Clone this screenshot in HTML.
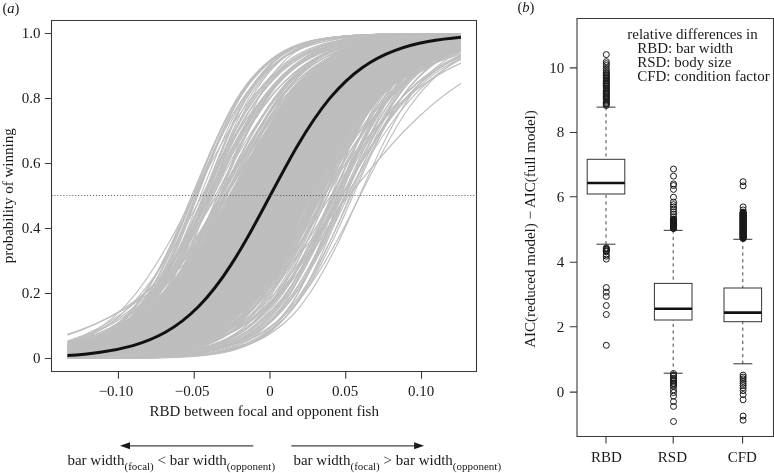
<!DOCTYPE html>
<html><head><meta charset="utf-8"><title>Figure</title>
<style>html,body{margin:0;padding:0;background:#fff;}svg{display:block;}</style>
</head><body>
<svg width="774" height="473" viewBox="0 0 774 473">
<rect width="774" height="473" fill="#fff"/>
<g fill="none" stroke="#bebebe" stroke-width="1.15"><path d="M67.4 356.4c18.7-1.1 37.5-2.6 56.2-6.8c18.7-4.2 37.5-10.9 56.2-25.9c18.8-14.9 37.5-39.8 56.2-74.8c18.8-35.1 37.5-78.8 56.3-112.7c18.7-33.9 37.4-57 56.2-70.9c18.7-13.8 37.5-19.9 56.2-23.7c18.7-3.8 37.5-5.2 56.2-6.2"/><path d="M67.4 357.9c18.7-.3 37.5-.7 56.2-2c18.7-1.2 37.5-3.1 56.2-8.2c18.8-5 37.5-13.2 56.2-30.9c18.8-17.7 37.5-46.7 56.3-84.2c18.7-37.4 37.4-80.6 56.2-111.6c18.7-31.1 37.5-50.3 56.2-61.8c18.7-11.5 37.5-16.3 56.2-19.3"/><path d="M67.4 352c18.7-2.3 37.5-5.7 56.2-12c18.7-6.4 37.5-15.7 56.2-30.9c18.8-15.2 37.5-36.8 56.2-63.5c18.8-26.7 37.5-58.2 56.3-86.1c18.7-28 37.4-51.8 56.2-68.9c18.7-17 37.5-27.9 56.2-35.3c18.7-7.4 37.5-11.4 56.2-14.1"/><path d="M67.4 357.1c18.7-.6 37.5-1.5 56.2-3.6c18.7-2 37.5-5.1 56.2-11.8c18.8-6.6 37.5-17 56.2-35.3c18.8-18.3 37.5-45.6 56.3-78.3c18.7-32.7 37.4-69.2 56.2-97.7c18.7-28.5 37.5-48.7 56.2-61.8c18.7-13.1 37.5-19.9 56.2-24.3"/><path d="M67.4 353.6c18.7-2 37.5-5.2 56.2-12.1c18.7-7 37.5-18 56.2-37.5c18.8-19.6 37.5-48.9 56.2-83.1c18.8-34.2 37.5-71.2 56.3-99c18.7-27.7 37.4-46.3 56.2-58.1c18.7-11.9 37.5-17.7 56.2-21.4c18.7-3.7 37.5-5.3 56.2-6.4"/><path d="M67.4 358.4c18.7  37.5 0 56.2-.2c18.7-.2 37.5-.5 56.2-1.5c18.8-1 37.5-2.6 56.2-7.9c18.8-5.4 37.5-14.5 56.3-37.3c18.7-22.9 37.4-63.6 56.2-109.7c18.7-46.1 37.5-89.9 56.2-115.2c18.7-25.2 37.5-35.8 56.2-41.9"/><path d="M67.4 358.3c18.7-.1 37.5-.3 56.2-.7c18.7-.4 37.5-1.1 56.2-2.8c18.8-1.7 37.5-4.3 56.2-10.6c18.8-6.4 37.5-16.7 56.3-36.8c18.7-20 37.4-51.5 56.2-88.6c18.7-37 37.5-76.8 56.2-105c18.7-28.1 37.5-45.4 56.2-55.9"/><path d="M67.4 352c18.7-2.9 37.5-7.6 56.2-18.4c18.7-10.7 37.5-28.4 56.2-57c18.8-28.7 37.5-69 56.2-106.1c18.8-37.1 37.5-68.1 56.3-87.7c18.7-19.5 37.4-29.5 56.2-35.6c18.7-6.1 37.5-8.6 56.2-10.2c18.7-1.6 37.5-2.2 56.2-2.6"/><path d="M67.4 357.7c18.7-.3 37.5-.8 56.2-1.8c18.7-1.1 37.5-2.7 56.2-6.3c18.8-3.5 37.5-9 56.2-19.7c18.8-10.8 37.5-27.4 56.3-52.4c18.7-25.1 37.4-59 56.2-92.4c18.7-33.3 37.5-64.1 56.2-85.7c18.7-21.7 37.5-35 56.2-43.5"/><path d="M67.4 354.5c18.7-1.8 37.5-4.7 56.2-12.1c18.7-7.3 37.5-19.4 56.2-42.4c18.8-23.1 37.5-58.9 56.2-97.9c18.8-38.9 37.5-77.2 56.3-102.5c18.7-25.3 37.4-39.2 56.2-47.6c18.7-8.3 37.5-11.7 56.2-13.9c18.7-2.2 37.5-3 56.2-3.5"/><path d="M67.4 358.1c18.7-.2 37.5-.6 56.2-1.6c18.7-1 37.5-2.5 56.2-7c18.8-4.5 37.5-11.9 56.2-29.3c18.8-17.4 37.5-47.3 56.3-87c18.7-39.7 37.4-85.6 56.2-117.3c18.7-31.7 37.5-49.9 56.2-60.5c18.7-10.5 37.5-14.5 56.2-17"/><path d="M67.4 355.1c18.7-1.6 37.5-4 56.2-10.3c18.7-6.3 37.5-16.7 56.2-37.2c18.8-20.6 37.5-53.4 56.2-91.8c18.8-38.3 37.5-78.8 56.3-106.6c18.7-27.8 37.4-44.1 56.2-53.9c18.7-9.7 37.5-13.8 56.2-16.3c18.7-2.6 37.5-3.6 56.2-4.2"/><path d="M67.4 352.5c18.7-2.3 37.5-5.7 56.2-12.5c18.7-6.8 37.5-17 56.2-34.2c18.8-17.2 37.5-42 56.2-71.9c18.8-29.9 37.5-63.9 56.3-92c18.7-28.1 37.4-49.8 56.2-64.6c18.7-14.7 37.5-23.2 56.2-28.8c18.7-5.5 37.5-8.3 56.2-10.2"/><path d="M67.4 346.8c18.7-4 37.5-9.8 56.2-20c18.7-10.1 37.5-24.8 56.2-45.7c18.8-20.9 37.5-48.2 56.2-77c18.8-28.7 37.5-57.8 56.3-80.8c18.7-23 37.4-40.1 56.2-51.9c18.7-11.9 37.5-18.9 56.2-23.7c18.7-4.8 37.5-7.4 56.2-9.2"/><path d="M67.4 354.3c18.7-1.7 37.5-4.4 56.2-10.4c18.7-5.9 37.5-15.3 56.2-32.6c18.8-17.2 37.5-43.6 56.2-76.4c18.8-32.8 37.5-70.6 56.3-100.4c18.7-29.9 37.4-51.3 56.2-65c18.7-13.7 37.5-20.7 56.2-25.2c18.7-4.5 37.5-6.4 56.2-7.7"/><path d="M67.4 351.4c18.7-2.5 37.5-6.1 56.2-12.6c18.7-6.5 37.5-16.1 56.2-31.2c18.8-15.1 37.5-36.2 56.2-62.2c18.8-25.9 37.5-56.3 56.3-83.6c18.7-27.4 37.4-51 56.2-68.2c18.7-17.2 37.5-28.6 56.2-36.3c18.7-7.8 37.5-12.1 56.2-15.1"/><path d="M67.4 353c18.7-3.2 37.5-8.4 56.2-24.7c18.7-16.2 37.5-47.2 56.2-92.5c18.8-45.3 37.5-98.7 56.2-131.6c18.8-32.8 37.5-47.9 56.3-56.1c18.7-8.3 37.4-10.5 56.2-12c18.7-1.5 37.5-1.9 56.2-2.2c18.7-.2 37.5-.3 56.2-.3"/><path d="M67.4 352.6c18.7-2.1 37.5-5.2 56.2-11.1c18.7-5.9 37.5-14.7 56.2-29.3c18.8-14.5 37.5-35.4 56.2-61.9c18.8-26.5 37.5-58.2 56.3-86.9c18.7-28.6 37.4-53.3 56.2-71c18.7-17.7 37.5-29 56.2-36.6c18.7-7.6 37.5-11.7 56.2-14.5"/><path d="M67.4 354.4c18.7-1.9 37.5-5 56.2-12.7c18.7-7.7 37.5-20.5 56.2-44.7c18.8-24.2 37.5-61.6 56.2-101c18.8-39.4 37.5-76.8 56.3-101c18.7-24.2 37.4-37 56.2-44.7c18.7-7.7 37.5-10.8 56.2-12.7c18.7-2 37.5-2.7 56.2-3.1"/><path d="M67.4 356c18.7-.9 37.5-2.3 56.2-5.1c18.7-2.8 37.5-6.9 56.2-14.7c18.8-7.8 37.5-19.5 56.2-38c18.8-18.4 37.5-44.2 56.3-73.7c18.7-29.6 37.4-61.9 56.2-88.3c18.7-26.4 37.5-46.5 56.2-60.4c18.7-13.8 37.5-21.8 56.2-27.2"/><path d="M67.4 349.4c18.7-2.9 37.5-6.9 56.2-13.5c18.7-6.7 37.5-16.1 56.2-30c18.8-13.9 37.5-32.7 56.2-55.5c18.8-22.9 37.5-49.6 56.3-74.8c18.7-25.3 37.4-48.7 56.2-67c18.7-18.2 37.5-31.6 56.2-41.2c18.7-9.6 37.5-15.6 56.2-19.9"/><path d="M67.4 352.3c18.7-2.6 37.5-6.5 56.2-14.7c18.7-8.2 37.5-21 56.2-42.3c18.8-21.4 37.5-52.4 56.2-86.2c18.8-33.9 37.5-68.7 56.3-94.3c18.7-25.6 37.4-42.4 56.2-53.2c18.7-10.8 37.5-16.1 56.2-19.6c18.7-3.5 37.5-5 56.2-6"/><path d="M67.4 357.3c18.7-.6 37.5-1.5 56.2-4c18.7-2.5 37.5-6.4 56.2-16.2c18.8-9.8 37.5-26.2 56.2-54.8c18.8-28.5 37.5-70.3 56.3-109.3c18.7-39 37.4-71.6 56.2-91.6c18.7-20 37.5-29.6 56.2-35.5c18.7-5.8 37.5-8 56.2-9.4"/><path d="M67.4 351c18.7-3 37.5-7.5 56.2-16.8c18.7-9.2 37.5-23.5 56.2-46.1c18.8-22.7 37.5-54.4 56.2-87.8c18.8-33.3 37.5-66.3 56.3-90.4c18.7-24 37.4-39.6 56.2-49.6c18.7-10.1 37.5-15.2 56.2-18.5c18.7-3.3 37.5-4.8 56.2-5.8"/><path d="M67.4 353.6c18.7-1.8 37.5-4.5 56.2-9.8c18.7-5.2 37.5-13.1 56.2-26.7c18.8-13.5 37.5-33.4 56.2-59.5c18.8-26.2 37.5-58.4 56.3-88.1c18.7-29.8 37.4-55.9 56.2-74.6c18.7-18.7 37.5-30.6 56.2-38.6c18.7-8 37.5-12.2 56.2-15"/><path d="M67.4 354.9c18.7-1.5 37.5-3.6 56.2-8c18.7-4.4 37.5-11.1 56.2-23.4c18.8-12.3 37.5-30.9 56.2-56.9c18.8-25.9 37.5-59.4 56.3-90.9c18.7-31.6 37.4-59.8 56.2-79.7c18.7-19.9 37.5-32.3 56.2-40.4c18.7-8.1 37.5-12.3 56.2-15"/><path d="M67.4 355.2c18.7-1.2 37.5-3.1 56.2-6.8c18.7-3.7 37.5-9.3 56.2-19.7c18.8-10.3 37.5-25.7 56.2-48.4c18.8-22.7 37.5-53 56.3-84.1c18.7-31 37.4-61.4 56.2-84.2c18.7-22.7 37.5-38.2 56.2-48.6c18.7-10.4 37.5-16 56.2-19.8"/><path d="M67.4 354.2c18.7-1.8 37.5-4.6 56.2-10.7c18.7-6.1 37.5-15.7 56.2-33.1c18.8-17.5 37.5-44.1 56.2-76.8c18.8-32.8 37.5-70.4 56.3-99.9c18.7-29.5 37.4-50.7 56.2-64.3c18.7-13.6 37.5-20.6 56.2-25.1c18.7-4.4 37.5-6.4 56.2-7.7"/><path d="M67.4 351.6c18.7-2.6 37.5-6.4 56.2-13.6c18.7-7.2 37.5-18 56.2-35.4c18.8-17.4 37.5-42.1 56.2-71.2c18.8-29.1 37.5-61.7 56.3-89c18.7-27.2 37.4-48.5 56.2-63.3c18.7-14.7 37.5-23.5 56.2-29.3c18.7-5.8 37.5-8.8 56.2-10.8"/><path d="M67.4 358.4c18.7-.1 37.5-.2 56.2-.5c18.7-.3 37.5-.8 56.2-2.2c18.8-1.4 37.5-3.6 56.2-10c18.8-6.5 37.5-17.3 56.3-40.4c18.7-23.1 37.4-61.3 56.2-103.5c18.7-42.2 37.5-83.1 56.2-108.4c18.7-25.4 37.5-37.9 56.2-45.2"/><path d="M67.4 353.3c18.7-1.9 37.5-4.7 56.2-10.2c18.7-5.4 37.5-13.6 56.2-27.5c18.8-13.9 37.5-34.1 56.2-60.5c18.8-26.3 37.5-58.4 56.3-87.8c18.7-29.4 37.4-55.1 56.2-73.4c18.7-18.4 37.5-30.1 56.2-37.9c18.7-7.8 37.5-12 56.2-14.8"/><path d="M67.4 357.4c18.7-.5 37.5-1.3 56.2-3.1c18.7-1.8 37.5-4.7 56.2-11.1c18.8-6.4 37.5-16.6 56.2-35.5c18.8-18.9 37.5-47.9 56.3-82.5c18.7-34.7 37.4-73.1 56.2-101.8c18.7-28.7 37.5-47.8 56.2-59.9c18.7-12 37.5-17.7 56.2-21.4"/><path d="M67.4 351.8c18.7-2.8 37.5-7.3 56.2-17.1c18.7-9.8 37.5-25.4 56.2-50.9c18.8-25.5 37.5-61.7 56.2-97.6c18.8-35.8 37.5-68.8 56.3-90.9c18.7-22.2 37.4-34.9 56.2-42.8c18.7-7.9 37.5-11.5 56.2-13.7c18.7-2.3 37.5-3.3 56.2-3.9"/><path d="M67.4 357.7c18.7-.4 37.5-.9 56.2-2c18.7-1.1 37.5-2.8 56.2-6.5c18.8-3.7 37.5-9.3 56.2-20.3c18.8-11 37.5-27.9 56.3-53.1c18.7-25.1 37.4-58.9 56.2-91.9c18.7-33 37.5-63.4 56.2-84.8c18.7-21.4 37.5-34.6 56.2-43.1"/><path d="M67.4 349.3c18.7-3.4 37.5-8.4 56.2-17.7c18.7-9.4 37.5-23.3 56.2-44.3c18.8-20.9 37.5-49.4 56.2-79.9c18.8-30.5 37.5-61.8 56.3-86c18.7-24.2 37.4-41.5 56.2-53.2c18.7-11.7 37.5-18.2 56.2-22.6c18.7-4.4 37.5-6.6 56.2-8.1"/><path d="M67.4 350c18.7-3.9 37.5-10.2 56.2-24c18.7-13.9 37.5-36.7 56.2-69.8c18.8-33.2 37.5-75.9 56.2-110.6c18.8-34.7 37.5-60 56.3-75.4c18.7-15.4 37.4-22.5 56.2-27c18.7-4.4 37.5-6.2 56.2-7.3c18.7-1.1 37.5-1.5 56.2-1.8"/><path d="M67.4 350.6c18.7-2.7 37.5-6.7 56.2-13.9c18.7-7.2 37.5-17.8 56.2-34.2c18.8-16.3 37.5-39.1 56.2-66c18.8-27 37.5-57.6 56.3-84.3c18.7-26.6 37.4-48.8 56.2-64.7c18.7-15.9 37.5-26.1 56.2-33c18.7-7 37.5-10.8 56.2-13.4"/><path d="M67.4 357.7c18.7-.4 37.5-.9 56.2-2.4c18.7-1.5 37.5-3.9 56.2-9.7c18.8-5.8 37.5-15.2 56.2-34.1c18.8-18.9 37.5-49.1 56.3-86.1c18.7-37 37.4-78 56.2-107.4c18.7-29.4 37.5-47.8 56.2-58.9c18.7-11.1 37.5-15.9 56.2-19"/><path d="M67.4 357.5c18.7-.5 37.5-1.2 56.2-3.1c18.7-1.8 37.5-4.7 56.2-11.5c18.8-6.8 37.5-17.8 56.2-38.5c18.8-20.7 37.5-52.7 56.3-89.5c18.7-36.8 37.4-75.5 56.2-102.9c18.7-27.3 37.5-44 56.2-54.3c18.7-10.3 37.5-14.8 56.2-17.7"/><path d="M67.4 352.5c18.7-2.3 37.5-5.6 56.2-12.2c18.7-6.6 37.5-16.5 56.2-33c18.8-16.5 37.5-40.3 56.2-69.3c18.8-29 37.5-62.4 56.3-90.7c18.7-28.3 37.4-50.8 56.2-66.3c18.7-15.5 37.5-24.7 56.2-30.8c18.7-6 37.5-9.1 56.2-11.2"/><path d="M67.4 354.6c18.7-1.5 37.5-3.8 56.2-8.3c18.7-4.6 37.5-11.5 56.2-24c18.8-12.5 37.5-31.2 56.2-57c18.8-25.8 37.5-58.8 56.3-89.8c18.7-31.1 37.4-58.9 56.2-78.7c18.7-19.8 37.5-32.3 56.2-40.5c18.7-8.2 37.5-12.5 56.2-15.3"/><path d="M67.4 354.1c18.7-1.7 37.5-4.1 56.2-8.7c18.7-4.7 37.5-11.7 56.2-23.8c18.8-12.1 37.5-29.8 56.2-54c18.8-24.3 37.5-55.1 56.3-85c18.7-29.8 37.4-57.6 56.2-78.1c18.7-20.6 37.5-34.3 56.2-43.6c18.7-9.3 37.5-14.4 56.2-17.8"/><path d="M67.4 356.7c18.7-.8 37.5-2 56.2-5c18.7-3 37.5-7.7 56.2-18c18.8-10.4 37.5-27.1 56.2-54.1c18.8-27 37.5-64.9 56.3-101.1c18.7-36.3 37.4-68.2 56.2-89.1c18.7-20.9 37.5-32.3 56.2-39.3c18.7-7.1 37.5-10.2 56.2-12.2"/><path d="M67.4 354.3c18.7-2.3 37.5-5.8 56.2-16c18.7-10.3 37.5-28.5 56.2-61.5c18.8-33.1 37.5-82 56.2-123c18.8-40.9 37.5-70.1 56.3-86.5c18.7-16.4 37.4-22.7 56.2-26.5c18.7-3.9 37.5-5 56.2-5.8c18.7-.8 37.5-1.1 56.2-1.2"/><path d="M67.4 354.9c18.7-1.8 37.5-4.5 56.2-11.7c18.7-7.2 37.5-19.3 56.2-42.9c18.8-23.7 37.5-61 56.2-101.2c18.8-40.2 37.5-78.8 56.3-103.6c18.7-24.8 37.4-37.8 56.2-45.5c18.7-7.8 37.5-10.7 56.2-12.6c18.7-1.9 37.5-2.6 56.2-3"/><path d="M67.4 354.9c18.7-1.5 37.5-3.8 56.2-9c18.7-5.2 37.5-13.2 56.2-28.5c18.8-15.3 37.5-38.9 56.2-70.1c18.8-31.2 37.5-69 56.3-100.5c18.7-31.4 37.4-55.5 56.2-71.1c18.7-15.7 37.5-23.9 56.2-29.2c18.7-5.3 37.5-7.7 56.2-9.3"/><path d="M67.4 353.1c18.7-2.3 37.5-6 56.2-14.3c18.7-8.3 37.5-21.7 56.2-44.9c18.8-23.3 37.5-57.7 56.2-94.2c18.8-36.5 37.5-72.2 56.3-96.8c18.7-24.5 37.4-39 56.2-48c18.7-9 37.5-13 56.2-15.6c18.7-2.5 37.5-3.6 56.2-4.3"/><path d="M67.4 357.2c18.7-.6 37.5-1.5 56.2-3.9c18.7-2.4 37.5-6.3 56.2-15.4c18.8-9.2 37.5-24.4 56.2-50.8c18.8-26.5 37.5-65.6 56.3-103.9c18.7-38.4 37.4-72.5 56.2-94.4c18.7-21.8 37.5-33.1 56.2-40c18.7-6.9 37.5-9.7 56.2-11.5"/><path d="M67.4 357.6c18.7-.4 37.5-1.1 56.2-2.9c18.7-1.8 37.5-4.7 56.2-11.8c18.8-7.2 37.5-19 56.2-41.8c18.8-22.8 37.5-58.4 56.3-97.5c18.7-39.1 37.4-77.8 56.2-103.3c18.7-25.6 37.5-39.7 56.2-48.1c18.7-8.5 37.5-11.9 56.2-14.1"/><path d="M67.4 356.3c18.7-1 37.5-2.6 56.2-6.3c18.7-3.8 37.5-9.7 56.2-22.3c18.8-12.6 37.5-33 56.2-63.2c18.8-30.2 37.5-70.2 56.3-105.1c18.7-34.9 37.4-62.7 56.2-80.4c18.7-17.7 37.5-26.7 56.2-32.4c18.7-5.7 37.5-8.1 56.2-9.6"/><path d="M67.4 355c18.7-1.5 37.5-3.9 56.2-9.7c18.7-5.8 37.5-15 56.2-33.1c18.8-18.1 37.5-46.7 56.2-82.1c18.8-35.4 37.5-75.5 56.3-105.4c18.7-29.9 37.4-49.7 56.2-61.8c18.7-12.2 37.5-17.8 56.2-21.4c18.7-3.5 37.5-5 56.2-5.9"/><path d="M67.4 358.1c18.7-.2 37.5-.6 56.2-1.5c18.7-.8 37.5-2.2 56.2-5.9c18.8-3.7 37.5-9.5 56.2-23.1c18.8-13.5 37.5-36.1 56.3-69.8c18.7-33.7 37.4-77.6 56.2-113c18.7-35.5 37.5-60.8 56.2-76c18.7-15.3 37.5-22.1 56.2-26.3"/><path d="M67.4 353.1c18.7-2 37.5-5 56.2-11c18.7-5.9 37.5-14.8 56.2-30c18.8-15.2 37.5-37.4 56.2-65.4c18.8-27.9 37.5-61.3 56.3-90.4c18.7-29.2 37.4-53.4 56.2-70.2c18.7-16.8 37.5-27 56.2-33.8c18.7-6.8 37.5-10.2 56.2-12.6"/><path d="M67.4 351.4c18.7-2.4 37.5-6 56.2-12.7c18.7-6.6 37.5-16.3 56.2-31.8c18.8-15.5 37.5-37.2 56.2-63.7c18.8-26.5 37.5-57.4 56.3-84.8c18.7-27.5 37.4-50.8 56.2-67.6c18.7-16.8 37.5-27.7 56.2-35.1c18.7-7.4 37.5-11.4 56.2-14.2"/><path d="M67.4 353.6c18.7-2.3 37.5-5.9 56.2-14.5c18.7-8.7 37.5-23 56.2-48.5c18.8-25.5 37.5-63.6 56.2-102c18.8-38.5 37.5-73.7 56.3-96.5c18.7-22.8 37.4-34.9 56.2-42.2c18.7-7.4 37.5-10.4 56.2-12.3c18.7-1.9 37.5-2.6 56.2-3.1"/><path d="M67.4 352.8c18.7-2.2 37.5-5.5 56.2-12c18.7-6.4 37.5-16.3 56.2-32.9c18.8-16.6 37.5-40.8 56.2-70.3c18.8-29.5 37.5-63.5 56.3-92.1c18.7-28.5 37.4-51 56.2-66.2c18.7-15.3 37.5-24.2 56.2-30c18.7-5.9 37.5-8.8 56.2-10.7"/><path d="M67.4 357.5c18.7-.4 37.5-1.1 56.2-2.9c18.7-1.8 37.5-4.5 56.2-11.2c18.8-6.6 37.5-17.3 56.2-37.7c18.8-20.5 37.5-52.2 56.3-89.1c18.7-36.9 37.4-76.1 56.2-103.8c18.7-27.6 37.5-44.6 56.2-55c18.7-10.4 37.5-14.9 56.2-17.8"/><path d="M67.4 358.1c18.7-.2 37.5-.4 56.2-1.2c18.7-.8 37.5-2 56.2-5.4c18.8-3.4 37.5-8.8 56.2-21.7c18.8-13 37.5-34.9 56.3-68.6c18.7-33.6 37.4-78.5 56.2-114.9c18.7-36.4 37.5-62.3 56.2-77.8c18.7-15.4 37.5-22.2 56.2-26.3"/><path d="M67.4 357.7c18.7-.3 37.5-.9 56.2-2.5c18.7-1.6 37.5-4 56.2-10.4c18.8-6.4 37.5-16.9 56.2-38.2c18.8-21.3 37.5-55.4 56.3-94.7c18.7-39.2 37.4-79.8 56.2-107c18.7-27.1 37.5-42.4 56.2-51.5c18.7-9.1 37.5-12.7 56.2-15.1"/><path d="M67.4 353.6c18.7-2.3 37.5-5.7 56.2-13.8c18.7-8.1 37.5-21.2 56.2-44.5c18.8-23.3 37.5-58.3 56.2-95.5c18.8-37.2 37.5-73.6 56.3-98.2c18.7-24.7 37.4-38.9 56.2-47.7c18.7-8.8 37.5-12.5 56.2-15c18.7-2.4 37.5-3.4 56.2-4"/><path d="M67.4 353.1c18.7-2.1 37.5-5.1 56.2-11.2c18.7-6 37.5-15.1 56.2-30.7c18.8-15.5 37.5-38.2 56.2-66.6c18.8-28.5 37.5-62.1 56.3-91.2c18.7-29.1 37.4-52.9 56.2-69.3c18.7-16.4 37.5-26.2 56.2-32.7c18.7-6.5 37.5-9.8 56.2-12"/><path d="M67.4 352.3c18.7-2.6 37.5-6.6 56.2-15.1c18.7-8.4 37.5-21.7 56.2-43.8c18.8-22.2 37.5-54.1 56.2-88.6c18.8-34.4 37.5-69.1 56.3-94.1c18.7-25 37.4-41 56.2-51.2c18.7-10.1 37.5-15.1 56.2-18.3c18.7-3.2 37.5-4.6 56.2-5.5"/><path d="M67.4 354.8c18.7-1.7 37.5-4.3 56.2-10.3c18.7-6 37.5-15.6 56.2-34.1c18.8-18.4 37.5-47.1 56.2-82.3c18.8-35.1 37.5-74.6 56.3-104c18.7-29.4 37.4-48.9 56.2-61c18.7-12.1 37.5-17.8 56.2-21.4c18.7-3.6 37.5-5.1 56.2-6"/><path d="M67.4 356.9c18.7-.6 37.5-1.7 56.2-4.1c18.7-2.5 37.5-6.2 56.2-14.5c18.8-8.2 37.5-21.3 56.2-43.6c18.8-22.4 37.5-55.2 56.3-90.5c18.7-35.3 37.4-70.7 56.2-95.8c18.7-25.1 37.5-40.7 56.2-50.6c18.7-9.8 37.5-14.4 56.2-17.3"/><path d="M67.4 356.4c18.7-.9 37.5-2.3 56.2-5.6c18.7-3.2 37.5-8.2 56.2-18.8c18.8-10.6 37.5-27.4 56.2-53.6c18.8-26.2 37.5-62.4 56.3-97.4c18.7-35 37.4-66.4 56.2-87.7c18.7-21.2 37.5-33.3 56.2-41c18.7-7.7 37.5-11.2 56.2-13.5"/><path d="M67.4 349.5c18.7-2.8 37.5-6.8 56.2-13.5c18.7-6.7 37.5-16.2 56.2-30.4c18.8-14.2 37.5-33.4 56.2-56.7c18.8-23.3 37.5-50.5 56.3-76c18.7-25.5 37.4-48.9 56.2-66.9c18.7-18.1 37.5-31.1 56.2-40.4c18.7-9.2 37.5-15 56.2-19"/><path d="M67.4 351.7c18.7-2.4 37.5-5.8 56.2-12.2c18.7-6.4 37.5-15.7 56.2-30.8c18.8-15 37.5-36.1 56.2-62.3c18.8-26.1 37.5-56.9 56.3-84.6c18.7-27.6 37.4-51.5 56.2-68.8c18.7-17.3 37.5-28.6 56.2-36.3c18.7-7.7 37.5-11.9 56.2-14.8"/><path d="M67.4 354.6c18.7-1.4 37.5-3.4 56.2-7.5c18.7-4 37.5-10 56.2-20.7c18.8-10.7 37.5-26.4 56.2-48.8c18.8-22.3 37.5-51.7 56.3-81.7c18.7-29.9 37.4-59.3 56.2-81.6c18.7-22.4 37.5-38.1 56.2-48.8c18.7-10.6 37.5-16.6 56.2-20.6"/><path d="M67.4 346.4c18.7-4.2 37.5-10.6 56.2-21.8c18.7-11.3 37.5-27.7 56.2-50.9c18.8-23.1 37.5-53.1 56.2-83c18.8-30 37.5-58.7 56.3-80.4c18.7-21.6 37.4-36.5 56.2-46.6c18.7-10.1 37.5-15.8 56.2-19.6c18.7-3.8 37.5-5.7 56.2-7"/><path d="M67.4 357.9c18.7-.3 37.5-.7 56.2-1.9c18.7-1.3 37.5-3.2 56.2-8.5c18.8-5.3 37.5-14 56.2-32.8c18.8-18.9 37.5-50.2 56.3-89.4c18.7-39.1 37.4-82.5 56.2-112.4c18.7-29.9 37.5-47.2 56.2-57.4c18.7-10.2 37.5-14.2 56.2-16.8"/><path d="M67.4 355.8c18.7-1.1 37.5-2.7 56.2-6.4c18.7-3.6 37.5-9.2 56.2-20.4c18.8-11.1 37.5-28.3 56.2-54.1c18.8-25.8 37.5-60.4 56.3-93.9c18.7-33.4 37.4-63.7 56.2-84.7c18.7-21.1 37.5-33.7 56.2-41.9c18.7-8.1 37.5-12 56.2-14.6"/><path d="M67.4 352.2c18.7-2.8 37.5-7 56.2-16.5c18.7-9.4 37.5-24.6 56.2-49.8c18.8-25.2 37.5-61.3 56.2-97.5c18.8-36.2 37.5-69.7 56.3-92.3c18.7-22.6 37.4-35.4 56.2-43.5c18.7-8 37.5-11.6 56.2-13.9c18.7-2.3 37.5-3.2 56.2-3.8"/><path d="M67.4 353.7c18.7-2 37.5-5 56.2-11.8c18.7-6.8 37.5-17.4 56.2-36.4c18.8-19.1 37.5-47.7 56.2-81.6c18.8-33.8 37.5-70.9 56.3-99.1c18.7-28.2 37.4-47.4 56.2-59.7c18.7-12.2 37.5-18.3 56.2-22.2c18.7-3.9 37.5-5.6 56.2-6.7"/><path d="M67.4 350.7c18.7-3.7 37.5-9.7 56.2-23.6c18.7-14 37.5-37.4 56.2-72c18.8-34.7 37.5-79.3 56.2-114.6c18.8-35.2 37.5-59.6 56.3-74.1c18.7-14.5 37.4-20.8 56.2-24.7c18.7-3.9 37.5-5.4 56.2-6.3c18.7-.9 37.5-1.2 56.2-1.5"/><path d="M67.4 354.3c18.7-1.6 37.5-4.1 56.2-9c18.7-4.9 37.5-12.4 56.2-25.7c18.8-13.3 37.5-33.1 56.2-59.9c18.8-26.7 37.5-60.2 56.3-90.9c18.7-30.8 37.4-57.5 56.2-76.3c18.7-18.8 37.5-30.4 56.2-38c18.7-7.6 37.5-11.6 56.2-14.2"/><path d="M67.4 349.6c18.7-2.9 37.5-7.2 56.2-14.7c18.7-7.5 37.5-18.4 56.2-34.8c18.8-16.3 37.5-38.7 56.2-64.9c18.8-26.2 37.5-55.8 56.3-81.7c18.7-25.9 37.4-47.7 56.2-63.7c18.7-15.9 37.5-26.4 56.2-33.6c18.7-7.2 37.5-11.4 56.2-14.2"/><path d="M67.4 355c18.7-1.6 37.5-4.1 56.2-10.1c18.7-6.1 37.5-15.8 56.2-35c18.8-19.1 37.5-49.3 56.2-85.8c18.8-36.5 37.5-76.7 56.3-105.8c18.7-29 37.4-47.3 56.2-58.5c18.7-11.2 37.5-16.2 56.2-19.3c18.7-3.2 37.5-4.4 56.2-5.2"/><path d="M67.4 349.5c18.7-3 37.5-7.2 56.2-14.6c18.7-7.4 37.5-18 56.2-34c18.8-15.9 37.5-37.6 56.2-63.2c18.8-25.6 37.5-54.6 56.3-80.4c18.7-25.8 37.4-48 56.2-64.3c18.7-16.4 37.5-27.4 56.2-35c18.7-7.6 37.5-12.1 56.2-15.1"/><path d="M67.4 356.8c18.7-1 37.5-2.3 56.2-6.6c18.7-4.4 37.5-11.4 56.2-28.9c18.8-17.4 37.5-47.9 56.2-88.8c18.8-40.9 37.5-88.1 56.3-119.8c18.7-31.8 37.4-49.2 56.2-59.2c18.7-9.9 37.5-13.5 56.2-15.7c18.7-2.2 37.5-2.9 56.2-3.4"/><path d="M67.4 353c18.7-1.9 37.5-4.7 56.2-9.8c18.7-5.2 37.5-12.7 56.2-25.2c18.8-12.4 37.5-30.2 56.2-53.7c18.8-23.6 37.5-52.8 56.3-81.2c18.7-28.4 37.4-55 56.2-75.1c18.7-20.2 37.5-34.3 56.2-44c18.7-9.7 37.5-15.3 56.2-19.2"/><path d="M67.4 357.5c18.7-.7 37.5-1.5 56.2-7c18.7-5.5 37.5-15.5 56.2-48.6c18.8-33.1 37.5-97.7 56.2-150.8c18.8-53.2 37.5-83.3 56.3-97c18.7-13.6 37.4-16.2 56.2-18c18.7-1.8 37.5-2.1 56.2-2.3c18.7-.2 37.5-.2 56.2-.3"/><path d="M67.4 358.3c18.7-.1 37.5-.3 56.2-.7c18.7-.5 37.5-1.2 56.2-3.4c18.8-2.2 37.5-5.6 56.2-14.9c18.8-9.3 37.5-25.2 56.3-54.4c18.7-29.3 37.4-73.4 56.2-114.1c18.7-40.7 37.5-73.7 56.2-93.3c18.7-19.5 37.5-28.2 56.2-33.4"/><path d="M67.4 356.8c18.7-.9 37.5-2.1 56.2-5.6c18.7-3.5 37.5-9.1 56.2-22.2c18.8-13.2 37.5-35.3 56.2-68.8c18.8-33.5 37.5-77.8 56.3-113.9c18.7-36 37.4-61.8 56.2-77.3c18.7-15.5 37.5-22.3 56.2-26.6c18.7-4.2 37.5-5.8 56.2-6.8"/><path d="M67.4 354.5c18.7-2 37.5-5 56.2-12.9c18.7-8 37.5-21.2 56.2-46.4c18.8-25.2 37.5-64.2 56.2-104.3c18.8-40.1 37.5-77 56.3-100.2c18.7-23.3 37.4-35.1 56.2-42.2c18.7-7 37.5-9.7 56.2-11.5c18.7-1.7 37.5-2.3 56.2-2.7"/><path d="M67.4 356.7c18.7-.8 37.5-2.1 56.2-5.4c18.7-3.3 37.5-8.5 56.2-20.5c18.8-11.9 37.5-31.7 56.2-62.5c18.8-30.8 37.5-72.6 56.3-109.1c18.7-36.4 37.4-64.9 56.2-82.6c18.7-17.7 37.5-26.2 56.2-31.5c18.7-5.3 37.5-7.4 56.2-8.7"/><path d="M67.4 348.8c18.7-3.2 37.5-7.9 56.2-15.9c18.7-8.1 37.5-19.6 56.2-36.8c18.8-17.2 37.5-40.3 56.2-66.7c18.8-26.5 37.5-55.8 56.3-81.1c18.7-25.2 37.4-46.1 56.2-61.3c18.7-15.2 37.5-25.1 56.2-32c18.7-6.8 37.5-10.7 56.2-13.4"/><path d="M67.4 357.3c18.7-.5 37.5-1.2 56.2-2.7c18.7-1.4 37.5-3.7 56.2-8.3c18.8-4.6 37.5-11.6 56.2-24.3c18.8-12.7 37.5-31.7 56.3-58c18.7-26.3 37.4-59.9 56.2-91.1c18.7-31.3 37.5-58.9 56.2-78.3c18.7-19.5 37.5-31.6 56.2-39.5"/><path d="M67.4 354.9c18.7-1.8 37.5-4.5 56.2-11.7c18.7-7.1 37.5-19.1 56.2-42.5c18.8-23.5 37.5-60.5 56.2-100.5c18.8-40.1 37.5-78.9 56.3-103.9c18.7-24.9 37.4-38.1 56.2-46c18.7-7.8 37.5-10.9 56.2-12.8c18.7-2 37.5-2.6 56.2-3.1"/><path d="M67.4 351.8c18.7-2.3 37.5-5.6 56.2-11.6c18.7-6 37.5-14.8 56.2-28.7c18.8-14 37.5-33.6 56.2-58.2c18.8-24.7 37.5-54.3 56.3-81.8c18.7-27.6 37.4-52.3 56.2-70.8c18.7-18.5 37.5-31.1 56.2-39.8c18.7-8.7 37.5-13.7 56.2-17.2"/><path d="M67.4 358.3c18.7-.1 37.5-.3 56.2-.8c18.7-.4 37.5-1.2 56.2-3.5c18.8-2.3 37.5-6 56.2-16c18.8-10.1 37.5-27.6 56.3-58.9c18.7-31.3 37.4-77.7 56.2-118.1c18.7-40.5 37.5-71.2 56.2-88.9c18.7-17.8 37.5-25.2 56.2-29.7"/><path d="M67.4 351.2c18.7-2.7 37.5-6.6 56.2-13.9c18.7-7.4 37.5-18.3 56.2-35.7c18.8-17.3 37.5-41.7 56.2-70.3c18.8-28.6 37.5-60.7 56.3-87.6c18.7-27 37.4-48.3 56.2-63.2c18.7-14.9 37.5-23.8 56.2-29.8c18.7-6 37.5-9.2 56.2-11.3"/><path d="M67.4 354.6c18.7-1.5 37.5-3.7 56.2-8c18.7-4.4 37.5-10.9 56.2-22.6c18.8-11.7 37.5-29 56.2-53.3c18.8-24.3 37.5-55.7 56.3-86.3c18.7-30.6 37.4-59.2 56.2-80.2c18.7-21 37.5-34.8 56.2-44.1c18.7-9.2 37.5-14.2 56.2-17.6"/><path d="M67.4 356.7c18.7-.9 37.5-2.1 56.2-5.3c18.7-3.2 37.5-8.1 56.2-19.2c18.8-11.1 37.5-29 56.2-57.4c18.8-28.5 37.5-67.8 56.3-104.1c18.7-36.2 37.4-66.8 56.2-86.4c18.7-19.6 37.5-29.8 56.2-36.2c18.7-6.4 37.5-9 56.2-10.8"/><path d="M67.4 358c18.7-.2 37.5-.6 56.2-1.6c18.7-1 37.5-2.5 56.2-6.5c18.8-4 37.5-10.4 56.2-24.6c18.8-14.3 37.5-37.8 56.3-71.7c18.7-34 37.4-77.1 56.2-111.6c18.7-34.5 37.5-58.9 56.2-73.8c18.7-14.8 37.5-21.5 56.2-25.7"/><path d="M67.4 357.2c18.7-.5 37.5-1.4 56.2-3.7c18.7-2.3 37.5-5.9 56.2-14.3c18.8-8.5 37.5-22.3 56.2-46.9c18.8-24.5 37.5-61.1 56.3-98.9c18.7-37.8 37.4-73.4 56.2-97c18.7-23.6 37.5-36.7 56.2-44.7c18.7-8 37.5-11.3 56.2-13.5"/><path d="M67.4 358c18.7-.2 37.5-.5 56.2-1.5c18.7-.9 37.5-2.4 56.2-6.5c18.8-4 37.5-10.6 56.2-25.7c18.8-15 37.5-40.4 56.3-76.3c18.7-36 37.4-80.8 56.2-114.9c18.7-34 37.5-56.5 56.2-69.9c18.7-13.3 37.5-18.9 56.2-22.4"/><path d="M67.4 355.2c18.7-1.4 37.5-3.5 56.2-8.4c18.7-4.9 37.5-12.6 56.2-27.5c18.8-15 37.5-38.3 56.2-69.7c18.8-31.3 37.5-69.9 56.3-102c18.7-32.1 37.4-56.6 56.2-72.3c18.7-15.8 37.5-24 56.2-29.3c18.7-5.2 37.5-7.5 56.2-9"/><path d="M67.4 349.5c18.7-2.9 37.5-7.1 56.2-14.3c18.7-7.3 37.5-17.7 56.2-33.4c18.8-15.6 37.5-36.9 56.2-62.2c18.8-25.2 37.5-54 56.3-79.9c18.7-25.8 37.4-48.2 56.2-64.9c18.7-16.6 37.5-27.9 56.2-35.8c18.7-7.9 37.5-12.5 56.2-15.7"/><path d="M67.4 352.1c18.7-2.4 37.5-6.1 56.2-13.2c18.7-7 37.5-17.8 56.2-35.4c18.8-17.6 37.5-42.9 56.2-72.8c18.8-30 37.5-63.6 56.3-91.1c18.7-27.6 37.4-48.8 56.2-63.2c18.7-14.3 37.5-22.6 56.2-28.1c18.7-5.4 37.5-8.2 56.2-10"/><path d="M67.4 354.3c18.7-2.5 37.5-6.4 56.2-19.6c18.7-13.2 37.5-38.5 56.2-81c18.8-42.5 37.5-98.8 56.2-136.1c18.8-37.3 37.5-56.2 56.3-66.3c18.7-10.1 37.4-12.9 56.2-14.7c18.7-1.8 37.5-2.3 56.2-2.6c18.7-.3 37.5-.4 56.2-.4"/><path d="M67.4 356.6c18.7-1 37.5-2.3 56.2-6c18.7-3.7 37.5-9.5 56.2-22.7c18.8-13.1 37.5-34.9 56.2-67.5c18.8-32.6 37.5-75.3 56.3-110.8c18.7-35.5 37.4-61.8 56.2-77.8c18.7-16.1 37.5-23.6 56.2-28.2c18.7-4.7 37.5-6.4 56.2-7.6"/><path d="M67.4 355.1c18.7-1.4 37.5-3.7 56.2-8.9c18.7-5.2 37.5-13.4 56.2-29.4c18.8-16 37.5-41.1 56.2-73.8c18.8-32.8 37.5-72.1 56.3-103.5c18.7-31.4 37.4-54.3 56.2-68.8c18.7-14.5 37.5-21.7 56.2-26.4c18.7-4.6 37.5-6.5 56.2-7.8"/><path d="M67.4 356.1c18.7-1.1 37.5-2.7 56.2-6.5c18.7-3.9 37.5-9.9 56.2-22.6c18.8-12.6 37.5-32.8 56.2-62.6c18.8-29.7 37.5-68.9 56.3-103.3c18.7-34.5 37.4-62.4 56.2-80.4c18.7-17.9 37.5-27.4 56.2-33.3c18.7-5.9 37.5-8.5 56.2-10.1"/><path d="M67.4 335.1c18.7-6.1 37.5-14.5 56.2-26.4c18.7-11.9 37.5-27.6 56.2-46.7c18.8-19.2 37.5-41.9 56.2-64.8c18.8-22.9 37.5-45.8 56.3-65.2c18.7-19.4 37.4-35.3 56.2-47.4c18.7-12.2 37.5-20.7 56.2-27c18.7-6.3 37.5-10.4 56.2-13.3"/><path d="M67.4 350.8c18.7-2.8 37.5-7 56.2-14.9c18.7-7.8 37.5-19.5 56.2-37.9c18.8-18.4 37.5-44.1 56.2-73.5c18.8-29.5 37.5-61.6 56.3-87.9c18.7-26.3 37.4-46.5 56.2-60.3c18.7-13.9 37.5-22 56.2-27.5c18.7-5.4 37.5-8.2 56.2-10.1"/><path d="M67.4 349.4c18.7-3.6 37.5-9.1 56.2-19.9c18.7-10.8 37.5-27.4 56.2-52.4c18.8-25 37.5-58.7 56.2-91.8c18.8-33.2 37.5-63.8 56.3-85.5c18.7-21.6 37.4-35 56.2-43.6c18.7-8.6 37.5-12.9 56.2-15.7c18.7-2.8 37.5-4.1 56.2-4.9"/><path d="M67.4 354.5c18.7-1.4 37.5-3.6 56.2-8c18.7-4.4 37.5-10.9 56.2-22.6c18.8-11.6 37.5-28.9 56.2-53.2c18.8-24.2 37.5-55.4 56.3-86c18.7-30.6 37.4-59.1 56.2-80.1c18.7-21 37.5-34.9 56.2-44.2c18.7-9.4 37.5-14.4 56.2-17.7"/><path d="M67.4 358.2c18.7-.1 37.5-.3 56.2-.9c18.7-.6 37.5-1.4 56.2-3.8c18.8-2.5 37.5-6.3 56.2-15.7c18.8-9.5 37.5-25.4 56.3-53.3c18.7-27.8 37.4-69 56.2-108.1c18.7-39.1 37.5-72.3 56.2-93c18.7-20.6 37.5-30.7 56.2-36.8"/><path d="M67.4 348.5c18.7-3.1 37.5-7.6 56.2-14.9c18.7-7.3 37.5-17.7 56.2-32.8c18.8-15.1 37.5-35.3 56.2-59.2c18.8-23.8 37.5-51.1 56.3-76.1c18.7-24.9 37.4-47.2 56.2-64.3c18.7-17.1 37.5-29.2 56.2-37.9c18.7-8.6 37.5-13.9 56.2-17.6"/><path d="M67.4 344.8c18.7-4.1 37.5-9.9 56.2-19.1c18.7-9.3 37.5-22.1 56.2-39.8c18.8-17.7 37.5-40.4 56.2-65.3c18.8-24.8 37.5-51.4 56.3-74.5c18.7-23.1 37.4-42.4 56.2-56.9c18.7-14.4 37.5-24.4 56.2-31.4c18.7-7 37.5-11.3 56.2-14.4"/><path d="M67.4 349.9c18.7-2.7 37.5-6.6 56.2-13.1c18.7-6.5 37.5-15.7 56.2-29.7c18.8-13.9 37.5-32.8 56.2-55.9c18.8-23.2 37.5-50.4 56.3-76.1c18.7-25.7 37.4-49.4 56.2-67.8c18.7-18.4 37.5-31.6 56.2-41.1c18.7-9.5 37.5-15.3 56.2-19.4"/><path d="M67.4 357.8c18.7-.3 37.5-.8 56.2-2.1c18.7-1.3 37.5-3.4 56.2-8.8c18.8-5.4 37.5-14.1 56.2-32.6c18.8-18.4 37.5-48.5 56.3-86.3c18.7-37.7 37.4-80.1 56.2-110.2c18.7-30.2 37.5-48.6 56.2-59.6c18.7-11 37.5-15.6 56.2-18.6"/><path d="M67.4 355.3c18.7-1.3 37.5-3.2 56.2-7.2c18.7-4.1 37.5-10.3 56.2-22.2c18.8-11.8 37.5-29.8 56.2-55.8c18.8-26 37.5-60 56.3-92.4c18.7-32.4 37.4-61.5 56.2-81.8c18.7-20.4 37.5-32.8 56.2-40.9c18.7-8.1 37.5-12.1 56.2-14.8"/><path d="M67.4 357.4c18.7-.5 37.5-1.2 56.2-3c18.7-1.7 37.5-4.4 56.2-10.5c18.8-6.1 37.5-15.7 56.2-33.6c18.8-18 37.5-45.4 56.3-79.2c18.7-33.8 37.4-72.1 56.2-101.6c18.7-29.5 37.5-50 56.2-62.9c18.7-13 37.5-19.4 56.2-23.4"/><path d="M67.4 354.4c18.7-1.5 37.5-3.8 56.2-8.2c18.7-4.4 37.5-10.9 56.2-22.4c18.8-11.6 37.5-28.5 56.2-52.2c18.8-23.6 37.5-54.1 56.3-84.2c18.7-30.1 37.4-58.6 56.2-79.9c18.7-21.2 37.5-35.6 56.2-45.3c18.7-9.7 37.5-15.1 56.2-18.7"/><path d="M67.4 353.2c18.7-2.3 37.5-5.8 56.2-13.8c18.7-8.1 37.5-20.9 56.2-43.5c18.8-22.5 37.5-55.9 56.2-92.1c18.8-36.1 37.5-72.2 56.3-97.4c18.7-25.2 37.4-40.5 56.2-50c18.7-9.5 37.5-13.8 56.2-16.6c18.7-2.7 37.5-3.9 56.2-4.6"/><path d="M67.4 350.9c18.7-2.9 37.5-7.3 56.2-15.8c18.7-8.6 37.5-21.7 56.2-42.4c18.8-20.6 37.5-49.7 56.2-81.4c18.8-31.8 37.5-64.8 56.3-90c18.7-25.3 37.4-43 56.2-54.7c18.7-11.7 37.5-18 56.2-22.2c18.7-4.2 37.5-6.1 56.2-7.5"/><path d="M67.4 358.3c18.7-.1 37.5-.2 56.2-.7c18.7-.4 37.5-1.1 56.2-3.1c18.8-1.9 37.5-5 56.2-13c18.8-8.1 37.5-21.7 56.3-47.5c18.7-25.9 37.4-65.9 56.2-106.4c18.7-40.5 37.5-77 56.2-99.7c18.7-22.6 37.5-33.7 56.2-40.4"/><path d="M67.4 355c18.7-1.4 37.5-3.5 56.2-8.1c18.7-4.5 37.5-11.5 56.2-24.7c18.8-13.2 37.5-33.4 56.2-61.3c18.8-28 37.5-63.5 56.3-95.6c18.7-32.1 37.4-59.2 56.2-77.7c18.7-18.4 37.5-29.2 56.2-36.1c18.7-7 37.5-10.3 56.2-12.5"/><path d="M67.4 354.9c18.7-1.5 37.5-3.6 56.2-8c18.7-4.4 37.5-11.1 56.2-23.4c18.8-12.4 37.5-30.9 56.2-56.9c18.8-26 37.5-59.4 56.3-91c18.7-31.5 37.4-59.7 56.2-79.6c18.7-19.9 37.5-32.3 56.2-40.4c18.7-8.1 37.5-12.2 56.2-15"/><path d="M67.4 356.1c18.7-1 37.5-2.5 56.2-6c18.7-3.5 37.5-8.9 56.2-20c18.8-11.1 37.5-28.6 56.2-55.2c18.8-26.6 37.5-62.7 56.3-97.1c18.7-34.3 37.4-64.8 56.2-85.5c18.7-20.6 37.5-32.5 56.2-40.1c18.7-7.5 37.5-11 56.2-13.3"/><path d="M67.4 351.8c18.7-2.4 37.5-5.9 56.2-12.4c18.7-6.5 37.5-16.2 56.2-31.7c18.8-15.5 37.5-37.5 56.2-64.4c18.8-27 37.5-58.4 56.3-86.2c18.7-27.7 37.4-51.1 56.2-67.9c18.7-16.7 37.5-27.3 56.2-34.5c18.7-7.2 37.5-11.1 56.2-13.7"/><path d="M67.4 357.1c18.7-.7 37.5-1.6 56.2-4c18.7-2.3 37.5-5.9 56.2-13.9c18.8-8.1 37.5-20.9 56.2-43.2c18.8-22.3 37.5-55.3 56.3-91.1c18.7-35.8 37.4-71.8 56.2-97.1c18.7-25.4 37.5-40.9 56.2-50.6c18.7-9.7 37.5-14.2 56.2-17.1"/><path d="M67.4 354.6c18.7-1.7 37.5-4.4 56.2-10.5c18.7-6.1 37.5-15.8 56.2-34.1c18.8-18.3 37.5-46.6 56.2-81.2c18.8-34.6 37.5-73.5 56.3-102.9c18.7-29.3 37.4-49.1 56.2-61.5c18.7-12.4 37.5-18.4 56.2-22.1c18.7-3.8 37.5-5.4 56.2-6.4"/><path d="M67.4 357.1c18.7-.6 37.5-1.6 56.2-4.3c18.7-2.7 37.5-7 56.2-17.5c18.8-10.4 37.5-27.9 56.2-57.2c18.8-29.4 37.5-71.5 56.3-109.7c18.7-38.3 37.4-69.6 56.2-88.8c18.7-19.2 37.5-28.4 56.2-34c18.7-5.7 37.5-7.8 56.2-9.2"/><path d="M67.4 356.9c18.7-.7 37.5-1.8 56.2-4.2c18.7-2.5 37.5-6.3 56.2-14.5c18.8-8.2 37.5-21.1 56.2-43.1c18.8-22 37.5-54 56.3-88.9c18.7-34.8 37.4-70.1 56.2-95.4c18.7-25.4 37.5-41.5 56.2-51.6c18.7-10.2 37.5-15.1 56.2-18.2"/><path d="M67.4 350.1c18.7-4.1 37.5-10.6 56.2-25.6c18.7-15.1 37.5-40.4 56.2-76.4c18.8-36 37.5-80.9 56.2-115c18.8-34.1 37.5-56.6 56.3-69.9c18.7-13.3 37.4-18.9 56.2-22.4c18.7-3.5 37.5-4.8 56.2-5.6c18.7-.8 37.5-1.1 56.2-1.3"/><path d="M67.4 352.7c18.7-2.2 37.5-5.3 56.2-11.5c18.7-6.1 37.5-15.2 56.2-30.5c18.8-15.3 37.5-37.4 56.2-65c18.8-27.6 37.5-60.2 56.3-88.9c18.7-28.7 37.4-52.6 56.2-69.5c18.7-16.8 37.5-27.2 56.2-34.1c18.7-6.9 37.5-10.6 56.2-13"/><path d="M67.4 353.7c18.7-2.2 37.5-5.7 56.2-14.3c18.7-8.6 37.5-22.7 56.2-48.2c18.8-25.4 37.5-63.6 56.2-102.3c18.8-38.6 37.5-74.1 56.3-96.9c18.7-22.9 37.4-35 56.2-42.3c18.7-7.3 37.5-10.3 56.2-12.2c18.7-1.9 37.5-2.6 56.2-3"/><path d="M67.4 344.5c18.7-5 37.5-12.4 56.2-25.1c18.7-12.7 37.5-31.2 56.2-56c18.8-24.9 37.5-56 56.2-85.6c18.8-29.7 37.5-56.7 56.3-76.5c18.7-19.8 37.4-32.9 56.2-41.8c18.7-8.8 37.5-13.7 56.2-16.9c18.7-3.3 37.5-4.9 56.2-6"/><path d="M67.4 356.7c18.7-.8 37.5-1.9 56.2-4.4c18.7-2.5 37.5-6.4 56.2-14.2c18.8-7.9 37.5-20.1 56.2-40.4c18.8-20.3 37.5-49.7 56.3-82.6c18.7-33 37.4-67.7 56.2-94c18.7-26.3 37.5-44.3 56.2-56.1c18.7-11.7 37.5-17.7 56.2-21.6"/><path d="M67.4 357.2c18.7-.6 37.5-1.4 56.2-3.5c18.7-2 37.5-5.2 56.2-12.2c18.8-7.1 37.5-18.3 56.2-38.4c18.8-20.1 37.5-50.4 56.3-85.3c18.7-34.9 37.4-72.2 56.2-99.6c18.7-27.4 37.5-45.3 56.2-56.5c18.7-11.3 37.5-16.6 56.2-20.1"/><path d="M67.4 353.7c18.7-2 37.5-5 56.2-11.4c18.7-6.4 37.5-16.3 56.2-33.9c18.8-17.6 37.5-43.9 56.2-76c18.8-32 37.5-68.5 56.3-97.4c18.7-29 37.4-50.2 56.2-64c18.7-13.8 37.5-21 56.2-25.7c18.7-4.7 37.5-6.9 56.2-8.3"/><path d="M67.4 356.9c18.7-.7 37.5-1.8 56.2-4.7c18.7-2.8 37.5-7.3 56.2-17.4c18.8-10.1 37.5-26.6 56.2-53.9c18.8-27.2 37.5-66 56.3-103c18.7-37 37.4-69.3 56.2-90.1c18.7-20.9 37.5-31.9 56.2-38.7c18.7-6.9 37.5-9.7 56.2-11.6"/><path d="M67.4 357.4c18.7-.5 37.5-1.2 56.2-3.1c18.7-1.8 37.5-4.6 56.2-11.1c18.8-6.4 37.5-16.7 56.2-36c18.8-19.2 37.5-48.7 56.3-83.8c18.7-35.2 37.4-73.7 56.2-102.2c18.7-28.5 37.5-47.2 56.2-58.9c18.7-11.7 37.5-17.2 56.2-20.7"/><path d="M67.4 355.1c18.7-1.5 37.5-3.9 56.2-9.8c18.7-5.9 37.5-15.4 56.2-34.4c18.8-18.9 37.5-49 56.2-85.7c18.8-36.7 37.5-77.3 56.3-106.6c18.7-29.3 37.4-47.7 56.2-59c18.7-11.2 37.5-16.1 56.2-19.2c18.7-3.2 37.5-4.4 56.2-5.2"/><path d="M67.4 358.4c18.7 0 37.5-.1 56.2-.3c18.7-.3 37.5-.6 56.2-1.7c18.8-1.1 37.5-2.8 56.2-7.8c18.8-5.1 37.5-13.5 56.3-33.1c18.7-19.6 37.4-53.3 56.2-95.1c18.7-41.8 37.5-86.8 56.2-116c18.7-29.2 37.5-44.4 56.2-53.2"/><path d="M67.4 353.2c18.7-2.1 37.5-5.3 56.2-11.9c18.7-6.6 37.5-16.8 56.2-34.4c18.8-17.5 37.5-43.4 56.2-74.7c18.8-31.3 37.5-66.7 56.3-95.3c18.7-28.5 37.4-49.8 56.2-63.9c18.7-14 37.5-21.7 56.2-26.7c18.7-5 37.5-7.3 56.2-8.9"/><path d="M67.4 358.2c18.7-.2 37.5-.4 56.2-1.3c18.7-.8 37.5-2 56.2-5.9c18.8-3.8 37.5-10.1 56.2-26c18.8-15.8 37.5-43.7 56.3-83.2c18.7-39.6 37.4-87.6 56.2-121.3c18.7-33.7 37.5-53.2 56.2-64.4c18.7-11.1 37.5-15.1 56.2-17.7"/><path d="M67.4 354.4c18.7-1.8 37.5-4.7 56.2-11.7c18.7-6.9 37.5-18.2 56.2-39.6c18.8-21.3 37.5-54.4 56.2-91.8c18.8-37.4 37.5-76 56.3-102.8c18.7-26.8 37.4-42.7 56.2-52.5c18.7-9.7 37.5-13.9 56.2-16.6c18.7-2.7 37.5-3.7 56.2-4.4"/><path d="M67.4 354.7c18.7-1.6 37.5-3.9 56.2-9c18.7-5.1 37.5-12.9 56.2-27.4c18.8-14.6 37.5-36.7 56.2-66.2c18.8-29.6 37.5-65.9 56.3-97.3c18.7-31.3 37.4-56.6 56.2-73.4c18.7-16.9 37.5-26.3 56.2-32.4c18.7-6.1 37.5-8.9 56.2-10.8"/><path d="M67.4 354.9c18.7-1.4 37.5-3.5 56.2-7.8c18.7-4.4 37.5-11.1 56.2-23.4c18.8-12.3 37.5-31 56.2-57.1c18.8-26.2 37.5-59.9 56.3-91.6c18.7-31.7 37.4-60 56.2-79.8c18.7-19.8 37.5-32.1 56.2-40.1c18.7-8 37.5-12 56.2-14.7"/><path d="M67.4 353.8c18.7-1.9 37.5-4.7 56.2-10.4c18.7-5.8 37.5-14.5 56.2-30c18.8-15.5 37.5-38.5 56.2-67.9c18.8-29.3 37.5-64.4 56.3-94.3c18.7-29.9 37.4-53.8 56.2-70c18.7-16.2 37.5-25.6 56.2-31.6c18.7-6.1 37.5-9.1 56.2-11.1"/><path d="M67.4 345.7c18.7-4.6 37.5-11.6 56.2-23.8c18.7-12.3 37.5-30.4 56.2-55.3c18.8-24.9 37.5-56.6 56.2-87c18.8-30.3 37.5-58.2 56.3-78.4c18.7-20.2 37.4-33.5 56.2-42.3c18.7-8.8 37.5-13.6 56.2-16.8c18.7-3.1 37.5-4.7 56.2-5.8"/><path d="M67.4 354.6c18.7-1.7 37.5-4.2 56.2-10c18.7-5.7 37.5-14.7 56.2-31.6c18.8-16.9 37.5-42.9 56.2-75.7c18.8-32.8 37.5-71.1 56.3-101.4c18.7-30.3 37.4-52.1 56.2-66.1c18.7-13.9 37.5-21 56.2-25.5c18.7-4.5 37.5-6.5 56.2-7.8"/><path d="M67.4 353.5c18.7-1.8 37.5-4.5 56.2-9.6c18.7-5 37.5-12.5 56.2-25.3c18.8-12.7 37.5-31.2 56.2-55.8c18.8-24.6 37.5-55.3 56.3-84.5c18.7-29.3 37.4-56.1 56.2-75.8c18.7-19.8 37.5-33.1 56.2-42.1c18.7-9 37.5-14 56.2-17.4"/><path d="M67.4 355.9c18.7-1.1 37.5-2.8 56.2-7.1c18.7-4.2 37.5-10.9 56.2-24.9c18.8-14 37.5-36.4 56.2-68.1c18.8-31.7 37.5-72.1 56.3-105.8c18.7-33.8 37.4-59.4 56.2-75.6c18.7-16.1 37.5-24.2 56.2-29.3c18.7-5 37.5-7.1 56.2-8.5"/><path d="M67.4 355.2c18.7-1.3 37.5-3.3 56.2-7.6c18.7-4.3 37.5-11 56.2-23.7c18.8-12.7 37.5-32.1 56.2-59.6c18.8-27.5 37.5-62.9 56.3-95.3c18.7-32.5 37.4-60.4 56.2-79.4c18.7-19.1 37.5-30.2 56.2-37.5c18.7-7.2 37.5-10.6 56.2-12.9"/><path d="M67.4 353.3c18.7-1.9 37.5-4.8 56.2-10.6c18.7-5.9 37.5-14.6 56.2-29.8c18.8-15.1 37.5-37.2 56.2-65.4c18.8-28.2 37.5-61.9 56.3-91.4c18.7-29.4 37.4-53.8 56.2-70.6c18.7-16.9 37.5-27 56.2-33.6c18.7-6.7 37.5-10.1 56.2-12.4"/><path d="M67.4 356.7c18.7-.7 37.5-1.8 56.2-4.1c18.7-2.3 37.5-5.9 56.2-13.1c18.8-7.2 37.5-18.4 56.2-37.1c18.8-18.8 37.5-46.1 56.3-77.9c18.7-31.8 37.4-66.8 56.2-94.2c18.7-27.5 37.5-47.4 56.2-60.4c18.7-13.1 37.5-20.1 56.2-24.7"/><path d="M67.4 355.1c18.7-1.9 37.5-4.8 56.2-14c18.7-9.2 37.5-25.6 56.2-58c18.8-32.4 37.5-82.5 56.2-125.4c18.8-42.9 37.5-73.6 56.3-90.5c18.7-16.9 37.4-23.1 56.2-26.8c18.7-3.8 37.5-4.9 56.2-5.6c18.7-.7 37.5-.9 56.2-1.1"/><path d="M67.4 355.9c18.7-1.1 37.5-2.6 56.2-6.1c18.7-3.5 37.5-8.8 56.2-19.2c18.8-10.5 37.5-26.6 56.2-51.1c18.8-24.4 37.5-57.7 56.3-90.9c18.7-33.1 37.4-64.3 56.2-86.5c18.7-22.1 37.5-36 56.2-45c18.7-8.9 37.5-13.4 56.2-16.3"/><path d="M67.4 354.4c18.7-2 37.5-4.9 56.2-12.3c18.7-7.3 37.5-19.3 56.2-41.8c18.8-22.6 37.5-57.4 56.2-95.6c18.8-38.2 37.5-76.3 56.3-102c18.7-25.7 37.4-40.3 56.2-49.2c18.7-8.8 37.5-12.5 56.2-14.9c18.7-2.4 37.5-3.3 56.2-3.8"/><path d="M67.4 358.2c18.7-.2 37.5-.4 56.2-1.2c18.7-.8 37.5-1.9 56.2-5.4c18.8-3.5 37.5-9.1 56.2-23c18.8-14 37.5-38.1 56.3-74.5c18.7-36.3 37.4-83.4 56.2-119.2c18.7-35.8 37.5-59.2 56.2-72.6c18.7-13.5 37.5-18.8 56.2-22.2"/><path d="M67.4 353.8c18.7-2 37.5-5.1 56.2-12.1c18.7-7 37.5-18.1 56.2-38.2c18.8-20.1 37.5-50.4 56.2-85.4c18.8-35 37.5-72.5 56.3-100c18.7-27.4 37.4-45.3 56.2-56.6c18.7-11.2 37.5-16.6 56.2-20c18.7-3.4 37.5-4.9 56.2-5.8"/><path d="M67.4 354.7c18.7-1.5 37.5-3.6 56.2-8c18.7-4.3 37.5-10.9 56.2-22.7c18.8-11.8 37.5-29.3 56.2-54c18.8-24.7 37.5-56.5 56.3-87.4c18.7-30.9 37.4-59.5 56.2-80.3c18.7-20.7 37.5-34.3 56.2-43.3c18.7-9 37.5-13.8 56.2-17"/><path d="M67.4 352.1c18.7-2.7 37.5-6.7 56.2-15c18.7-8.3 37.5-21.2 56.2-42.6c18.8-21.4 37.5-52.2 56.2-85.9c18.8-33.6 37.5-68.1 56.3-93.5c18.7-25.5 37.4-42.3 56.2-53.1c18.7-10.8 37.5-16.2 56.2-19.8c18.7-3.5 37.5-5.1 56.2-6.2"/><path d="M67.4 349.2c18.7-3.1 37.5-7.6 56.2-15.3c18.7-7.7 37.5-18.8 56.2-35.5c18.8-16.6 37.5-39.2 56.2-65.3c18.8-26.2 37.5-55.5 56.3-81.1c18.7-25.6 37.4-47.1 56.2-62.8c18.7-15.7 37.5-26 56.2-33.1c18.7-7.2 37.5-11.3 56.2-14.1"/><path d="M67.4 355.3c18.7-1.4 37.5-3.6 56.2-8.7c18.7-5.1 37.5-13.1 56.2-29.1c18.8-16 37.5-41.3 56.2-74.5c18.8-33.3 37.5-73.1 56.3-104.8c18.7-31.7 37.4-54.4 56.2-68.7c18.7-14.3 37.5-21.3 56.2-25.7c18.7-4.5 37.5-6.3 56.2-7.5"/><path d="M67.4 358.4c18.7-.1 37.5-.2 56.2-.5c18.7-.4 37.5-.9 56.2-2.7c18.8-1.8 37.5-4.6 56.2-13.5c18.8-8.9 37.5-24.7 56.3-56.4c18.7-31.7 37.4-81.3 56.2-124.5c18.7-43.2 37.5-74.9 56.2-92.3c18.7-17.5 37.5-23.9 56.2-27.8"/><path d="M67.4 350c18.7-3.1 37.5-7.8 56.2-16.6c18.7-8.8 37.5-22 56.2-42.3c18.8-20.2 37.5-48.2 56.2-78.7c18.8-30.5 37.5-62.4 56.3-87.4c18.7-24.9 37.4-43 56.2-55.3c18.7-12.2 37.5-19.1 56.2-23.6c18.7-4.6 37.5-6.9 56.2-8.5"/><path d="M67.4 354.8c18.7-1.5 37.5-3.8 56.2-8.7c18.7-5 37.5-12.5 56.2-26.7c18.8-14.2 37.5-35.7 56.2-64.8c18.8-29.1 37.5-65.3 56.3-96.8c18.7-31.6 37.4-57.4 56.2-74.7c18.7-17.3 37.5-27.1 56.2-33.4c18.7-6.3 37.5-9.3 56.2-11.3"/><path d="M67.4 352.2c18.7-2.4 37.5-5.9 56.2-12.6c18.7-6.7 37.5-16.7 56.2-33.2c18.8-16.4 37.5-40 56.2-68.6c18.8-28.6 37.5-61.4 56.3-89.4c18.7-28 37.4-50.5 56.2-66.1c18.7-15.6 37.5-25 56.2-31.3c18.7-6.2 37.5-9.4 56.2-11.6"/><path d="M67.4 354c18.7-1.6 37.5-4 56.2-8.4c18.7-4.4 37.5-10.9 56.2-22.1c18.8-11.2 37.5-27.4 56.2-49.8c18.8-22.4 37.5-51.2 56.3-80.2c18.7-29.1 37.4-57.3 56.2-79.1c18.7-21.7 37.5-37.2 56.2-47.8c18.7-10.6 37.5-16.8 56.2-21"/><path d="M67.4 349.3c18.7-3.4 37.5-8.4 56.2-17.6c18.7-9.2 37.5-23 56.2-43.7c18.8-20.8 37.5-49 56.2-79.3c18.8-30.4 37.5-61.6 56.3-85.9c18.7-24.3 37.4-41.8 56.2-53.7c18.7-11.9 37.5-18.7 56.2-23.2c18.7-4.4 37.5-6.7 56.2-8.3"/><path d="M67.4 356.8c18.7-.7 37.5-1.8 56.2-4.5c18.7-2.7 37.5-6.8 56.2-15.9c18.8-9 37.5-23.4 56.2-47.4c18.8-24.1 37.5-58.7 56.3-94.4c18.7-35.8 37.4-69.9 56.2-93.5c18.7-23.5 37.5-37.5 56.2-46.3c18.7-8.7 37.5-12.7 56.2-15.3"/><path d="M67.4 353.7c18.7-1.9 37.5-4.9 56.2-11.4c18.7-6.5 37.5-16.6 56.2-34.6c18.8-18 37.5-45 56.2-77.7c18.8-32.7 37.5-69.5 56.3-98.3c18.7-28.8 37.4-49.4 56.2-62.7c18.7-13.3 37.5-20.2 56.2-24.6c18.7-4.4 37.5-6.4 56.2-7.7"/><path d="M67.4 355.4c18.7-1.4 37.5-3.6 56.2-8.9c18.7-5.4 37.5-13.9 56.2-31.2c18.8-17.2 37.5-44.8 56.2-80c18.8-35.3 37.5-76.3 56.3-107.2c18.7-30.9 37.4-51.6 56.2-64.3c18.7-12.6 37.5-18.4 56.2-22.1c18.7-3.7 37.5-5.2 56.2-6.1"/><path d="M67.4 356.4c18.7-.8 37.5-2.2 56.2-5.2c18.7-3.1 37.5-7.9 56.2-17.8c18.8-9.9 37.5-25.6 56.2-50.5c18.8-24.9 37.5-59.6 56.3-94.4c18.7-34.8 37.4-67.2 56.2-89.6c18.7-22.4 37.5-35.8 56.2-44.3c18.7-8.4 37.5-12.4 56.2-15"/><path d="M67.4 353.3c18.7-2 37.5-5.1 56.2-11.3c18.7-6.1 37.5-15.6 56.2-31.9c18.8-16.3 37.5-40.3 56.2-70.1c18.8-29.8 37.5-64.5 56.3-93.7c18.7-29.1 37.4-52 56.2-67.5c18.7-15.4 37.5-24.2 56.2-30c18.7-5.8 37.5-8.6 56.2-10.5"/><path d="M67.4 349.8c18.7-3.6 37.5-9.2 56.2-20.5c18.7-11.2 37.5-28.8 56.2-55.3c18.8-26.5 37.5-62.3 56.2-96.3c18.8-34 37.5-64.2 56.3-84.8c18.7-20.6 37.4-32.6 56.2-40.2c18.7-7.7 37.5-11.2 56.2-13.6c18.7-2.3 37.5-3.3 56.2-4"/><path d="M67.4 357.8c18.7-.3 37.5-.8 56.2-2.2c18.7-1.5 37.5-3.7 56.2-9.8c18.8-6.1 37.5-16.1 56.2-37.2c18.8-21.1 37.5-55.5 56.3-95.6c18.7-40.1 37.4-81.7 56.2-109.2c18.7-27.5 37.5-42.5 56.2-51.4c18.7-8.9 37.5-12.3 56.2-14.5"/><path d="M67.4 354.9c18.7-1.5 37.5-3.8 56.2-8.7c18.7-5 37.5-12.7 56.2-27.3c18.8-14.6 37.5-37 56.2-67.1c18.8-30 37.5-67.1 56.3-98.8c18.7-31.7 37.4-56.8 56.2-73.4c18.7-16.6 37.5-25.7 56.2-31.5c18.7-5.9 37.5-8.6 56.2-10.3"/><path d="M67.4 352.7c18.7-2.2 37.5-5.5 56.2-12.2c18.7-6.7 37.5-16.9 56.2-34c18.8-17.2 37.5-42.1 56.2-72.2c18.8-30.1 37.5-64.4 56.3-92.7c18.7-28.3 37.4-50.1 56.2-64.9c18.7-14.7 37.5-23 56.2-28.5c18.7-5.5 37.5-8.2 56.2-10"/><path d="M67.4 351.9c18.7-2.3 37.5-5.7 56.2-12.1c18.7-6.3 37.5-15.7 56.2-30.9c18.8-15.2 37.5-36.7 56.2-63.4c18.8-26.6 37.5-57.9 56.3-85.8c18.7-27.9 37.4-51.7 56.2-68.8c18.7-17.1 37.5-28 56.2-35.4c18.7-7.4 37.5-11.5 56.2-14.2"/><path d="M67.4 353.5c18.7-1.8 37.5-4.5 56.2-9.9c18.7-5.3 37.5-13.3 56.2-27c18.8-13.6 37.5-33.6 56.2-59.9c18.8-26.2 37.5-58.5 56.3-88.1c18.7-29.6 37.4-55.6 56.2-74.2c18.7-18.6 37.5-30.4 56.2-38.3c18.7-7.9 37.5-12.1 56.2-14.9"/><path d="M67.4 355.3c18.7-1.4 37.5-3.5 56.2-8.2c18.7-4.7 37.5-12 56.2-26.2c18.8-14.3 37.5-36.4 56.2-66.8c18.8-30.3 37.5-68.2 56.3-100.6c18.7-32.4 37.4-58 56.2-74.7c18.7-16.7 37.5-25.6 56.2-31.4c18.7-5.7 37.5-8.2 56.2-9.9"/><path d="M67.4 353.6c18.7-1.9 37.5-4.7 56.2-10.2c18.7-5.5 37.5-13.8 56.2-28.3c18.8-14.4 37.5-35.7 56.2-63.2c18.8-27.5 37.5-60.9 56.3-90.7c18.7-29.8 37.4-55 56.2-72.6c18.7-17.6 37.5-28.3 56.2-35.4c18.7-7.1 37.5-10.8 56.2-13.2"/><path d="M67.4 355.9c18.7-1.3 37.5-3.2 56.2-8.4c18.7-5.2 37.5-13.5 56.2-31.5c18.8-18 37.5-47.5 56.2-85.1c18.8-37.7 37.5-80.7 56.3-111.4c18.7-30.8 37.4-49.6 56.2-60.9c18.7-11.3 37.5-15.9 56.2-18.9c18.7-3 37.5-4 56.2-4.7"/><path d="M67.4 358.5c18.7-.1 37.5-.1 56.2-.3c18.7-.2 37.5-.4 56.2-1.6c18.8-1.2 37.5-2.9 56.2-10.5c18.8-7.5 37.5-21.6 56.3-55.9c18.7-34.2 37.4-92.6 56.2-140.1c18.7-47.5 37.5-77 56.2-91.6c18.7-14.7 37.5-18.5 56.2-21"/><path d="M67.4 353.2c18.7-2.2 37.5-5.4 56.2-12.2c18.7-6.7 37.5-17.1 56.2-35.1c18.8-18 37.5-44.4 56.2-76.1c18.8-31.7 37.5-67.3 56.3-95.6c18.7-28.3 37.4-49.1 56.2-62.8c18.7-13.6 37.5-21 56.2-25.7c18.7-4.8 37.5-7 56.2-8.5"/><path d="M67.4 352.2c18.7-2.8 37.5-7.2 56.2-16.8c18.7-9.5 37.5-25 56.2-50.5c18.8-25.5 37.5-62 56.2-98.3c18.8-36.2 37.5-69.5 56.3-91.8c18.7-22.3 37.4-34.9 56.2-42.7c18.7-7.9 37.5-11.3 56.2-13.5c18.7-2.3 37.5-3.2 56.2-3.8"/><path d="M67.4 353.6c18.7-1.8 37.5-4.5 56.2-9.9c18.7-5.4 37.5-13.6 56.2-27.7c18.8-14.1 37.5-34.7 56.2-61.8c18.8-27 37.5-60 56.3-89.9c18.7-29.8 37.4-55.4 56.2-73.4c18.7-18 37.5-29.2 56.2-36.6c18.7-7.5 37.5-11.3 56.2-13.9"/><path d="M67.4 351.8c18.7-3 37.5-7.6 56.2-18c18.7-10.3 37.5-27.1 56.2-54.3c18.8-27.1 37.5-65.4 56.2-101.9c18.8-36.4 37.5-68.3 56.3-89.1c18.7-20.7 37.4-31.9 56.2-38.9c18.7-7 37.5-9.9 56.2-11.8c18.7-1.9 37.5-2.7 56.2-3.2"/><path d="M67.4 355.8c18.7-1.1 37.5-2.7 56.2-6.1c18.7-3.5 37.5-8.6 56.2-18.7c18.8-10 37.5-25.3 56.2-48.4c18.8-23.2 37.5-54.8 56.3-87.2c18.7-32.4 37.4-63.8 56.2-86.8c18.7-23 37.5-38.1 56.2-48c18.7-9.9 37.5-15 56.2-18.4"/><path d="M67.4 356.5c18.7-.8 37.5-2 56.2-4.5c18.7-2.6 37.5-6.4 56.2-14.2c18.8-7.7 37.5-19.6 56.2-39.1c18.8-19.5 37.5-47.5 56.3-79.3c18.7-31.9 37.4-66.1 56.2-92.7c18.7-26.6 37.5-45.5 56.2-58.1c18.7-12.5 37.5-19.2 56.2-23.7"/><path d="M67.4 354.4c18.7-1.8 37.5-4.5 56.2-10.8c18.7-6.4 37.5-16.4 56.2-35.2c18.8-18.7 37.5-47.6 56.2-82.4c18.8-34.8 37.5-73.3 56.3-102.2c18.7-28.9 37.4-48.2 56.2-60.3c18.7-12 37.5-17.8 56.2-21.5c18.7-3.7 37.5-5.2 56.2-6.2"/><path d="M67.4 357.9c18.7-.2 37.5-.7 56.2-1.8c18.7-1.2 37.5-3.1 56.2-8.1c18.8-5 37.5-13.1 56.2-30.9c18.8-17.8 37.5-47.4 56.3-85.5c18.7-38.2 37.4-81.8 56.2-112.8c18.7-31 37.5-49.8 56.2-60.9c18.7-11.1 37.5-15.6 56.2-18.5"/><path d="M67.4 356.7c18.7-.9 37.5-2.1 56.2-5.1c18.7-2.9 37.5-7.5 56.2-17.6c18.8-10 37.5-26 56.2-51.9c18.8-25.9 37.5-62.3 56.3-98.1c18.7-35.8 37.4-68.3 56.2-90.1c18.7-21.8 37.5-34.1 56.2-41.9c18.7-7.7 37.5-11.1 56.2-13.4"/><path d="M67.4 350.8c18.7-2.6 37.5-6.3 56.2-12.7c18.7-6.4 37.5-15.7 56.2-30c18.8-14.3 37.5-34.1 56.2-58.4c18.8-24.3 37.5-53 56.3-79.6c18.7-26.6 37.4-50.6 56.2-68.6c18.7-18.1 37.5-30.6 56.2-39.4c18.7-8.8 37.5-14 56.2-17.6"/><path d="M67.4 357.4c18.7-.5 37.5-1.2 56.2-3c18.7-1.7 37.5-4.5 56.2-10.7c18.8-6.3 37.5-16.3 56.2-35c18.8-18.7 37.5-47.4 56.3-82.2c18.7-34.7 37.4-73.4 56.2-102.3c18.7-29 37.5-48.4 56.2-60.5c18.7-12.2 37.5-17.9 56.2-21.6"/><path d="M67.4 358.3c18.7-.1 37.5-.3 56.2-.8c18.7-.5 37.5-1.3 56.2-3.9c18.8-2.6 37.5-6.8 56.2-18.4c18.8-11.6 37.5-32.3 56.3-67.5c18.7-35.2 37.4-84.8 56.2-124c18.7-39.2 37.5-65.4 56.2-80.1c18.7-14.7 37.5-20.2 56.2-23.6"/><path d="M67.4 356.1c18.7-1.5 37.5-3.7 56.2-13.4c18.7-9.6 37.5-28.4 56.2-68.5c18.8-40.1 37.5-101.9 56.2-145.2c18.8-43.3 37.5-65.7 56.3-76.9c18.7-11.3 37.4-13.9 56.2-15.8c18.7-1.8 37.5-2.1 56.2-2.4c18.7-.2 37.5-.3 56.2-.3"/><path d="M67.4 351.8c18.7-2.7 37.5-6.9 56.2-15.5c18.7-8.7 37.5-22.2 56.2-44.3c18.8-22 37.5-53.5 56.2-87.4c18.8-33.8 37.5-67.8 56.3-92.7c18.7-24.8 37.4-40.9 56.2-51.3c18.7-10.4 37.5-15.5 56.2-18.9c18.7-3.3 37.5-4.8 56.2-5.8"/><path d="M67.4 358.4c18.7-.1 37.5-.2 56.2-.6c18.7-.3 37.5-.9 56.2-2.6c18.8-1.7 37.5-4.4 56.2-12.1c18.8-7.8 37.5-21.2 56.3-48.1c18.7-27 37.4-70.1 56.2-112.6c18.7-42.6 37.5-79.2 56.2-100.8c18.7-21.6 37.5-31.2 56.2-36.9"/><path d="M67.4 354.3c18.7-2.1 37.5-5.4 56.2-14.3c18.7-9 37.5-24.2 56.2-52.6c18.8-28.4 37.5-71.7 56.2-112.5c18.8-40.8 37.5-74.8 56.3-95.1c18.7-20.3 37.4-29.5 56.2-35c18.7-5.6 37.5-7.5 56.2-8.8c18.7-1.3 37.5-1.7 56.2-2"/><path d="M67.4 357.6c18.7-.5 37.5-1.2 56.2-3.1c18.7-1.8 37.5-4.8 56.2-12.2c18.8-7.5 37.5-19.8 56.2-43.4c18.8-23.5 37.5-60.2 56.3-99.4c18.7-39.3 37.4-77.4 56.2-102.2c18.7-24.8 37.5-38.2 56.2-46.2c18.7-8.1 37.5-11.3 56.2-13.3"/><path d="M67.4 355.6c18.7-1.2 37.5-2.8 56.2-6.1c18.7-3.4 37.5-8.3 56.2-17.6c18.8-9.3 37.5-23.2 56.2-44.2c18.8-21.1 37.5-49.7 56.3-80.4c18.7-30.7 37.4-62.1 56.2-86.4c18.7-24.3 37.5-41.5 56.2-53.2c18.7-11.6 37.5-18.1 56.2-22.4"/><path d="M67.4 353c18.7-2 37.5-4.9 56.2-10.4c18.7-5.5 37.5-13.6 56.2-27.2c18.8-13.6 37.5-33.1 56.2-58.4c18.8-25.4 37.5-56.3 56.3-85.2c18.7-28.8 37.4-54.6 56.2-73.4c18.7-18.9 37.5-31.3 56.2-39.7c18.7-8.5 37.5-13.1 56.2-16.3"/><path d="M67.4 354.3c18.7-1.7 37.5-4.2 56.2-9.8c18.7-5.6 37.5-14.2 56.2-30c18.8-15.8 37.5-39.7 56.2-70.5c18.8-30.8 37.5-67.6 56.3-98.1c18.7-30.5 37.4-54 56.2-69.5c18.7-15.4 37.5-23.8 56.2-29.3c18.7-5.4 37.5-7.9 56.2-9.6"/><path d="M67.4 350.9c18.7-2.9 37.5-7.3 56.2-15.8c18.7-8.5 37.5-21.5 56.2-41.9c18.8-20.5 37.5-49.2 56.2-80.7c18.8-31.5 37.5-64.4 56.3-89.8c18.7-25.3 37.4-43.3 56.2-55.2c18.7-11.9 37.5-18.4 56.2-22.7c18.7-4.3 37.5-6.3 56.2-7.7"/><path d="M67.4 356.5c18.7-.8 37.5-2.1 56.2-5.2c18.7-3 37.5-7.8 56.2-17.8c18.8-10.1 37.5-26.2 56.2-51.7c18.8-25.6 37.5-61.4 56.3-96.7c18.7-35.2 37.4-67.6 56.2-89.5c18.7-21.9 37.5-34.6 56.2-42.6c18.7-8 37.5-11.6 56.2-14"/><path d="M67.4 352.7c18.7-2.1 37.5-5.4 56.2-11.9c18.7-6.4 37.5-16.2 56.2-32.6c18.8-16.4 37.5-40.2 56.2-69.4c18.8-29.2 37.5-63 56.3-91.6c18.7-28.5 37.4-51.2 56.2-66.7c18.7-15.5 37.5-24.6 56.2-30.6c18.7-6 37.5-9.1 56.2-11.1"/><path d="M67.4 353.8c18.7-1.7 37.5-4.3 56.2-9.2c18.7-4.9 37.5-12.2 56.2-24.8c18.8-12.7 37.5-31.1 56.2-55.9c18.8-24.9 37.5-56 56.3-85.8c18.7-29.7 37.4-56.8 56.2-76.7c18.7-19.9 37.5-33 56.2-41.9c18.7-8.8 37.5-13.7 56.2-16.9"/><path d="M67.4 355.4c18.7-1.4 37.5-3.6 56.2-9c18.7-5.4 37.5-14.1 56.2-31.8c18.8-17.7 37.5-46 56.2-81.9c18.8-35.9 37.5-77.2 56.3-107.8c18.7-30.6 37.4-50.6 56.2-62.7c18.7-12.2 37.5-17.7 56.2-21.1c18.7-3.5 37.5-4.8 56.2-5.7"/><path d="M67.4 353.1c18.7-2.2 37.5-5.5 56.2-12.3c18.7-6.9 37.5-17.5 56.2-35.8c18.8-18.3 37.5-45.3 56.2-77.3c18.8-31.9 37.5-67.6 56.3-95.7c18.7-28.1 37.4-48.4 56.2-61.8c18.7-13.3 37.5-20.4 56.2-25c18.7-4.6 37.5-6.8 56.2-8.2"/><path d="M67.4 350.9c18.7-3.6 37.5-9.3 56.2-22.5c18.7-13.3 37.5-35.4 56.2-68.8c18.8-33.3 37.5-77.1 56.2-112.9c18.8-35.7 37.5-61.5 56.3-77.1c18.7-15.5 37.4-22.5 56.2-26.9c18.7-4.3 37.5-5.9 56.2-7c18.7-1.1 37.5-1.4 56.2-1.7"/><path d="M67.4 357.8c18.7-.4 37.5-1 56.2-2.5c18.7-1.6 37.5-4.1 56.2-10.6c18.8-6.5 37.5-17.3 56.2-39.3c18.8-21.9 37.5-57.1 56.3-97c18.7-39.8 37.4-80.2 56.2-106.8c18.7-26.6 37.5-41 56.2-49.6c18.7-8.6 37.5-12 56.2-14.1"/><path d="M67.4 355.4c18.7-1.4 37.5-3.4 56.2-8.1c18.7-4.8 37.5-12.1 56.2-26.6c18.8-14.5 37.5-37.2 56.2-68.2c18.8-30.9 37.5-69.5 56.3-102c18.7-32.5 37.4-57.6 56.2-73.8c18.7-16.3 37.5-24.8 56.2-30.2c18.7-5.4 37.5-7.8 56.2-9.4"/><path d="M67.4 353.6c18.7-2.1 37.5-5.5 56.2-13.2c18.7-7.7 37.5-20.1 56.2-42.4c18.8-22.3 37.5-55.9 56.2-92.5c18.8-36.6 37.5-73.5 56.3-99.1c18.7-25.6 37.4-40.9 56.2-50.4c18.7-9.5 37.5-13.7 56.2-16.4c18.7-2.7 37.5-3.8 56.2-4.5"/><path d="M67.4 356.4c18.7-.8 37.5-2 56.2-4.8c18.7-2.7 37.5-6.9 56.2-15.3c18.8-8.4 37.5-21.4 56.2-42.5c18.8-21.1 37.5-51.1 56.3-83.9c18.7-32.8 37.4-66.7 56.2-92.1c18.7-25.4 37.5-42.6 56.2-53.8c18.7-11.3 37.5-17.1 56.2-20.9"/><path d="M67.4 355.1c18.7-1.7 37.5-4.2 56.2-10.7c18.7-6.5 37.5-17.2 56.2-38.6c18.8-21.3 37.5-55.3 56.2-94.2c18.8-38.9 37.5-79 56.3-106.1c18.7-27.1 37.4-42.5 56.2-51.7c18.7-9.2 37.5-12.9 56.2-15.3c18.7-2.4 37.5-3.2 56.2-3.8"/><path d="M67.4 342.9c18.7-4.6 37.5-10.9 56.2-20.8c18.7-9.9 37.5-23.5 56.2-41.6c18.8-18.1 37.5-40.9 56.2-65.4c18.8-24.5 37.5-50.2 56.3-72.3c18.7-22.2 37.4-40.7 56.2-54.6c18.7-13.9 37.5-23.5 56.2-30.4c18.7-6.8 37.5-11.1 56.2-14.1"/><path d="M67.4 354c18.7-1.7 37.5-4.2 56.2-9.3c18.7-5 37.5-12.6 56.2-25.9c18.8-13.3 37.5-33 56.2-59.3c18.8-26.3 37.5-59.1 56.3-89.4c18.7-30.3 37.4-56.9 56.2-75.8c18.7-18.9 37.5-30.8 56.2-38.6c18.7-7.9 37.5-12.1 56.2-14.8"/><path d="M67.4 351.2c18.7-2.5 37.5-6.2 56.2-12.9c18.7-6.7 37.5-16.5 56.2-32c18.8-15.5 37.5-37.1 56.2-63.5c18.8-26.3 37.5-56.9 56.3-84.2c18.7-27.2 37.4-50.4 56.2-67.2c18.7-16.9 37.5-27.8 56.2-35.2c18.7-7.5 37.5-11.6 56.2-14.5"/><path d="M67.4 356.8c18.7-.7 37.5-1.9 56.2-4.9c18.7-2.9 37.5-7.6 56.2-18.1c18.8-10.5 37.5-27.7 56.2-55.6c18.8-27.9 37.5-67.2 56.3-104c18.7-36.8 37.4-68.3 56.2-88.5c18.7-20.2 37.5-30.8 56.2-37.3c18.7-6.6 37.5-9.3 56.2-11"/><path d="M67.4 349.8c18.7-3.5 37.5-8.8 56.2-19.3c18.7-10.5 37.5-26.7 56.2-51.2c18.8-24.5 37.5-57.8 56.2-90.9c18.8-33.2 37.5-64.4 56.3-86.5c18.7-22.1 37.4-35.9 56.2-44.8c18.7-9 37.5-13.4 56.2-16.3c18.7-2.9 37.5-4.3 56.2-5.1"/><path d="M67.4 354.7c18.7-1.4 37.5-3.6 56.2-8.2c18.7-4.5 37.5-11.5 56.2-24.2c18.8-12.6 37.5-31.8 56.2-58.2c18.8-26.5 37.5-60.3 56.3-91.8c18.7-31.4 37.4-59.1 56.2-78.5c18.7-19.4 37.5-31.3 56.2-39.1c18.7-7.9 37.5-11.8 56.2-14.4"/><path d="M67.4 354.5c18.7-1.5 37.5-3.7 56.2-8.3c18.7-4.5 37.5-11.4 56.2-23.8c18.8-12.3 37.5-30.7 56.2-56.2c18.8-25.5 37.5-58 56.3-88.9c18.7-30.9 37.4-58.8 56.2-78.9c18.7-20 37.5-32.8 56.2-41.2c18.7-8.5 37.5-12.9 56.2-15.9"/><path d="M67.4 352c18.7-2.8 37.5-6.9 56.2-15.6c18.7-8.6 37.5-22.2 56.2-44.6c18.8-22.3 37.5-54.3 56.2-88.5c18.8-34.2 37.5-68.4 56.3-93.1c18.7-24.7 37.4-40.5 56.2-50.6c18.7-10.1 37.5-15.1 56.2-18.3c18.7-3.2 37.5-4.6 56.2-5.6"/><path d="M67.4 348.6c18.7-3.2 37.5-7.6 56.2-15.2c18.7-7.5 37.5-18.3 56.2-34.1c18.8-15.7 37.5-36.9 56.2-61.6c18.8-24.8 37.5-52.8 56.3-77.9c18.7-25.2 37.4-47.1 56.2-63.6c18.7-16.5 37.5-27.9 56.2-35.9c18.7-8 37.5-12.8 56.2-16.2"/><path d="M67.4 350.1c18.7-2.8 37.5-7 56.2-14.4c18.7-7.4 37.5-18.2 56.2-34.7c18.8-16.5 37.5-39.2 56.2-66c18.8-26.7 37.5-56.9 56.3-83.2c18.7-26.3 37.4-48.2 56.2-64c18.7-15.8 37.5-25.9 56.2-32.9c18.7-7 37.5-10.9 56.2-13.6"/><path d="M67.4 357.7c18.7-.5 37.5-1.1 56.2-3c18.7-1.9 37.5-4.9 56.2-12.9c18.8-8 37.5-21.6 56.2-47.7c18.8-26.2 37.5-67 56.3-108c18.7-40.9 37.4-77.4 56.2-99.8c18.7-22.4 37.5-33.1 56.2-39.6c18.7-6.4 37.5-8.7 56.2-10.2"/><path d="M67.4 354.1c18.7-1.8 37.5-4.4 56.2-10c18.7-5.5 37.5-14 56.2-29.3c18.8-15.3 37.5-38.1 56.2-67.7c18.8-29.5 37.5-65 56.3-95.4c18.7-30.3 37.4-54.6 56.2-70.9c18.7-16.3 37.5-25.6 56.2-31.6c18.7-6 37.5-8.9 56.2-10.9"/><path d="M67.4 346.4c18.7-3.6 37.5-8.7 56.2-16.7c18.7-8.1 37.5-19.3 56.2-35c18.8-15.8 37.5-36.3 56.2-59.8c18.8-23.5 37.5-49.7 56.3-73.5c18.7-23.8 37.4-44.9 56.2-61.2c18.7-16.3 37.5-28 56.2-36.4c18.7-8.4 37.5-13.7 56.2-17.5"/><path d="M67.4 353.2c18.7-2 37.5-5 56.2-10.7c18.7-5.7 37.5-14.3 56.2-28.8c18.8-14.6 37.5-35.8 56.2-62.9c18.8-27.1 37.5-59.8 56.3-89c18.7-29.3 37.4-54.2 56.2-71.8c18.7-17.6 37.5-28.5 56.2-35.8c18.7-7.3 37.5-11.1 56.2-13.7"/><path d="M67.4 352.8c18.7-2.6 37.5-6.5 56.2-15.3c18.7-8.8 37.5-23 56.2-47.1c18.8-24.1 37.5-59.4 56.2-95.8c18.8-36.5 37.5-71.2 56.3-94.9c18.7-23.6 37.4-37.4 56.2-45.9c18.7-8.5 37.5-12.3 56.2-14.8c18.7-2.4 37.5-3.4 56.2-4"/><path d="M67.4 357.3c18.7-.5 37.5-1.2 56.2-2.8c18.7-1.6 37.5-4.1 56.2-9.3c18.8-5.2 37.5-13.2 56.2-27.9c18.8-14.7 37.5-37 56.3-66.4c18.7-29.4 37.4-65.4 56.2-96.4c18.7-31.1 37.5-56.1 56.2-72.8c18.7-16.8 37.5-26.3 56.2-32.4"/><path d="M67.4 355.8c18.7-1 37.5-2.6 56.2-5.8c18.7-3.2 37.5-8 56.2-17.2c18.8-9.2 37.5-23.2 56.2-44.5c18.8-21.4 37.5-50.8 56.3-82.3c18.7-31.4 37.4-63.4 56.2-87.7c18.7-24.3 37.5-41.3 56.2-52.6c18.7-11.2 37.5-17.4 56.2-21.4"/><path d="M67.4 354.4c18.7-1.6 37.5-3.9 56.2-8.5c18.7-4.6 37.5-11.4 56.2-23.7c18.8-12.3 37.5-30.5 56.2-55.5c18.8-25.1 37.5-57.1 56.3-87.6c18.7-30.6 37.4-58.5 56.2-78.7c18.7-20.2 37.5-33.3 56.2-42.1c18.7-8.7 37.5-13.3 56.2-16.4"/><path d="M67.4 352.5c18.7-2.3 37.5-5.8 56.2-12.8c18.7-6.9 37.5-17.6 56.2-35.4c18.8-17.8 37.5-43.6 56.2-74.2c18.8-30.6 37.5-64.9 56.3-92.8c18.7-27.8 37.4-48.9 56.2-62.9c18.7-14.1 37.5-22 56.2-27.2c18.7-5.2 37.5-7.7 56.2-9.4"/><path d="M67.4 352.9c18.7-2.2 37.5-5.6 56.2-12.6c18.7-7 37.5-17.8 56.2-36.3c18.8-18.6 37.5-45.7 56.2-77.8c18.8-32 37.5-67.4 56.3-95.3c18.7-27.8 37.4-47.9 56.2-61.1c18.7-13.2 37.5-20.2 56.2-24.7c18.7-4.6 37.5-6.7 56.2-8.1"/><path d="M67.4 357c18.7-.6 37.5-1.5 56.2-3.7c18.7-2.3 37.5-5.7 56.2-13.1c18.8-7.4 37.5-19.2 56.2-39.8c18.8-20.5 37.5-51.1 56.3-85.7c18.7-34.5 37.4-70.9 56.2-97.7c18.7-26.8 37.5-44.3 56.2-55.4c18.7-11 37.5-16.4 56.2-19.9"/><path d="M67.4 352.2c18.7-2.2 37.5-5.4 56.2-11.2c18.7-5.8 37.5-14.4 56.2-28.2c18.8-13.9 37.5-33.4 56.2-58.3c18.8-24.9 37.5-54.9 56.3-82.9c18.7-27.9 37.4-53 56.2-71.6c18.7-18.7 37.5-31.2 56.2-39.8c18.7-8.6 37.5-13.6 56.2-16.9"/><path d="M67.4 352.6c18.7-2.1 37.5-5.3 56.2-11.2c18.7-5.9 37.5-14.8 56.2-29.4c18.8-14.6 37.5-35.5 56.2-62c18.8-26.6 37.5-58.3 56.3-86.9c18.7-28.5 37.4-53.1 56.2-70.8c18.7-17.7 37.5-28.9 56.2-36.6c18.7-7.6 37.5-11.7 56.2-14.4"/><path d="M67.4 357.6c18.7-.4 37.5-1 56.2-2.6c18.7-1.6 37.5-3.9 56.2-9.6c18.8-5.7 37.5-14.8 56.2-32.4c18.8-17.7 37.5-45.3 56.3-80.1c18.7-34.7 37.4-74.5 56.2-104.8c18.7-30.2 37.5-50.7 56.2-63.4c18.7-12.7 37.5-18.7 56.2-22.5"/><path d="M67.4 353c18.7-2.7 37.5-6.9 56.2-17.5c18.7-10.5 37.5-28.4 56.2-58.8c18.8-30.3 37.5-73.9 56.2-112.6c18.8-38.7 37.5-69.3 56.3-87.8c18.7-18.4 37.4-26.9 56.2-32c18.7-5.2 37.5-7.1 56.2-8.3c18.7-1.2 37.5-1.7 56.2-1.9"/><path d="M67.4 356.7c18.7-.8 37.5-2 56.2-4.7c18.7-2.8 37.5-7 56.2-15.9c18.8-9 37.5-23.2 56.2-46.4c18.8-23.3 37.5-56.6 56.3-91.5c18.7-34.8 37.4-68.8 56.2-92.8c18.7-24.1 37.5-38.9 56.2-48.3c18.7-9.4 37.5-13.8 56.2-16.7"/><path d="M67.4 352.9c18.7-2.7 37.5-7 56.2-17.6c18.7-10.6 37.5-28.4 56.2-58.5c18.8-30.1 37.5-73.1 56.2-111.6c18.8-38.5 37.5-69.2 56.3-87.9c18.7-18.6 37.4-27.3 56.2-32.6c18.7-5.3 37.5-7.3 56.2-8.6c18.7-1.3 37.5-1.7 56.2-2"/><path d="M67.4 357.1c18.7-.5 37.5-1.4 56.2-3.4c18.7-2.1 37.5-5.2 56.2-12c18.8-6.8 37.5-17.6 56.2-36.7c18.8-19.1 37.5-47.8 56.3-81.6c18.7-33.7 37.4-70.7 56.2-98.8c18.7-28 37.5-47.2 56.2-59.4c18.7-12.3 37.5-18.3 56.2-22.3"/><path d="M67.4 353.6c18.7-2.3 37.5-5.8 56.2-14.4c18.7-8.6 37.5-22.8 56.2-47.9c18.8-25.2 37.5-62.9 56.2-101.3c18.8-38.3 37.5-73.7 56.3-96.7c18.7-23.1 37.4-35.4 56.2-43c18.7-7.5 37.5-10.6 56.2-12.6c18.7-1.9 37.5-2.7 56.2-3.2"/><path d="M67.4 351.7c18.7-2.5 37.5-6.1 56.2-12.8c18.7-6.8 37.5-16.8 56.2-32.9c18.8-16.1 37.5-38.9 56.2-66.5c18.8-27.7 37.5-59.5 56.3-87.1c18.7-27.6 37.4-50.4 56.2-66.5c18.7-16.1 37.5-26.1 56.2-32.8c18.7-6.8 37.5-10.4 56.2-12.8"/><path d="M67.4 357.4c18.7-.6 37.5-1.3 56.2-3.4c18.7-2.1 37.5-5.3 56.2-12.9c18.8-7.6 37.5-20.1 56.2-42.8c18.8-22.8 37.5-57.5 56.3-95.1c18.7-37.6 37.4-75 56.2-100.3c18.7-25.3 37.5-39.9 56.2-48.9c18.7-8.9 37.5-12.7 56.2-15.1"/><path d="M67.4 356.5c18.7-.9 37.5-2.1 56.2-4.8c18.7-2.7 37.5-6.9 56.2-15.3c18.8-8.4 37.5-21.4 56.2-42.5c18.8-21.1 37.5-51.2 56.3-84.1c18.7-32.9 37.4-66.9 56.2-92.3c18.7-25.4 37.5-42.6 56.2-53.8c18.7-11.2 37.5-16.9 56.2-20.7"/><path d="M67.4 353.6c18.7-1.9 37.5-4.7 56.2-10.2c18.7-5.5 37.5-13.9 56.2-28.3c18.8-14.4 37.5-35.5 56.2-63c18.8-27.4 37.5-60.8 56.3-90.5c18.7-29.8 37.4-55 56.2-72.6c18.7-17.7 37.5-28.5 56.2-35.6c18.7-7.2 37.5-10.9 56.2-13.3"/><path d="M67.4 354.1c18.7-1.8 37.5-4.5 56.2-10.3c18.7-5.9 37.5-14.9 56.2-31.2c18.8-16.3 37.5-40.9 56.2-72c18.8-31.1 37.5-67.7 56.3-97.7c18.7-30.1 37.4-52.9 56.2-67.9c18.7-15 37.5-23.1 56.2-28.3c18.7-5.3 37.5-7.7 56.2-9.3"/><path d="M67.4 357.7c18.7-.4 37.5-.9 56.2-2.6c18.7-1.6 37.5-4 56.2-10.5c18.8-6.4 37.5-17 56.2-38.1c18.8-21.2 37.5-55 56.3-94c18.7-38.9 37.4-79.3 56.2-106.6c18.7-27.2 37.5-42.7 56.2-52c18.7-9.2 37.5-13 56.2-15.4"/><path d="M67.4 356.1c18.7-1.2 37.5-2.9 56.2-7.7c18.7-4.8 37.5-12.6 56.2-29.7c18.8-17 37.5-45.3 56.2-82.5c18.8-37.2 37.5-80.9 56.3-112.7c18.7-31.8 37.4-51.7 56.2-63.6c18.7-11.8 37.5-16.8 56.2-19.9c18.7-3.1 37.5-4.2 56.2-5"/><path d="M67.4 356c18.7-1.1 37.5-2.8 56.2-6.6c18.7-3.8 37.5-9.8 56.2-21.9c18.8-12.1 37.5-31.2 56.2-59.4c18.8-28.3 37.5-65.7 56.3-99.8c18.7-34.1 37.4-63 56.2-82.1c18.7-19.1 37.5-29.7 56.2-36.4c18.7-6.7 37.5-9.7 56.2-11.7"/><path d="M67.4 352.1c18.7-2.5 37.5-6.3 56.2-14c18.7-7.6 37.5-19.3 56.2-38.6c18.8-19.4 37.5-47.1 56.2-78.9c18.8-31.7 37.5-66 56.3-92.8c18.7-26.7 37.4-45.9 56.2-58.6c18.7-12.7 37.5-19.6 56.2-24.1c18.7-4.4 37.5-6.6 56.2-8"/><path d="M67.4 358.4c18.7  37.5 0 56.2-.2c18.7-.2 37.5-.4 56.2-1.4c18.8-.9 37.5-2.3 56.2-7.2c18.8-4.9 37.5-13.3 56.3-34.7c18.7-21.5 37.4-60.1 56.2-105.9c18.7-45.9 37.5-91.6 56.2-118.3c18.7-26.8 37.5-38.4 56.2-45.1"/><path d="M67.4 354c18.7-2 37.5-4.9 56.2-11.5c18.7-6.6 37.5-17 56.2-35.8c18.8-18.9 37.5-47.5 56.2-81.5c18.8-34.1 37.5-71.6 56.3-100.1c18.7-28.5 37.4-47.9 56.2-60.2c18.7-12.3 37.5-18.3 56.2-22.2c18.7-3.9 37.5-5.5 56.2-6.6"/><path d="M67.4 352.9c18.7-2 37.5-4.9 56.2-10.4c18.7-5.4 37.5-13.4 56.2-26.7c18.8-13.3 37.5-32.4 56.2-57.2c18.8-24.8 37.5-55.2 56.3-83.8c18.7-28.7 37.4-54.6 56.2-73.8c18.7-19.2 37.5-32 56.2-40.8c18.7-8.8 37.5-13.7 56.2-17.1"/><path d="M67.4 352.9c18.7-2.1 37.5-5.4 56.2-11.7c18.7-6.4 37.5-16.1 56.2-32.5c18.8-16.4 37.5-40.2 56.2-69.6c18.8-29.4 37.5-63.4 56.3-92.2c18.7-28.7 37.4-51.4 56.2-66.9c18.7-15.5 37.5-24.5 56.2-30.4c18.7-6 37.5-8.9 56.2-10.9"/><path d="M67.4 357.8c18.7-.3 37.5-.8 56.2-2.1c18.7-1.2 37.5-3.1 56.2-7.8c18.8-4.6 37.5-12 56.2-27.3c18.8-15.3 37.5-39.7 56.3-73c18.7-33.4 37.4-74.3 56.2-107c18.7-32.7 37.5-56.3 56.2-70.9c18.7-14.7 37.5-21.7 56.2-26.2"/><path d="M67.4 357.6c18.7-.5 37.5-1.1 56.2-3.1c18.7-1.9 37.5-4.8 56.2-12.5c18.8-7.7 37.5-20.4 56.2-44.8c18.8-24.3 37.5-62.2 56.3-101.9c18.7-39.8 37.4-77.4 56.2-101.4c18.7-24.1 37.5-36.6 56.2-44.2c18.7-7.5 37.5-10.4 56.2-12.3"/><path d="M67.4 348.5c18.7-3.3 37.5-8.3 56.2-16.8c18.7-8.6 37.5-21.1 56.2-39.4c18.8-18.4 37.5-43.1 56.2-70.7c18.8-27.6 37.5-57.3 56.3-82.2c18.7-24.9 37.4-44.6 56.2-58.7c18.7-14 37.5-22.8 56.2-28.9c18.7-6 37.5-9.3 56.2-11.6"/><path d="M67.4 358c18.7-.2 37.5-.6 56.2-1.6c18.7-1 37.5-2.5 56.2-6.6c18.8-4.2 37.5-10.9 56.2-26.2c18.8-15.3 37.5-40.9 56.3-76.9c18.7-35.9 37.4-80.4 56.2-114.2c18.7-33.7 37.5-56 56.2-69.3c18.7-13.2 37.5-18.8 56.2-22.4"/><path d="M67.4 352c18.7-3.3 37.5-8.7 56.2-22.4c18.7-13.7 37.5-37.7 56.2-74.4c18.8-36.7 37.5-84.7 56.2-120.9c18.8-36.2 37.5-59.5 56.3-72.8c18.7-13.3 37.4-18.5 56.2-21.7c18.7-3.2 37.5-4.3 56.2-5c18.7-.7 37.5-.9 56.2-1"/><path d="M67.4 349.7c18.7-3.2 37.5-8.1 56.2-17.2c18.7-9.1 37.5-22.8 56.2-43.6c18.8-20.8 37.5-49.3 56.2-80c18.8-30.8 37.5-62.4 56.3-86.9c18.7-24.5 37.4-42 56.2-53.8c18.7-11.8 37.5-18.4 56.2-22.8c18.7-4.3 37.5-6.5 56.2-8"/><path d="M67.4 355c18.7-1.3 37.5-3.4 56.2-7.7c18.7-4.3 37.5-10.9 56.2-23.1c18.8-12.3 37.5-30.8 56.2-57c18.8-26.2 37.5-60 56.3-91.9c18.7-31.9 37.4-60.2 56.2-80.1c18.7-20 37.5-32.2 56.2-40.2c18.7-8 37.5-12 56.2-14.7"/><path d="M67.4 356c18.7-1.1 37.5-2.8 56.2-6.9c18.7-4.1 37.5-10.5 56.2-23.8c18.8-13.3 37.5-34.5 56.2-65.1c18.8-30.5 37.5-70 56.3-104.1c18.7-34 37.4-60.8 56.2-78c18.7-17.1 37.5-26 56.2-31.6c18.7-5.5 37.5-7.9 56.2-9.5"/><path d="M67.4 357.6c18.7-.4 37.5-1 56.2-2.5c18.7-1.4 37.5-3.6 56.2-8.7c18.8-5.1 37.5-13.1 56.2-28.6c18.8-15.6 37.5-39.8 56.3-71.8c18.7-32.1 37.4-70.9 56.2-102.6c18.7-31.7 37.5-55.3 56.2-70.4c18.7-15.1 37.5-22.9 56.2-27.8"/><path d="M67.4 352.6c18.7-2.2 37.5-5.4 56.2-11.7c18.7-6.2 37.5-15.6 56.2-31.2c18.8-15.6 37.5-38 56.2-65.9c18.8-27.9 37.5-60.7 56.3-89.2c18.7-28.6 37.4-52.2 56.2-68.7c18.7-16.5 37.5-26.6 56.2-33.3c18.7-6.8 37.5-10.3 56.2-12.7"/><path d="M67.4 357.3c18.7-.5 37.5-1.3 56.2-3.1c18.7-1.9 37.5-4.6 56.2-10.8c18.8-6.2 37.5-16 56.2-33.8c18.8-17.8 37.5-44.9 56.3-78.1c18.7-33.2 37.4-70.9 56.2-100.2c18.7-29.4 37.5-50.1 56.2-63.3c18.7-13.2 37.5-19.9 56.2-24.2"/><path d="M67.4 354.5c18.7-1.5 37.5-3.8 56.2-8.5c18.7-4.7 37.5-11.8 56.2-24.7c18.8-12.8 37.5-32 56.2-58.3c18.8-26.3 37.5-59.7 56.3-90.7c18.7-31.1 37.4-58.5 56.2-77.8c18.7-19.3 37.5-31.4 56.2-39.3c18.7-7.9 37.5-11.9 56.2-14.6"/><path d="M67.4 354c18.7-1.7 37.5-4.1 56.2-8.8c18.7-4.8 37.5-11.8 56.2-24c18.8-12.2 37.5-30 56.2-54.3c18.8-24.3 37.5-55.1 56.3-84.8c18.7-29.8 37.4-57.5 56.2-77.9c18.7-20.4 37.5-34.1 56.2-43.4c18.7-9.2 37.5-14.3 56.2-17.7"/><path d="M67.4 357.6c18.7-.4 37.5-.9 56.2-2.3c18.7-1.3 37.5-3.3 56.2-7.9c18.8-4.5 37.5-11.6 56.2-25.3c18.8-13.7 37.5-35.1 56.3-64.6c18.7-29.6 37.4-67 56.2-99.6c18.7-32.6 37.5-58.9 56.2-76.3c18.7-17.4 37.5-26.9 56.2-33"/><path d="M67.4 357.5c18.7-.4 37.5-1.1 56.2-3c18.7-1.8 37.5-4.6 56.2-11.6c18.8-7 37.5-18.3 56.2-39.9c18.8-21.6 37.5-55.2 56.3-93.1c18.7-37.8 37.4-76.6 56.2-103.2c18.7-26.6 37.5-42.2 56.2-51.6c18.7-9.5 37.5-13.5 56.2-16"/><path d="M67.4 351.4c18.7-2.5 37.5-6.1 56.2-12.7c18.7-6.6 37.5-16.3 56.2-31.6c18.8-15.3 37.5-36.8 56.2-63.1c18.8-26.3 37.5-57 56.3-84.3c18.7-27.4 37.4-50.8 56.2-67.8c18.7-17 37.5-28 56.2-35.5c18.7-7.6 37.5-11.8 56.2-14.6"/><path d="M67.4 355.5c18.7-1.3 37.5-3.3 56.2-8c18.7-4.7 37.5-12.1 56.2-26.9c18.8-14.9 37.5-38.4 56.2-70.4c18.8-32 37.5-71.6 56.3-104.2c18.7-32.6 37.4-57.1 56.2-72.6c18.7-15.5 37.5-23.4 56.2-28.3c18.7-5 37.5-7.1 56.2-8.5"/><path d="M67.4 352.8c18.7-2.1 37.5-5.2 56.2-11c18.7-5.8 37.5-14.4 56.2-28.8c18.8-14.4 37.5-35 56.2-61.4c18.8-26.3 37.5-58 56.3-86.7c18.7-28.8 37.4-53.7 56.2-71.6c18.7-17.9 37.5-29.4 56.2-37.1c18.7-7.8 37.5-12 56.2-14.8"/><path d="M67.4 357.9c18.7-.4 37.5-.8 56.2-2.1c18.7-1.3 37.5-3.3 56.2-8.6c18.8-5.2 37.5-13.7 56.2-31.7c18.8-17.9 37.5-47.3 56.3-84.7c18.7-37.4 37.4-80 56.2-110.6c18.7-30.7 37.5-49.7 56.2-61.1c18.7-11.3 37.5-16.1 56.2-19.2"/><path d="M67.4 351.2c18.7-2.6 37.5-6.3 56.2-13.3c18.7-6.9 37.5-17.2 56.2-33.4c18.8-16.3 37.5-39.1 56.2-66.4c18.8-27.3 37.5-58.6 56.3-85.8c18.7-27.2 37.4-49.7 56.2-65.7c18.7-16 37.5-26.1 56.2-32.9c18.7-6.8 37.5-10.5 56.2-13.1"/><path d="M67.4 356.4c18.7-1 37.5-2.4 56.2-6c18.7-3.5 37.5-9.1 56.2-21.2c18.8-12 37.5-31.5 56.2-61.1c18.8-29.5 37.5-69.2 56.3-104.6c18.7-35.3 37.4-64.1 56.2-82.5c18.7-18.3 37.5-27.9 56.2-33.8c18.7-5.9 37.5-8.4 56.2-10.1"/><path d="M67.4 352.4c18.7-2.1 37.5-5 56.2-10.3c18.7-5.2 37.5-12.8 56.2-25c18.8-12.3 37.5-29.4 56.2-51.9c18.8-22.5 37.5-50.3 56.3-77.7c18.7-27.4 37.4-53.6 56.2-74c18.7-20.4 37.5-35.2 56.2-45.6c18.7-10.4 37.5-16.7 56.2-21"/><path d="M67.4 355.9c18.7-1.2 37.5-3.1 56.2-8.1c18.7-4.9 37.5-12.8 56.2-29.7c18.8-16.9 37.5-44.5 56.2-80.8c18.8-36.3 37.5-79 56.3-110.7c18.7-31.7 37.4-52.3 56.2-64.7c18.7-12.4 37.5-17.7 56.2-21.1c18.7-3.4 37.5-4.7 56.2-5.5"/><path d="M67.4 357.1c18.7-.6 37.5-1.5 56.2-3.7c18.7-2.2 37.5-5.6 56.2-13.2c18.8-7.5 37.5-19.6 56.2-40.8c18.8-21.2 37.5-52.9 56.3-88.3c18.7-35.4 37.4-72 56.2-98.3c18.7-26.3 37.5-43 56.2-53.4c18.7-10.5 37.5-15.4 56.2-18.5"/><path d="M67.4 358.5c18.7-.1 37.5-.1 56.2-.3c18.7-.1 37.5-.3 56.2-1.2c18.8-1 37.5-2.3 56.2-7.8c18.8-5.4 37.5-14.9 56.3-40.4c18.7-25.5 37.4-72.2 56.2-121.3c18.7-49.1 37.5-90.6 56.2-112.5c18.7-21.9 37.5-29.5 56.2-33.9"/><path d="M67.4 353.2c18.7-2 37.5-5.1 56.2-11.2c18.7-6.1 37.5-15.3 56.2-31.2c18.8-15.9 37.5-39.1 56.2-68.2c18.8-29.1 37.5-63.3 56.3-92.5c18.7-29.1 37.4-52.5 56.2-68.5c18.7-16 37.5-25.3 56.2-31.5c18.7-6.1 37.5-9.2 56.2-11.3"/><path d="M67.4 354c18.7-2.2 37.5-5.5 56.2-13.8c18.7-8.2 37.5-21.9 56.2-47c18.8-25 37.5-63 56.2-101.9c18.8-39 37.5-75.1 56.3-98.4c18.7-23.3 37.4-35.6 56.2-43c18.7-7.5 37.5-10.5 56.2-12.4c18.7-1.9 37.5-2.6 56.2-3"/><path d="M67.4 354.9c18.7-1.6 37.5-4 56.2-9.6c18.7-5.6 37.5-14.6 56.2-31.7c18.8-17.2 37.5-44 56.2-77.9c18.8-33.9 37.5-73.2 56.3-103.6c18.7-30.5 37.4-51.7 56.2-65.1c18.7-13.3 37.5-19.8 56.2-23.9c18.7-4.1 37.5-5.9 56.2-7"/><path d="M67.4 352.2c18.7-2.8 37.5-7.1 56.2-16.6c18.7-9.4 37.5-24.7 56.2-49.9c18.8-25.2 37.5-61.3 56.2-97.5c18.8-36.2 37.5-69.7 56.3-92.2c18.7-22.5 37.4-35.4 56.2-43.4c18.7-8 37.5-11.6 56.2-13.9c18.7-2.3 37.5-3.2 56.2-3.8"/><path d="M67.4 356.4c18.7-.9 37.5-2.2 56.2-5.6c18.7-3.3 37.5-8.4 56.2-19.5c18.8-11.1 37.5-28.8 56.2-56.4c18.8-27.5 37.5-65.4 56.3-100.8c18.7-35.4 37.4-66 56.2-86.1c18.7-20.2 37.5-31.2 56.2-38.1c18.7-6.9 37.5-9.9 56.2-11.9"/><path d="M67.4 358c18.7-.3 37.5-.7 56.2-1.8c18.7-1.2 37.5-3 56.2-8c18.8-5.1 37.5-13.4 56.2-31.9c18.8-18.6 37.5-49.8 56.3-89.4c18.7-39.6 37.4-83.9 56.2-114.2c18.7-30.3 37.5-47.6 56.2-57.7c18.7-10.2 37.5-14.1 56.2-16.5"/><path d="M67.4 350.5c18.7-3.9 37.5-10.2 56.2-25.4c18.7-15.2 37.5-41.2 56.2-78.4c18.8-37.2 37.5-83.4 56.2-117.6c18.8-34.2 37.5-55.8 56.3-68.4c18.7-12.6 37.4-17.7 56.2-20.8c18.7-3.2 37.5-4.3 56.2-5c18.7-.7 37.5-.9 56.2-1.1"/><path d="M67.4 356.5c18.7-.9 37.5-2.1 56.2-5c18.7-2.9 37.5-7.3 56.2-16.4c18.8-9 37.5-23.2 56.2-46.1c18.8-22.8 37.5-55.2 56.3-89.2c18.7-34 37.4-67.5 56.2-91.6c18.7-24.1 37.5-39.4 56.2-49.2c18.7-9.9 37.5-14.7 56.2-17.8"/><path d="M67.4 355.9c18.7-1.1 37.5-2.8 56.2-6.7c18.7-3.9 37.5-10 56.2-22.3c18.8-12.2 37.5-31.5 56.2-59.8c18.8-28.3 37.5-65.6 56.3-99.6c18.7-33.9 37.4-62.5 56.2-81.5c18.7-18.9 37.5-29.5 56.2-36.1c18.7-6.7 37.5-9.8 56.2-11.7"/><path d="M67.4 354.3c18.7-1.6 37.5-4 56.2-8.9c18.7-4.9 37.5-12.4 56.2-25.6c18.8-13.3 37.5-33.1 56.2-59.8c18.8-26.7 37.5-60.2 56.3-90.9c18.7-30.7 37.4-57.5 56.2-76.4c18.7-18.8 37.5-30.4 56.2-38.1c18.7-7.7 37.5-11.6 56.2-14.2"/><path d="M67.4 351.7c18.7-3.5 37.5-9.1 56.2-23.5c18.7-14.5 37.5-39.8 56.2-77.6c18.8-37.9 37.5-86.1 56.2-121.5c18.8-35.5 37.5-57.3 56.3-69.8c18.7-12.5 37.4-17.2 56.2-20.1c18.7-2.9 37.5-3.9 56.2-4.5c18.7-.6 37.5-.8 56.2-1"/><path d="M67.4 355.7c18.7-1.4 37.5-3.6 56.2-9.9c18.7-6.4 37.5-17.1 56.2-40c18.8-22.9 37.5-60.8 56.2-102.9c18.8-42.1 37.5-83.2 56.3-108.8c18.7-25.6 37.4-38.2 56.2-45.6c18.7-7.4 37.5-10 56.2-11.7c18.7-1.7 37.5-2.2 56.2-2.6"/><path d="M67.4 356.2c18.7-.9 37.5-2.2 56.2-4.9c18.7-2.8 37.5-7 56.2-15c18.8-8.1 37.5-20.3 56.2-39.8c18.8-19.6 37.5-47.2 56.3-78.2c18.7-31.1 37.4-64.3 56.2-90.3c18.7-26.1 37.5-45.1 56.2-57.8c18.7-12.7 37.5-19.7 56.2-24.3"/><path d="M67.4 353.5c18.7-2.1 37.5-5.3 56.2-12.2c18.7-6.9 37.5-17.9 56.2-37.1c18.8-19.3 37.5-48.2 56.2-81.9c18.8-33.7 37.5-70.5 56.3-98.3c18.7-27.9 37.4-46.9 56.2-59c18.7-12.1 37.5-18.2 56.2-22.1c18.7-3.9 37.5-5.6 56.2-6.7"/><path d="M67.4 350c18.7-3 37.5-7.5 56.2-15.5c18.7-8.1 37.5-20.1 56.2-38.4c18.8-18.3 37.5-43.5 56.2-72.2c18.8-28.6 37.5-59.8 56.3-85.6c18.7-25.8 37.4-45.9 56.2-60c18.7-14 37.5-22.5 56.2-28.2c18.7-5.7 37.5-8.8 56.2-10.8"/><path d="M67.4 354.7c18.7-1.4 37.5-3.6 56.2-8.1c18.7-4.6 37.5-11.4 56.2-23.9c18.8-12.5 37.5-31.3 56.2-57.4c18.8-26.1 37.5-59.6 56.3-90.9c18.7-31.3 37.4-59.2 56.2-78.9c18.7-19.7 37.5-32 56.2-40c18.7-8.1 37.5-12.2 56.2-14.9"/><path d="M67.4 357.7c18.7-.4 37.5-.9 56.2-2c18.7-1.1 37.5-2.7 56.2-6.2c18.8-3.6 37.5-8.9 56.2-19.2c18.8-10.3 37.5-26.1 56.3-49.8c18.7-23.7 37.4-55.9 56.2-88.4c18.7-32.5 37.5-63.6 56.2-86.1c18.7-22.6 37.5-37.1 56.2-46.6"/><path d="M67.4 354.2c18.7-1.8 37.5-4.4 56.2-10.1c18.7-5.7 37.5-14.4 56.2-30.2c18.8-15.9 37.5-39.7 56.2-70.3c18.8-30.5 37.5-66.8 56.3-97.1c18.7-30.3 37.4-53.8 56.2-69.3c18.7-15.6 37.5-24.1 56.2-29.6c18.7-5.6 37.5-8.2 56.2-9.9"/><path d="M67.4 352.2c18.7-2.2 37.5-5.5 56.2-11.6c18.7-6.1 37.5-15.1 56.2-29.8c18.8-14.8 37.5-35.7 56.2-62c18.8-26.2 37.5-57.5 56.3-85.7c18.7-28.1 37.4-52.5 56.2-70c18.7-17.6 37.5-29 56.2-36.7c18.7-7.7 37.5-11.9 56.2-14.8"/><path d="M67.4 356.6c18.7-.8 37.5-1.9 56.2-4.4c18.7-2.4 37.5-6.1 56.2-13.6c18.8-7.5 37.5-19 56.2-38.1c18.8-19.1 37.5-46.7 56.3-78.4c18.7-31.7 37.4-66.1 56.2-93.1c18.7-27 37.5-46.5 56.2-59.4c18.7-12.8 37.5-19.8 56.2-24.3"/><path d="M67.4 353.8c18.7-1.9 37.5-4.9 56.2-11.6c18.7-6.6 37.5-17.1 56.2-35.9c18.8-18.8 37.5-47.3 56.2-81c18.8-33.8 37.5-71.1 56.3-99.5c18.7-28.4 37.4-47.9 56.2-60.3c18.7-12.4 37.5-18.5 56.2-22.5c18.7-4 37.5-5.7 56.2-6.8"/><path d="M67.4 353.8c18.7-1.9 37.5-4.8 56.2-11.1c18.7-6.2 37.5-16 56.2-33.4c18.8-17.5 37.5-43.7 56.2-75.8c18.8-32.2 37.5-68.9 56.3-98.1c18.7-29.2 37.4-50.5 56.2-64.4c18.7-13.8 37.5-21.1 56.2-25.8c18.7-4.7 37.5-6.9 56.2-8.3"/><path d="M67.4 352.9c18.7-2.4 37.5-6.1 56.2-14.1c18.7-7.9 37.5-20.5 56.2-42c18.8-21.5 37.5-53.1 56.2-87.8c18.8-34.8 37.5-70.4 56.3-96.2c18.7-25.8 37.4-42.4 56.2-52.8c18.7-10.5 37.5-15.5 56.2-18.8c18.7-3.2 37.5-4.6 56.2-5.5"/><path d="M67.4 356.1c18.7-1.2 37.5-3.1 56.2-8.3c18.7-5.3 37.5-13.9 56.2-33.2c18.8-19.2 37.5-51.4 56.2-91.4c18.8-40.1 37.5-83.9 56.3-113.5c18.7-29.5 37.4-46.1 56.2-55.8c18.7-9.7 37.5-13.4 56.2-15.7c18.7-2.4 37.5-3.1 56.2-3.7"/><path d="M67.4 356.8c18.7-.7 37.5-1.7 56.2-4c18.7-2.2 37.5-5.7 56.2-12.9c18.8-7.2 37.5-18.3 56.2-37.3c18.8-18.9 37.5-46.7 56.3-79c18.7-32.4 37.4-67.8 56.2-95.3c18.7-27.5 37.5-47.1 56.2-59.9c18.7-12.8 37.5-19.5 56.2-23.9"/><path d="M67.4 353.4c18.7-2.2 37.5-5.6 56.2-13.3c18.7-7.6 37.5-19.7 56.2-41.2c18.8-21.4 37.5-53.3 56.2-88.9c18.8-35.5 37.5-72 56.3-98.2c18.7-26.2 37.4-42.6 56.2-52.9c18.7-10.3 37.5-15.1 56.2-18.2c18.7-3.1 37.5-4.4 56.2-5.3"/><path d="M67.4 351.9c18.7-2.2 37.5-5.4 56.2-11.2c18.7-5.9 37.5-14.3 56.2-27.8c18.8-13.5 37.5-32.5 56.2-56.6c18.8-24.2 37.5-53.3 56.3-80.9c18.7-27.5 37.4-52.7 56.2-71.6c18.7-19 37.5-32.1 56.2-41.3c18.7-9.1 37.5-14.4 56.2-18"/><path d="M67.4 354.4c18.7-1.6 37.5-3.9 56.2-8.6c18.7-4.7 37.5-11.8 56.2-24.5c18.8-12.7 37.5-31.6 56.2-57.4c18.8-25.9 37.5-58.7 56.3-89.5c18.7-30.8 37.4-58.3 56.2-77.8c18.7-19.6 37.5-32 56.2-40.2c18.7-8.2 37.5-12.5 56.2-15.3"/><path d="M67.4 350.9c18.7-3.2 37.5-8.2 56.2-18.6c18.7-10.4 37.5-26.9 56.2-52.8c18.8-25.9 37.5-61.9 56.2-96.8c18.8-35 37.5-66.7 56.3-88.1c18.7-21.5 37.4-34 56.2-41.8c18.7-7.9 37.5-11.5 56.2-13.8c18.7-2.3 37.5-3.3 56.2-4"/><path d="M67.4 357.8c18.7-.4 37.5-.9 56.2-2.5c18.7-1.6 37.5-4 56.2-10.5c18.8-6.5 37.5-17.1 56.2-38.9c18.8-21.7 37.5-56.7 56.3-96.5c18.7-39.7 37.4-80.3 56.2-107c18.7-26.8 37.5-41.4 56.2-50.1c18.7-8.8 37.5-12.2 56.2-14.3"/><path d="M67.4 349.9c18.7-2.9 37.5-7.1 56.2-14.5c18.7-7.3 37.5-18 56.2-34.2c18.8-16.3 37.5-38.5 56.2-64.6c18.8-26.2 37.5-55.9 56.3-82c18.7-26.1 37.4-48.2 56.2-64.3c18.7-16.1 37.5-26.7 56.2-34c18.7-7.3 37.5-11.4 56.2-14.3"/><path d="M67.4 358.1c18.7-.2 37.5-.5 56.2-1.4c18.7-.8 37.5-2.1 56.2-5.7c18.8-3.6 37.5-9.3 56.2-22.7c18.8-13.4 37.5-35.9 56.3-69.6c18.7-33.8 37.4-78.1 56.2-113.8c18.7-35.8 37.5-61.2 56.2-76.4c18.7-15.3 37.5-22 56.2-26.2"/><path d="M67.4 355.7c18.7-1.3 37.5-3.4 56.2-8.7c18.7-5.3 37.5-13.9 56.2-31.8c18.8-18 37.5-47.1 56.2-84.2c18.8-37 37.5-79.3 56.3-109.9c18.7-30.6 37.4-49.8 56.2-61.3c18.7-11.6 37.5-16.5 56.2-19.6c18.7-3.2 37.5-4.3 56.2-5.1"/><path d="M67.4 352.1c18.7-2.7 37.5-6.6 56.2-14.8c18.7-8.1 37.5-20.8 56.2-41.7c18.8-20.9 37.5-51 56.2-84.1c18.8-33.2 37.5-67.7 56.3-93.5c18.7-25.8 37.4-43.1 56.2-54.4c18.7-11.3 37.5-17 56.2-20.7c18.7-3.8 37.5-5.5 56.2-6.6"/><path d="M67.4 356.6c18.7-.8 37.5-2.1 56.2-5.1c18.7-3.1 37.5-7.8 56.2-17.9c18.8-10.1 37.5-26.2 56.2-52.1c18.8-25.9 37.5-62.2 56.3-97.7c18.7-35.6 37.4-67.9 56.2-89.6c18.7-21.7 37.5-34.1 56.2-41.9c18.7-7.8 37.5-11.3 56.2-13.6"/><path d="M67.4 353.8c18.7-2 37.5-5 56.2-11.6c18.7-6.5 37.5-16.8 56.2-35.2c18.8-18.3 37.5-46 56.2-79.1c18.8-33.2 37.5-70.2 56.3-98.9c18.7-28.6 37.4-48.7 56.2-61.6c18.7-12.9 37.5-19.4 56.2-23.6c18.7-4.3 37.5-6.1 56.2-7.4"/><path d="M67.4 355.8c18.7-1.2 37.5-3.2 56.2-8.5c18.7-5.4 37.5-14.1 56.2-32.7c18.8-18.6 37.5-49.2 56.2-87.6c18.8-38.3 37.5-81.3 56.3-111.4c18.7-30.1 37.4-48 56.2-58.7c18.7-10.6 37.5-15 56.2-17.7c18.7-2.7 37.5-3.7 56.2-4.4"/><path d="M67.4 351c18.7-2.7 37.5-6.7 56.2-14.3c18.7-7.6 37.5-18.9 56.2-36.8c18.8-17.9 37.5-43 56.2-72.1c18.8-29.1 37.5-61.4 56.3-88c18.7-26.7 37.4-47.4 56.2-61.8c18.7-14.3 37.5-22.8 56.2-28.5c18.7-5.7 37.5-8.6 56.2-10.6"/><path d="M67.4 350.3c18.7-3.8 37.5-9.9 56.2-23.8c18.7-13.9 37.5-37 56.2-70.8c18.8-33.8 37.5-77.4 56.2-112.4c18.8-35 37.5-59.8 56.3-74.8c18.7-15 37.4-21.8 56.2-26c18.7-4.2 37.5-5.8 56.2-6.8c18.7-1.1 37.5-1.4 56.2-1.7"/><path d="M67.4 356.7c18.7-.9 37.5-2.2 56.2-5.4c18.7-3.2 37.5-8.2 56.2-19.3c18.8-11.2 37.5-29.4 56.2-58c18.8-28.6 37.5-68.1 56.3-104.4c18.7-36.2 37.4-66.5 56.2-85.9c18.7-19.5 37.5-29.6 56.2-35.8c18.7-6.3 37.5-8.9 56.2-10.6"/><path d="M67.4 355.1c18.7-1.6 37.5-4.1 56.2-10.5c18.7-6.4 37.5-16.9 56.2-37.7c18.8-20.8 37.5-54 56.2-92.5c18.8-38.5 37.5-78.8 56.3-106.4c18.7-27.6 37.4-43.5 56.2-53.1c18.7-9.6 37.5-13.5 56.2-16.1c18.7-2.5 37.5-3.4 56.2-4"/><path d="M67.4 352.2c18.7-2.2 37.5-5.4 56.2-11.2c18.7-5.8 37.5-14.3 56.2-28.1c18.8-13.8 37.5-33.2 56.2-58.1c18.8-24.8 37.5-54.7 56.3-82.7c18.7-27.9 37.4-53.1 56.2-71.7c18.7-18.7 37.5-31.3 56.2-40c18.7-8.7 37.5-13.6 56.2-17"/><path d="M67.4 351.2c18.7-2.4 37.5-5.9 56.2-12.1c18.7-6.3 37.5-15.3 56.2-29.4c18.8-14.1 37.5-33.8 56.2-58.2c18.8-24.5 37.5-53.5 56.3-80.5c18.7-27.1 37.4-51.4 56.2-69.7c18.7-18.3 37.5-30.9 56.2-39.6c18.7-8.8 37.5-13.9 56.2-17.5"/><path d="M67.4 351.3c18.7-2.4 37.5-5.9 56.2-12.2c18.7-6.3 37.5-15.4 56.2-29.6c18.8-14.3 37.5-34.2 56.2-58.9c18.8-24.8 37.5-54.1 56.3-81.2c18.7-27.1 37.4-51.4 56.2-69.5c18.7-18.1 37.5-30.5 56.2-39.1c18.7-8.6 37.5-13.6 56.2-17"/><path d="M67.4 354c18.7-2.1 37.5-5.2 56.2-12.6c18.7-7.5 37.5-19.5 56.2-41.5c18.8-22 37.5-55.5 56.2-92.5c18.8-37.1 37.5-74.6 56.3-100.6c18.7-26 37.4-41.5 56.2-51c18.7-9.5 37.5-13.7 56.2-16.4c18.7-2.6 37.5-3.7 56.2-4.4"/><path d="M67.4 355.3c18.7-1.4 37.5-3.5 56.2-8.4c18.7-5 37.5-12.8 56.2-28.3c18.8-15.5 37.5-39.8 56.2-72.3c18.8-32.5 37.5-72 56.3-104c18.7-32 37.4-55.6 56.2-70.5c18.7-14.9 37.5-22.4 56.2-27.2c18.7-4.7 37.5-6.7 56.2-8.1"/><path d="M67.4 350.7c18.7-2.8 37.5-6.9 56.2-14.3c18.7-7.4 37.5-18.4 56.2-35.6c18.8-17.1 37.5-40.9 56.2-68.9c18.8-27.9 37.5-59.2 56.3-85.8c18.7-26.6 37.4-48 56.2-63.2c18.7-15.1 37.5-24.5 56.2-30.8c18.7-6.4 37.5-9.8 56.2-12.1"/><path d="M67.4 357.9c18.7-.4 37.5-.9 56.2-2.3c18.7-1.4 37.5-3.5 56.2-9.4c18.8-5.9 37.5-15.5 56.2-35.9c18.8-20.4 37.5-53.8 56.3-93.5c18.7-39.6 37.4-81.6 56.2-109.9c18.7-28.2 37.5-44 56.2-53.3c18.7-9.4 37.5-13 56.2-15.3"/><path d="M67.4 352.5c18.7-2.2 37.5-5.4 56.2-11.6c18.7-6.1 37.5-15.2 56.2-30.2c18.8-15 37.5-36.5 56.2-63.5c18.8-26.9 37.5-58.9 56.3-87.3c18.7-28.5 37.4-52.6 56.2-69.8c18.7-17.2 37.5-28.1 56.2-35.4c18.7-7.3 37.5-11.2 56.2-13.9"/><path d="M67.4 354c18.7-2.8 37.5-7.2 56.2-22.4c18.7-15.2 37.5-45.2 56.2-91.7c18.8-46.5 37.5-102.9 56.2-136.7c18.8-33.8 37.5-48.4 56.3-56.4c18.7-7.9 37.4-9.8 56.2-11.1c18.7-1.4 37.5-1.6 56.2-1.9c18.7-.2 37.5-.2 56.2-.2"/><path d="M67.4 357.7c18.7-.4 37.5-1.1 56.2-2.8c18.7-1.7 37.5-4.3 56.2-11.2c18.8-6.9 37.5-18.3 56.2-40.7c18.8-22.4 37.5-57.8 56.3-97.2c18.7-39.4 37.4-78.8 56.2-104.8c18.7-26 37.5-40.3 56.2-48.8c18.7-8.6 37.5-12 56.2-14.2"/><path d="M67.4 358.4c18.7-.1 37.5-.2 56.2-.6c18.7-.3 37.5-.8 56.2-2.5c18.8-1.7 37.5-4.3 56.2-11.7c18.8-7.5 37.5-20.3 56.3-46.3c18.7-26.1 37.4-67.9 56.2-110.4c18.7-42.4 37.5-80 56.2-102.5c18.7-22.5 37.5-32.8 56.2-38.9"/><path d="M67.4 352.6c18.7-2.2 37.5-5.7 56.2-12.6c18.7-7 37.5-17.7 56.2-35.6c18.8-18 37.5-44.1 56.2-75.1c18.8-30.9 37.5-65.6 56.3-93.5c18.7-27.9 37.4-48.7 56.2-62.6c18.7-13.9 37.5-21.5 56.2-26.6c18.7-5 37.5-7.4 56.2-9"/><path d="M67.4 354.7c18.7-1.8 37.5-4.5 56.2-11.3c18.7-6.8 37.5-17.8 56.2-39.1c18.8-21.2 37.5-54.4 56.2-92.2c18.8-37.9 37.5-77.1 56.3-104.1c18.7-27 37.4-42.9 56.2-52.5c18.7-9.7 37.5-13.7 56.2-16.4c18.7-2.6 37.5-3.6 56.2-4.2"/><path d="M67.4 357.7c18.7-.3 37.5-.9 56.2-2.3c18.7-1.4 37.5-3.6 56.2-9.1c18.8-5.4 37.5-14.2 56.2-32.1c18.8-17.8 37.5-46.3 56.3-82.3c18.7-36.1 37.4-77.3 56.2-107.8c18.7-30.4 37.5-50.2 56.2-62.3c18.7-12 37.5-17.4 56.2-20.8"/><path d="M67.4 354.6c18.7-1.9 37.5-4.8 56.2-12.3c18.7-7.5 37.5-19.9 56.2-43.8c18.8-23.9 37.5-61.2 56.2-100.9c18.8-39.6 37.5-77.6 56.3-102.1c18.7-24.5 37.4-37.4 56.2-45.2c18.7-7.8 37.5-10.8 56.2-12.8c18.7-1.9 37.5-2.6 56.2-3.1"/><path d="M67.4 356.9c18.7-.6 37.5-1.6 56.2-3.8c18.7-2.3 37.5-5.8 56.2-13.2c18.8-7.4 37.5-19 56.2-39c18.8-20 37.5-49.6 56.3-83.3c18.7-33.8 37.4-69.8 56.2-96.8c18.7-27 37.5-45.2 56.2-56.8c18.7-11.7 37.5-17.5 56.2-21.3"/><path d="M67.4 356.4c18.7-1 37.5-2.4 56.2-6.3c18.7-3.9 37.5-10 56.2-23.7c18.8-13.7 37.5-36.2 56.2-69.1c18.8-32.9 37.5-75.5 56.3-110.4c18.7-34.9 37.4-60.4 56.2-76.1c18.7-15.6 37.5-22.8 56.2-27.4c18.7-4.5 37.5-6.3 56.2-7.4"/><path d="M67.4 356.3c18.7-1 37.5-2.3 56.2-5.4c18.7-3 37.5-7.7 56.2-17c18.8-9.4 37.5-23.9 56.2-46.8c18.8-22.8 37.5-54.8 56.3-88.2c18.7-33.4 37.4-66.2 56.2-90c18.7-23.8 37.5-39.2 56.2-49.1c18.7-9.9 37.5-14.9 56.2-18.2"/><path d="M67.4 356.6c18.7-.7 37.5-1.9 56.2-4.6c18.7-2.7 37.5-6.8 56.2-15.4c18.8-8.6 37.5-22.1 56.2-44.3c18.8-22.2 37.5-54.2 56.3-88.4c18.7-34.1 37.4-68.5 56.2-93.3c18.7-24.8 37.5-40.7 56.2-50.9c18.7-10.2 37.5-15.1 56.2-18.4"/><path d="M67.4 349.2c18.7-4.3 37.5-11.1 56.2-25.8c18.7-14.7 37.5-38.8 56.2-72.6c18.8-33.9 37.5-76.3 56.2-110c18.8-33.8 37.5-57.7 56.3-72.4c18.7-14.6 37.4-21.4 56.2-25.6c18.7-4.3 37.5-5.9 56.2-7c18.7-1.1 37.5-1.5 56.2-1.7"/><path d="M67.4 351.6c18.7-2.8 37.5-7.2 56.2-16.1c18.7-9 37.5-23.1 56.2-45.8c18.8-22.7 37.5-55.1 56.2-89.1c18.8-34.1 37.5-67.7 56.3-92c18.7-24.2 37.4-39.6 56.2-49.5c18.7-9.9 37.5-14.7 56.2-17.9c18.7-3.1 37.5-4.5 56.2-5.5"/><path d="M67.4 353.5c18.7-2 37.5-5.1 56.2-11.9c18.7-6.7 37.5-17.2 56.2-35.8c18.8-18.6 37.5-46.3 56.2-79.3c18.8-33 37.5-69.6 56.3-97.9c18.7-28.3 37.4-48.2 56.2-61.1c18.7-12.8 37.5-19.4 56.2-23.6c18.7-4.2 37.5-6.1 56.2-7.4"/><path d="M67.4 354.3c18.7-1.9 37.5-4.8 56.2-11.6c18.7-6.9 37.5-18 56.2-38.6c18.8-20.6 37.5-52.4 56.2-88.8c18.8-36.5 37.5-75 56.3-102.4c18.7-27.3 37.4-44.2 56.2-54.6c18.7-10.5 37.5-15.1 56.2-18.1c18.7-3 37.5-4.2 56.2-5"/><path d="M67.4 355c18.7-1.4 37.5-3.6 56.2-8.6c18.7-5 37.5-12.7 56.2-27.6c18.8-14.8 37.5-37.8 56.2-68.7c18.8-30.8 37.5-68.7 56.3-100.5c18.7-31.9 37.4-56.5 56.2-72.6c18.7-16.1 37.5-24.6 56.2-30.1c18.7-5.5 37.5-7.9 56.2-9.6"/><path d="M67.4 355c18.7-1.2 37.5-3 56.2-6.5c18.7-3.5 37.5-8.7 56.2-18c18.8-9.2 37.5-22.8 56.2-42.8c18.8-20 37.5-46.9 56.3-76c18.7-29.1 37.4-59.4 56.2-83.7c18.7-24.2 37.5-42.4 56.2-54.9c18.7-12.6 37.5-20 56.2-25.1"/><path d="M67.4 356.3c18.7-.9 37.5-2.2 56.2-5.2c18.7-2.9 37.5-7.3 56.2-16.2c18.8-8.9 37.5-22.6 56.2-44.4c18.8-21.8 37.5-52.6 56.3-85.5c18.7-32.9 37.4-66.1 56.2-90.8c18.7-24.6 37.5-41.1 56.2-51.8c18.7-10.7 37.5-16.2 56.2-19.8"/><path d="M67.4 357.7c18.7-.3 37.5-.9 56.2-2.3c18.7-1.5 37.5-3.7 56.2-9.4c18.8-5.7 37.5-14.8 56.2-33.3c18.8-18.5 37.5-48.2 56.3-85c18.7-36.8 37.4-78 56.2-107.8c18.7-29.9 37.5-48.7 56.2-60c18.7-11.4 37.5-16.4 56.2-19.6"/><path d="M67.4 357.3c18.7-.5 37.5-1.3 56.2-3.5c18.7-2.1 37.5-5.4 56.2-13.2c18.8-7.8 37.5-20.5 56.2-43.5c18.8-23 37.5-57.8 56.3-95.2c18.7-37.5 37.4-74.4 56.2-99.5c18.7-25.1 37.5-39.5 56.2-48.4c18.7-8.9 37.5-12.7 56.2-15.1"/><path d="M67.4 353.9c18.7-1.8 37.5-4.5 56.2-10c18.7-5.6 37.5-14 56.2-28.9c18.8-14.9 37.5-37 56.2-65.7c18.8-28.7 37.5-63.4 56.3-93.5c18.7-30.2 37.4-54.9 56.2-71.8c18.7-16.8 37.5-26.7 56.2-33.2c18.7-6.5 37.5-9.7 56.2-11.8"/><path d="M67.4 354.8c18.7-1.4 37.5-3.5 56.2-7.9c18.7-4.4 37.5-11 56.2-23.1c18.8-12.1 37.5-30.3 56.2-55.8c18.8-25.6 37.5-58.5 56.3-89.9c18.7-31.4 37.4-59.8 56.2-80c18.7-20.2 37.5-33 56.2-41.4c18.7-8.4 37.5-12.8 56.2-15.7"/><path d="M67.4 357.5c18.7-.5 37.5-1.2 56.2-3.1c18.7-1.9 37.5-4.8 56.2-11.9c18.8-7 37.5-18.4 56.2-39.8c18.8-21.3 37.5-54.3 56.3-91.5c18.7-37.3 37.4-75.8 56.2-102.5c18.7-26.7 37.5-42.7 56.2-52.5c18.7-9.8 37.5-14 56.2-16.7"/><path d="M67.4 351.9c18.7-2.6 37.5-6.5 56.2-14.5c18.7-8.1 37.5-20.4 56.2-40.8c18.8-20.3 37.5-49.5 56.2-82c18.8-32.6 37.5-66.9 56.3-92.9c18.7-26.1 37.4-44.2 56.2-56c18.7-11.7 37.5-17.9 56.2-21.9c18.7-4.1 37.5-5.9 56.2-7.2"/><path d="M67.4 351.2c18.7-2.5 37.5-6.3 56.2-13.1c18.7-6.9 37.5-16.9 56.2-32.9c18.8-15.9 37.5-38.2 56.2-65.1c18.8-26.9 37.5-57.9 56.3-85.1c18.7-27.2 37.4-50 56.2-66.4c18.7-16.4 37.5-26.8 56.2-33.9c18.7-7.1 37.5-11 56.2-13.6"/><path d="M67.4 353.4c18.7-2 37.5-5.1 56.2-11.4c18.7-6.4 37.5-16.1 56.2-33.1c18.8-16.9 37.5-42 56.2-72.7c18.8-30.8 37.5-66.2 56.3-95.3c18.7-29 37.4-51 56.2-65.7c18.7-14.7 37.5-22.8 56.2-28c18.7-5.3 37.5-7.8 56.2-9.5"/><path d="M67.4 351.7c18.7-3.1 37.5-8 56.2-19.4c18.7-11.4 37.5-30.2 56.2-60.1c18.8-30 37.5-71.4 56.2-108.2c18.8-36.9 37.5-66.5 56.3-85c18.7-18.5 37.4-27.5 56.2-33.2c18.7-5.6 37.5-7.8 56.2-9.2c18.7-1.5 37.5-2 56.2-2.3"/><path d="M67.4 353.3c18.7-1.9 37.5-4.9 56.2-10.8c18.7-5.9 37.5-14.8 56.2-30.2c18.8-15.4 37.5-38 56.2-66.6c18.8-28.5 37.5-62.5 56.3-91.9c18.7-29.4 37.4-53.4 56.2-69.9c18.7-16.6 37.5-26.3 56.2-32.8c18.7-6.5 37.5-9.7 56.2-11.9"/><path d="M67.4 354.4c18.7-1.4 37.5-3.4 56.2-7.2c18.7-3.9 37.5-9.4 56.2-19c18.8-9.6 37.5-23.5 56.2-43.4c18.8-19.9 37.5-46.1 56.3-74.2c18.7-28.2 37.4-57.3 56.2-81c18.7-23.6 37.5-41.6 56.2-54.3c18.7-12.7 37.5-20.5 56.2-25.8"/><path d="M67.4 356.9c18.7-.7 37.5-1.6 56.2-3.6c18.7-2 37.5-5 56.2-10.9c18.8-5.9 37.5-14.9 56.2-30.4c18.8-15.4 37.5-38 56.3-66.6c18.7-28.6 37.4-62.6 56.2-91.9c18.7-29.3 37.5-53.3 56.2-69.7c18.7-16.5 37.5-26.3 56.2-32.7"/><path d="M67.4 348.4c18.7-3.2 37.5-7.9 56.2-15.9c18.7-7.9 37.5-19.2 56.2-35.9c18.8-16.6 37.5-38.9 56.2-64.6c18.8-25.7 37.5-54.2 56.3-79.3c18.7-25.1 37.4-46.3 56.2-62c18.7-15.7 37.5-26.1 56.2-33.5c18.7-7.3 37.5-11.5 56.2-14.5"/><path d="M67.4 353.7c18.7-1.8 37.5-4.5 56.2-10c18.7-5.4 37.5-13.7 56.2-28.1c18.8-14.4 37.5-35.7 56.2-63.3c18.8-27.7 37.5-61.4 56.3-91.3c18.7-30 37.4-55.3 56.2-72.8c18.7-17.6 37.5-28.3 56.2-35.3c18.7-7.1 37.5-10.7 56.2-13.1"/><path d="M67.4 355.1c18.7-1.5 37.5-3.6 56.2-8.2c18.7-4.7 37.5-11.9 56.2-25.5c18.8-13.7 37.5-34.6 56.2-63.4c18.8-28.8 37.5-65.1 56.3-97.2c18.7-32.1 37.4-58.7 56.2-76.5c18.7-17.7 37.5-27.8 56.2-34.3c18.7-6.5 37.5-9.6 56.2-11.6"/><path d="M67.4 355.5c18.7-1.4 37.5-3.4 56.2-8.6c18.7-5.2 37.5-13.5 56.2-30.4c18.8-16.8 37.5-43.8 56.2-78.9c18.8-35.1 37.5-76.2 56.3-107.6c18.7-31.3 37.4-52.4 56.2-65.4c18.7-13 37.5-19 56.2-22.7c18.7-3.8 37.5-5.3 56.2-6.3"/><path d="M67.4 352.1c18.7-2.2 37.5-5.5 56.2-11.7c18.7-6.1 37.5-15.2 56.2-30c18.8-14.7 37.5-35.7 56.2-62c18.8-26.2 37.5-57.4 56.3-85.4c18.7-28.1 37.4-52.4 56.2-69.9c18.7-17.6 37.5-28.9 56.2-36.6c18.7-7.7 37.5-12 56.2-14.8"/><path d="M67.4 356.6c18.7-.8 37.5-2 56.2-4.8c18.7-2.8 37.5-7.1 56.2-16c18.8-8.9 37.5-22.9 56.2-45.7c18.8-22.8 37.5-55.3 56.3-89.6c18.7-34.3 37.4-68.2 56.2-92.5c18.7-24.2 37.5-39.6 56.2-49.4c18.7-9.8 37.5-14.5 56.2-17.6"/><path d="M67.4 351.4c18.7-2.5 37.5-6.1 56.2-12.8c18.7-6.6 37.5-16.4 56.2-31.9c18.8-15.5 37.5-37.3 56.2-63.8c18.8-26.6 37.5-57.4 56.3-84.8c18.7-27.3 37.4-50.6 56.2-67.4c18.7-16.8 37.5-27.6 56.2-35c18.7-7.4 37.5-11.4 56.2-14.2"/><path d="M67.4 356.9c18.7-.6 37.5-1.6 56.2-3.9c18.7-2.3 37.5-5.9 56.2-13.4c18.8-7.6 37.5-19.6 56.2-40.1c18.8-20.5 37.5-50.8 56.3-84.9c18.7-34.1 37.4-70 56.2-96.6c18.7-26.6 37.5-44.2 56.2-55.5c18.7-11.2 37.5-16.8 56.2-20.3"/><path d="M67.4 355.7c18.7-1.1 37.5-2.7 56.2-6.2c18.7-3.5 37.5-8.9 56.2-19.1c18.8-10.3 37.5-26 56.2-49.7c18.8-23.6 37.5-55.7 56.3-88.1c18.7-32.5 37.4-63.7 56.2-86.2c18.7-22.6 37.5-37.3 56.2-46.9c18.7-9.5 37.5-14.4 56.2-17.7"/><path d="M67.4 355.2c18.7-1.2 37.5-3.1 56.2-6.9c18.7-3.8 37.5-9.5 56.2-20.1c18.8-10.6 37.5-26.4 56.2-49.6c18.8-23.3 37.5-54.2 56.3-85.4c18.7-31.3 37.4-61.5 56.2-83.9c18.7-22.4 37.5-37.4 56.2-47.4c18.7-10 37.5-15.3 56.2-18.9"/><path d="M67.4 356.9c18.7-.8 37.5-1.9 56.2-4.6c18.7-2.8 37.5-7 56.2-16.6c18.8-9.5 37.5-25 56.2-50.6c18.8-25.5 37.5-62.3 56.3-98.8c18.7-36.4 37.4-69.8 56.2-92.1c18.7-22.2 37.5-34.7 56.2-42.5c18.7-7.7 37.5-11.1 56.2-13.3"/><path d="M67.4 354.8c18.7-1.6 37.5-4.2 56.2-10.3c18.7-6.1 37.5-15.9 56.2-34.9c18.8-18.9 37.5-48.5 56.2-84.4c18.8-35.9 37.5-75.5 56.3-104.6c18.7-29.1 37.4-47.8 56.2-59.4c18.7-11.6 37.5-16.8 56.2-20.2c18.7-3.3 37.5-4.7 56.2-5.6"/><path d="M67.4 354.4c18.7-1.6 37.5-4 56.2-9c18.7-5 37.5-12.7 56.2-26.6c18.8-13.9 37.5-34.7 56.2-62.7c18.8-27.9 37.5-62.7 56.3-93.7c18.7-31 37.4-57.1 56.2-75c18.7-17.9 37.5-28.5 56.2-35.5c18.7-6.9 37.5-10.3 56.2-12.6"/><path d="M67.4 356c18.7-1.1 37.5-2.7 56.2-6.7c18.7-3.9 37.5-10 56.2-22.8c18.8-12.7 37.5-33 56.2-62.6c18.8-29.6 37.5-68.5 56.3-102.7c18.7-34.3 37.4-62 56.2-80c18.7-18 37.5-27.5 56.2-33.5c18.7-6 37.5-8.6 56.2-10.3"/><path d="M67.4 354.1c18.7-1.7 37.5-4.2 56.2-9.1c18.7-4.9 37.5-12.4 56.2-25.4c18.8-13.1 37.5-32.4 56.2-58.4c18.8-26 37.5-58.5 56.3-88.9c18.7-30.3 37.4-57.2 56.2-76.4c18.7-19.2 37.5-31.4 56.2-39.5c18.7-8.1 37.5-12.4 56.2-15.2"/><path d="M67.4 358.1c18.7-.1 37.5-.4 56.2-1.1c18.7-.7 37.5-1.8 56.2-4.6c18.8-2.9 37.5-7.4 56.2-18.1c18.8-10.7 37.5-28.5 56.3-57.8c18.7-29.2 37.4-70.6 56.2-108.3c18.7-37.6 37.5-68.5 56.2-87.7c18.7-19.2 37.5-28.6 56.2-34.4"/><path d="M67.4 354c18.7-1.8 37.5-4.4 56.2-10c18.7-5.6 37.5-14.2 56.2-29.6c18.8-15.3 37.5-38.3 56.2-67.9c18.8-29.5 37.5-65 56.3-95.3c18.7-30.2 37.4-54.3 56.2-70.6c18.7-16.2 37.5-25.4 56.2-31.4c18.7-6 37.5-8.9 56.2-10.9"/><path d="M67.4 353.6c18.7-2 37.5-5.1 56.2-11.5c18.7-6.4 37.5-16.4 56.2-34c18.8-17.5 37.5-43.7 56.2-75.6c18.8-31.9 37.5-68.1 56.3-97c18.7-28.9 37.4-50.1 56.2-64c18.7-13.9 37.5-21.2 56.2-26c18.7-4.8 37.5-7 56.2-8.4"/><path d="M67.4 355.2c18.7-1.5 37.5-3.9 56.2-9.9c18.7-6 37.5-15.7 56.2-35.3c18.8-19.7 37.5-51 56.2-88.6c18.8-37.7 37.5-78.5 56.3-107.3c18.7-28.8 37.4-46.2 56.2-56.7c18.7-10.5 37.5-15 56.2-17.8c18.7-2.8 37.5-3.9 56.2-4.6"/><path d="M67.4 358.3c18.7-.2 37.5-.4 56.2-1c18.7-.6 37.5-1.5 56.2-4.4c18.8-2.9 37.5-7.5 56.2-19.7c18.8-12.2 37.5-33.6 56.3-68.5c18.7-34.9 37.4-82.8 56.2-120.9c18.7-38.1 37.5-64 56.2-78.9c18.7-14.8 37.5-20.7 56.2-24.3"/><path d="M67.4 351.5c18.7-2.9 37.5-7.3 56.2-16.5c18.7-9.2 37.5-23.6 56.2-46.7c18.8-23.2 37.5-56 56.2-90.1c18.8-34.2 37.5-67.7 56.3-91.5c18.7-23.9 37.4-38.9 56.2-48.5c18.7-9.6 37.5-14.3 56.2-17.3c18.7-3 37.5-4.4 56.2-5.3"/><path d="M67.4 352c18.7-2.5 37.5-6.1 56.2-13c18.7-6.9 37.5-17.4 56.2-34.4c18.8-16.9 37.5-41.2 56.2-70.2c18.8-29 37.5-62 56.3-89.6c18.7-27.7 37.4-49.6 56.2-64.7c18.7-15.1 37.5-24 56.2-30c18.7-6 37.5-9 56.2-11.1"/><path d="M67.4 352.8c18.7-3.1 37.5-7.9 56.2-20.8c18.7-13 37.5-36 56.2-72.7c18.8-36.7 37.5-85.9 56.2-123.3c18.8-37.3 37.5-61.3 56.3-74.8c18.7-13.5 37.4-18.5 56.2-21.7c18.7-3.1 37.5-4.1 56.2-4.8c18.7-.6 37.5-.8 56.2-.9"/><path d="M67.4 355.2c18.7-1.4 37.5-3.5 56.2-8.3c18.7-4.8 37.5-12.3 56.2-26.9c18.8-14.6 37.5-37.3 56.2-68c18.8-30.8 37.5-68.9 56.3-101.1c18.7-32.3 37.4-57.3 56.2-73.6c18.7-16.3 37.5-24.9 56.2-30.4c18.7-5.5 37.5-8 56.2-9.6"/><path d="M67.4 356.8c18.7-.8 37.5-1.9 56.2-4.6c18.7-2.8 37.5-7 56.2-16.1c18.8-9.2 37.5-23.8 56.2-47.9c18.8-24.2 37.5-58.8 56.3-94.4c18.7-35.6 37.4-69.6 56.2-93c18.7-23.4 37.5-37.3 56.2-46c18.7-8.7 37.5-12.7 56.2-15.3"/><path d="M67.4 353.7c18.7-1.6 37.5-4 56.2-8.5c18.7-4.5 37.5-11 56.2-22c18.8-11.1 37.5-26.9 56.2-48.8c18.8-21.8 37.5-49.8 56.3-78.2c18.7-28.5 37.4-56.5 56.2-78.4c18.7-21.9 37.5-37.8 56.2-48.8c18.7-11.1 37.5-17.7 56.2-22.2"/><path d="M67.4 356.1c18.7-.9 37.5-2.4 56.2-5.6c18.7-3.1 37.5-8 56.2-17.6c18.8-9.7 37.5-24.6 56.2-47.8c18.8-23.2 37.5-55.3 56.3-88.5c18.7-33.2 37.4-65.5 56.2-88.9c18.7-23.4 37.5-38.5 56.2-48.2c18.7-9.8 37.5-14.7 56.2-17.9"/><path d="M67.4 357.2c18.7-.6 37.5-1.5 56.2-3.8c18.7-2.4 37.5-6.1 56.2-15.1c18.8-8.9 37.5-23.6 56.2-49.3c18.8-25.8 37.5-64 56.3-102.2c18.7-38.2 37.4-72.9 56.2-95.4c18.7-22.4 37.5-34.3 56.2-41.6c18.7-7.3 37.5-10.3 56.2-12.2"/><path d="M67.4 352.1c18.7-2.5 37.5-6.1 56.2-13.4c18.7-7.2 37.5-18.2 56.2-36.2c18.8-18.1 37.5-44 56.2-74.4c18.8-30.4 37.5-64.2 56.3-91.6c18.7-27.4 37.4-48.1 56.2-62c18.7-14 37.5-21.8 56.2-27c18.7-5.2 37.5-7.8 56.2-9.5"/><path d="M67.4 356.4c18.7-.9 37.5-2.3 56.2-5.4c18.7-3.1 37.5-7.8 56.2-17.6c18.8-9.8 37.5-25.1 56.2-49.4c18.8-24.2 37.5-58.1 56.3-92.4c18.7-34.3 37.4-66.8 56.2-89.6c18.7-22.9 37.5-36.9 56.2-45.8c18.7-8.9 37.5-13.2 56.2-16"/><path d="M67.4 357.5c18.7-.5 37.5-1.2 56.2-2.9c18.7-1.8 37.5-4.6 56.2-11.1c18.8-6.5 37.5-16.9 56.2-36.8c18.8-19.8 37.5-50.7 56.3-86.9c18.7-36.3 37.4-75.3 56.2-103.5c18.7-28.1 37.5-45.8 56.2-56.8c18.7-10.9 37.5-15.8 56.2-19"/><path d="M67.4 353c18.7-2.3 37.5-5.8 56.2-13.3c18.7-7.4 37.5-19.1 56.2-39.2c18.8-20 37.5-49.5 56.2-83.1c18.8-33.6 37.5-69.4 56.3-96.4c18.7-26.9 37.4-45.1 56.2-56.8c18.7-11.7 37.5-17.6 56.2-21.4c18.7-3.8 37.5-5.5 56.2-6.6"/><path d="M67.4 353.2c18.7-2.1 37.5-5.2 56.2-11.3c18.7-6.2 37.5-15.6 56.2-31.7c18.8-16.1 37.5-39.6 56.2-69c18.8-29.3 37.5-63.6 56.3-92.7c18.7-29.1 37.4-52.2 56.2-68c18.7-15.7 37.5-24.8 56.2-30.9c18.7-6 37.5-8.9 56.2-10.9"/><path d="M67.4 356.1c18.7-1.1 37.5-2.7 56.2-6.3c18.7-3.7 37.5-9.4 56.2-21c18.8-11.6 37.5-29.9 56.2-57.3c18.8-27.4 37.5-64.2 56.3-98.5c18.7-34.3 37.4-64 56.2-83.8c18.7-19.9 37.5-31.1 56.2-38.2c18.7-7.1 37.5-10.4 56.2-12.5"/><path d="M67.4 348.5c18.7-3.6 37.5-8.8 56.2-18.3c18.7-9.4 37.5-23.3 56.2-43.8c18.8-20.5 37.5-48 56.2-77.5c18.8-29.5 37.5-59.9 56.3-83.9c18.7-24 37.4-41.7 56.2-53.9c18.7-12.1 37.5-19.2 56.2-24c18.7-4.7 37.5-7.2 56.2-8.9"/><path d="M67.4 355.8c18.7-1.2 37.5-3 56.2-7.5c18.7-4.5 37.5-11.5 56.2-26.2c18.8-14.6 37.5-38.1 56.2-70.7c18.8-32.5 37.5-73.2 56.3-106.4c18.7-33.2 37.4-57.7 56.2-73.1c18.7-15.4 37.5-22.9 56.2-27.6c18.7-4.7 37.5-6.7 56.2-8"/><path d="M67.4 357.7c18.7-.4 37.5-1 56.2-2.5c18.7-1.6 37.5-4 56.2-10.1c18.8-6.1 37.5-16.1 56.2-35.8c18.8-19.8 37.5-51.4 56.3-89c18.7-37.6 37.4-78.3 56.2-106.8c18.7-28.6 37.5-45.9 56.2-56.3c18.7-10.4 37.5-14.8 56.2-17.6"/><path d="M67.4 353.6c18.7-2 37.5-5.2 56.2-12.1c18.7-6.9 37.5-17.7 56.2-37.1c18.8-19.3 37.5-48.3 56.2-82.2c18.8-34 37.5-71 56.3-98.9c18.7-27.8 37.4-46.8 56.2-58.8c18.7-12 37.5-18 56.2-21.8c18.7-3.8 37.5-5.5 56.2-6.6"/><path d="M67.4 357.2c18.7-.5 37.5-1.4 56.2-3.4c18.7-2 37.5-5.1 56.2-12c18.8-6.9 37.5-17.9 56.2-37.7c18.8-19.9 37.5-49.8 56.3-84.7c18.7-34.8 37.4-72.2 56.2-99.9c18.7-27.7 37.5-45.9 56.2-57.3c18.7-11.5 37.5-16.9 56.2-20.4"/><path d="M67.4 356.9c18.7-.6 37.5-1.6 56.2-3.9c18.7-2.2 37.5-5.7 56.2-12.9c18.8-7.3 37.5-18.6 56.2-38.1c18.8-19.5 37.5-48.3 56.3-81.5c18.7-33.1 37.4-69 56.2-96.3c18.7-27.3 37.5-46.2 56.2-58.3c18.7-12.2 37.5-18.4 56.2-22.5"/><path d="M67.4 350.5c18.7-2.8 37.5-7 56.2-14.7c18.7-7.6 37.5-18.9 56.2-36.5c18.8-17.5 37.5-41.9 56.2-70.1c18.8-28.2 37.5-59.6 56.3-85.9c18.7-26.4 37.4-47.4 56.2-62.1c18.7-14.8 37.5-23.8 56.2-29.9c18.7-6.1 37.5-9.4 56.2-11.6"/><path d="M67.4 353.3c18.7-1.9 37.5-4.8 56.2-10.4c18.7-5.6 37.5-13.9 56.2-28.2c18.8-14.2 37.5-35 56.2-61.8c18.8-26.9 37.5-59.5 56.3-88.9c18.7-29.4 37.4-54.6 56.2-72.5c18.7-18 37.5-29.2 56.2-36.7c18.7-7.5 37.5-11.4 56.2-14.1"/><path d="M67.4 358.5c18.7-.1 37.5-.1 56.2-.3c18.7-.2 37.5-.4 56.2-1.5c18.8-1.1 37.5-2.6 56.2-8.9c18.8-6.2 37.5-17.3 56.3-45.3c18.7-28 37.4-77.8 56.2-126.2c18.7-48.4 37.5-86.2 56.2-106c18.7-19.7 37.5-26.2 56.2-30.2"/><path d="M67.4 358.3c18.7-.1 37.5-.2 56.2-.6c18.7-.4 37.5-1 56.2-3c18.8-2 37.5-5.1 56.2-13.9c18.8-8.8 37.5-23.9 56.3-52.9c18.7-29 37.4-73.8 56.2-115.5c18.7-41.7 37.5-75.6 56.2-95.3c18.7-19.8 37.5-28.4 56.2-33.5"/><path d="M67.4 354c18.7-1.9 37.5-4.8 56.2-11.2c18.7-6.4 37.5-16.4 56.2-34.5c18.8-18.1 37.5-45.5 56.2-78.6c18.8-33.2 37.5-70.6 56.3-99.6c18.7-28.9 37.4-49.3 56.2-62.4c18.7-13.1 37.5-19.7 56.2-23.9c18.7-4.3 37.5-6.1 56.2-7.4"/><path d="M67.4 356.8c18.7-.8 37.5-1.9 56.2-4.4c18.7-2.5 37.5-6.3 56.2-14.4c18.8-8.1 37.5-20.8 56.2-42.1c18.8-21.3 37.5-52.2 56.3-86.2c18.7-34 37.4-69 56.2-94.8c18.7-25.7 37.5-42.6 56.2-53.4c18.7-10.8 37.5-16.1 56.2-19.6"/><path d="M67.4 351.7c18.7-2.6 37.5-6.4 56.2-13.9c18.7-7.5 37.5-18.9 56.2-37.3c18.8-18.4 37.5-44.6 56.2-75c18.8-30.3 37.5-63.7 56.3-90.7c18.7-27 37.4-47.2 56.2-60.9c18.7-13.7 37.5-21.4 56.2-26.5c18.7-5.2 37.5-7.7 56.2-9.4"/><path d="M67.4 352.9c18.7-2.4 37.5-6 56.2-14.2c18.7-8.2 37.5-21.2 56.2-43.5c18.8-22.4 37.5-55.3 56.2-90.8c18.8-35.5 37.5-71.2 56.3-96.4c18.7-25.2 37.4-40.7 56.2-50.5c18.7-9.7 37.5-14.3 56.2-17.2c18.7-2.9 37.5-4.1 56.2-4.9"/><path d="M67.4 354.2c18.7-1.7 37.5-4.3 56.2-9.7c18.7-5.4 37.5-13.7 56.2-28.6c18.8-14.8 37.5-37.2 56.2-66.3c18.8-29.1 37.5-64.5 56.3-95.1c18.7-30.5 37.4-55.3 56.2-72c18.7-16.8 37.5-26.4 56.2-32.6c18.7-6.3 37.5-9.3 56.2-11.3"/><path d="M67.4 355.9c18.7-1.2 37.5-2.9 56.2-6.9c18.7-4.1 37.5-10.4 56.2-23.3c18.8-12.8 37.5-33.2 56.2-62.6c18.8-29.5 37.5-67.8 56.3-101.7c18.7-33.9 37.4-61.5 56.2-79.5c18.7-18 37.5-27.6 56.2-33.7c18.7-6.2 37.5-8.9 56.2-10.6"/><path d="M67.4 357.5c18.7-.4 37.5-1.1 56.2-2.9c18.7-1.8 37.5-4.6 56.2-11.3c18.8-6.8 37.5-17.7 56.2-38.4c18.8-20.8 37.5-53.1 56.3-90.2c18.7-37.2 37.4-76.3 56.2-103.7c18.7-27.3 37.5-43.9 56.2-54c18.7-10.1 37.5-14.5 56.2-17.3"/><path d="M67.4 357.8c18.7-.3 37.5-.8 56.2-2.1c18.7-1.4 37.5-3.4 56.2-8.9c18.8-5.4 37.5-14.2 56.2-32.7c18.8-18.6 37.5-48.7 56.3-86.5c18.7-37.7 37.4-80 56.2-110.1c18.7-30 37.5-48.4 56.2-59.4c18.7-11 37.5-15.5 56.2-18.5"/><path d="M67.4 352.8c18.7-2.4 37.5-5.9 56.2-13.5c18.7-7.6 37.5-19.5 56.2-39.8c18.8-20.3 37.5-50 56.2-83.6c18.8-33.6 37.5-69.1 56.3-95.8c18.7-26.7 37.4-44.7 56.2-56.2c18.7-11.6 37.5-17.4 56.2-21.2c18.7-3.7 37.5-5.4 56.2-6.5"/><path d="M67.4 353.9c18.7-1.8 37.5-4.5 56.2-9.8c18.7-5.4 37.5-13.5 56.2-27.8c18.8-14.3 37.5-35.5 56.2-63.2c18.8-27.7 37.5-61.6 56.3-91.8c18.7-30.2 37.4-55.6 56.2-73.3c18.7-17.7 37.5-28.3 56.2-35.3c18.7-7.1 37.5-10.6 56.2-13"/><path d="M67.4 350.7c18.7-3.4 37.5-8.6 56.2-19.8c18.7-11.1 37.5-28.8 56.2-56.2c18.8-27.4 37.5-64.9 56.2-100.1c18.8-35.2 37.5-65.7 56.3-85.9c18.7-20.2 37.4-31.4 56.2-38.4c18.7-7 37.5-10.1 56.2-12.1c18.7-2.1 37.5-2.9 56.2-3.4"/><path d="M67.4 356.5c18.7-.9 37.5-2.3 56.2-5.5c18.7-3.3 37.5-8.4 56.2-19.5c18.8-11 37.5-28.7 56.2-56.3c18.8-27.6 37.5-65.6 56.3-101.2c18.7-35.5 37.4-66.2 56.2-86.3c18.7-20.1 37.5-31.1 56.2-38c18.7-6.8 37.5-9.8 56.2-11.8"/><path d="M67.4 351c18.7-2.7 37.5-6.7 56.2-14.1c18.7-7.5 37.5-18.6 56.2-36.2c18.8-17.5 37.5-42.1 56.2-70.9c18.8-28.7 37.5-60.8 56.3-87.5c18.7-26.8 37.4-47.9 56.2-62.6c18.7-14.6 37.5-23.4 56.2-29.3c18.7-6 37.5-9.1 56.2-11.1"/><path d="M67.4 357.7c18.7-.4 37.5-1 56.2-2.5c18.7-1.5 37.5-3.8 56.2-9.3c18.8-5.6 37.5-14.6 56.2-32.4c18.8-17.8 37.5-46 56.3-81.5c18.7-35.6 37.4-76.1 56.2-106.5c18.7-30.3 37.5-50.3 56.2-62.6c18.7-12.3 37.5-17.9 56.2-21.5"/><path d="M67.4 355.9c18.7-1 37.5-2.7 56.2-6.4c18.7-3.7 37.5-9.4 56.2-21c18.8-11.5 37.5-29.6 56.2-56.6c18.8-27 37.5-63.1 56.3-97.1c18.7-33.9 37.4-63.6 56.2-83.8c18.7-20.1 37.5-31.7 56.2-39.1c18.7-7.4 37.5-10.8 56.2-13"/><path d="M67.4 350c18.7-2.9 37.5-7.2 56.2-15c18.7-7.7 37.5-19.1 56.2-36.5c18.8-17.4 37.5-41.4 56.2-69.2c18.8-27.7 37.5-58.4 56.3-84.5c18.7-26.1 37.4-47.1 56.2-62c18.7-14.9 37.5-24.2 56.2-30.5c18.7-6.3 37.5-9.7 56.2-12.1"/><path d="M67.4 354.7c18.7-1.4 37.5-3.4 56.2-7.4c18.7-4.1 37.5-10.1 56.2-20.8c18.8-10.8 37.5-26.6 56.2-49.3c18.8-22.7 37.5-52.5 56.3-82.7c18.7-30.2 37.4-59.6 56.2-81.9c18.7-22.3 37.5-37.7 56.2-48.1c18.7-10.5 37.5-16.3 56.2-20.2"/><path d="M67.4 350.2c18.7-3.4 37.5-8.5 56.2-18.8c18.7-10.3 37.5-26.3 56.2-50.8c18.8-24.5 37.5-58.2 56.2-91.7c18.8-33.6 37.5-65.2 56.3-87.4c18.7-22.3 37.4-36.1 56.2-44.9c18.7-8.9 37.5-13.2 56.2-16.1c18.7-2.8 37.5-4.1 56.2-4.9"/><path d="M67.4 355.9c18.7-1.4 37.5-3.5 56.2-9.8c18.7-6.3 37.5-17 56.2-40.2c18.8-23.2 37.5-62 56.2-104.8c18.8-42.7 37.5-83.9 56.3-109.2c18.7-25.2 37.4-37.3 56.2-44.4c18.7-7 37.5-9.5 56.2-11c18.7-1.6 37.5-2.1 56.2-2.4"/><path d="M67.4 355.4c18.7-1.2 37.5-3 56.2-6.9c18.7-3.9 37.5-9.8 56.2-21c18.8-11.1 37.5-28.1 56.2-53c18.8-24.8 37.5-57.8 56.3-90c18.7-32.3 37.4-62.1 56.2-83.5c18.7-21.3 37.5-34.8 56.2-43.6c18.7-8.9 37.5-13.3 56.2-16.3"/><path d="M67.4 355.9c18.7-1.1 37.5-2.7 56.2-6.3c18.7-3.6 37.5-9.2 56.2-20.2c18.8-11.1 37.5-28.2 56.2-54c18.8-25.8 37.5-60.5 56.3-94.1c18.7-33.5 37.4-64 56.2-85.1c18.7-21.1 37.5-33.7 56.2-41.9c18.7-8.1 37.5-12 56.2-14.5"/><path d="M67.4 356.5c18.7-.8 37.5-2 56.2-4.5c18.7-2.6 37.5-6.5 56.2-14.3c18.8-7.8 37.5-19.8 56.2-39.5c18.8-19.7 37.5-48 56.3-79.9c18.7-32 37.4-66.2 56.2-92.7c18.7-26.4 37.5-45.2 56.2-57.6c18.7-12.4 37.5-19 56.2-23.3"/><path d="M67.4 355.4c18.7-1.3 37.5-3.3 56.2-7.7c18.7-4.3 37.5-11.1 56.2-24.2c18.8-13.1 37.5-33.3 56.2-61.8c18.8-28.5 37.5-65 56.3-97.7c18.7-32.8 37.4-60.1 56.2-78.4c18.7-18.4 37.5-28.7 56.2-35.4c18.7-6.6 37.5-9.7 56.2-11.8"/><path d="M67.4 354c18.7-1.6 37.5-4 56.2-8.5c18.7-4.5 37.5-11.2 56.2-22.7c18.8-11.5 37.5-28.2 56.2-51.3c18.8-23 37.5-52.5 56.3-81.8c18.7-29.3 37.4-57.4 56.2-78.8c18.7-21.3 37.5-36.2 56.2-46.3c18.7-10.2 37.5-16 56.2-19.9"/><path d="M67.4 351.2c18.7-2.7 37.5-6.8 56.2-14.8c18.7-8 37.5-20.1 56.2-39.4c18.8-19.4 37.5-46.6 56.2-77.4c18.8-30.8 37.5-63.9 56.3-90.1c18.7-26.2 37.4-45.4 56.2-58.3c18.7-12.9 37.5-20.1 56.2-24.9c18.7-4.8 37.5-7.1 56.2-8.7"/><path d="M67.4 348.6c18.7-3.3 37.5-8.1 56.2-16.5c18.7-8.3 37.5-20.5 56.2-38.4c18.8-18 37.5-42.1 56.2-69.4c18.8-27.2 37.5-56.9 56.3-81.9c18.7-25.1 37.4-45.2 56.2-59.7c18.7-14.4 37.5-23.6 56.2-29.9c18.7-6.3 37.5-9.8 56.2-12.2"/><path d="M67.4 355.5c18.7-1.4 37.5-3.3 56.2-7.9c18.7-4.6 37.5-11.8 56.2-26c18.8-14.2 37.5-36.5 56.2-67.3c18.8-30.8 37.5-69.3 56.3-102.1c18.7-32.7 37.4-58.3 56.2-74.8c18.7-16.5 37.5-25.1 56.2-30.7c18.7-5.5 37.5-7.9 56.2-9.5"/><path d="M67.4 356.7c18.7-.8 37.5-2 56.2-5c18.7-3 37.5-7.6 56.2-18c18.8-10.5 37.5-27.3 56.2-54.5c18.8-27.2 37.5-65.5 56.3-101.8c18.7-36.4 37.4-68.2 56.2-88.9c18.7-20.7 37.5-31.9 56.2-38.9c18.7-6.9 37.5-9.9 56.2-11.8"/><path d="M67.4 354.4c18.7-1.7 37.5-4.2 56.2-9.8c18.7-5.6 37.5-14.2 56.2-30c18.8-15.9 37.5-39.9 56.2-70.9c18.8-31 37.5-67.9 56.3-98.5c18.7-30.6 37.4-54 56.2-69.4c18.7-15.3 37.5-23.6 56.2-29c18.7-5.3 37.5-7.7 56.2-9.4"/><path d="M67.4 352c18.7-2.4 37.5-6 56.2-12.9c18.7-6.9 37.5-17.3 56.2-34.3c18.8-17 37.5-41.2 56.2-70.3c18.8-29.1 37.5-62.1 56.3-89.8c18.7-27.8 37.4-49.7 56.2-64.8c18.7-15 37.5-24 56.2-29.9c18.7-5.9 37.5-9 56.2-11"/><path d="M67.4 355.5c18.7-1.2 37.5-3 56.2-6.8c18.7-3.8 37.5-9.6 56.2-20.8c18.8-11.1 37.5-28.1 56.2-53.1c18.8-25.1 37.5-58.4 56.3-90.9c18.7-32.5 37.4-62.6 56.2-83.9c18.7-21.3 37.5-34.6 56.2-43.3c18.7-8.7 37.5-13 56.2-15.9"/><path d="M67.4 353.6c18.7-1.8 37.5-4.6 56.2-10c18.7-5.4 37.5-13.5 56.2-27.7c18.8-14.1 37.5-34.8 56.2-61.8c18.8-27 37.5-60.1 56.3-89.9c18.7-29.8 37.4-55.3 56.2-73.3c18.7-18.1 37.5-29.2 56.2-36.6c18.7-7.5 37.5-11.3 56.2-13.9"/><path d="M67.4 357c18.7-.7 37.5-1.6 56.2-3.8c18.7-2.3 37.5-5.7 56.2-13c18.8-7.4 37.5-18.9 56.2-38.9c18.8-20.1 37.5-49.7 56.3-83.6c18.7-33.9 37.4-70.1 56.2-97.2c18.7-27 37.5-45.2 56.2-56.8c18.7-11.7 37.5-17.4 56.2-21.2"/><path d="M67.4 353.3c18.7-2.2 37.5-5.6 56.2-13.3c18.7-7.7 37.5-19.9 56.2-41.5c18.8-21.5 37.5-53.5 56.2-89c18.8-35.6 37.5-72 56.3-98.1c18.7-26.1 37.4-42.4 56.2-52.7c18.7-10.2 37.5-15 56.2-18.1c18.7-3 37.5-4.3 56.2-5.2"/><path d="M67.4 355.1c18.7-1.7 37.5-4.3 56.2-11.3c18.7-6.9 37.5-18.4 56.2-41.3c18.8-23 37.5-59.5 56.2-99.6c18.8-40.1 37.5-79.6 56.3-105.1c18.7-25.5 37.4-39 56.2-47.1c18.7-8 37.5-11.1 56.2-13.1c18.7-2 37.5-2.7 56.2-3.2"/><path d="M67.4 352.7c18.7-3 37.5-7.6 56.2-19.8c18.7-12.1 37.5-33.2 56.2-67.4c18.8-34.2 37.5-81.2 56.2-119.2c18.8-37.9 37.5-64.4 56.3-79.7c18.7-15.3 37.4-21.6 56.2-25.4c18.7-3.9 37.5-5.2 56.2-6c18.7-.9 37.5-1.2 56.2-1.3"/><path d="M67.4 350.7c18.7-2.5 37.5-6.1 56.2-12.3c18.7-6.2 37.5-15 56.2-28.5c18.8-13.5 37.5-32 56.2-55.1c18.8-23.1 37.5-50.6 56.3-76.8c18.7-26.3 37.4-50.6 56.2-69.5c18.7-18.8 37.5-32.5 56.2-42.1c18.7-9.7 37.5-15.6 56.2-19.7"/><path d="M67.4 352.3c18.7-2.2 37.5-5.5 56.2-11.6c18.7-6.2 37.5-15.3 56.2-30.3c18.8-15 37.5-36.4 56.2-63.2c18.8-26.8 37.5-58.5 56.3-86.8c18.7-28.3 37.4-52.4 56.2-69.7c18.7-17.2 37.5-28.2 56.2-35.6c18.7-7.3 37.5-11.3 56.2-14"/><path d="M67.4 341.7c18.7-5.5 37.5-13.6 56.2-26.7c18.7-13.1 37.5-31.7 56.2-55.7c18.8-24 37.5-53.3 56.2-81.3c18.8-27.9 37.5-53.6 56.3-73.1c18.7-19.4 37.4-32.8 56.2-42.1c18.7-9.3 37.5-14.7 56.2-18.3c18.7-3.7 37.5-5.7 56.2-7.1"/><path d="M67.4 354.3c18.7-1.4 37.5-3.6 56.2-7.8c18.7-4.2 37.5-10.5 56.2-21.3c18.8-10.9 37.5-26.7 56.2-49c18.8-22.3 37.5-51.3 56.3-80.8c18.7-29.5 37.4-58.4 56.2-80.5c18.7-22.2 37.5-37.8 56.2-48.5c18.7-10.8 37.5-16.9 56.2-21"/><path d="M67.4 357.9c18.7-.3 37.5-.7 56.2-2c18.7-1.2 37.5-3.1 56.2-8.2c18.8-5.1 37.5-13.5 56.2-31.5c18.8-18.1 37.5-47.9 56.3-85.9c18.7-38 37.4-81.3 56.2-112c18.7-30.7 37.5-49.3 56.2-60.4c18.7-11.1 37.5-15.6 56.2-18.4"/><path d="M67.4 358.3c18.7-.1 37.5-.2 56.2-.8c18.7-.7 37.5-1.5 56.2-4.9c18.8-3.4 37.5-8.9 56.2-25.3c18.8-16.4 37.5-47.3 56.3-91.8c18.7-44.6 37.4-97 56.2-129.7c18.7-32.8 37.5-48.3 56.2-56.9c18.7-8.5 37.5-11 56.2-12.6"/><path d="M67.4 358.2c18.7-.1 37.5-.4 56.2-1c18.7-.6 37.5-1.6 56.2-4.3c18.8-2.7 37.5-6.9 56.2-17.3c18.8-10.4 37.5-28 56.3-57.7c18.7-29.7 37.4-72.3 56.2-110.8c18.7-38.6 37.5-69.7 56.2-88.7c18.7-18.9 37.5-27.9 56.2-33.3"/><path d="M67.4 356.6c18.7-.9 37.5-2.1 56.2-5.1c18.7-3 37.5-7.6 56.2-17.3c18.8-9.7 37.5-25 56.2-49.8c18.8-24.7 37.5-59.6 56.3-94.7c18.7-35.1 37.4-67.9 56.2-90.6c18.7-22.6 37.5-36.1 56.2-44.6c18.7-8.5 37.5-12.4 56.2-15"/><path d="M67.4 357.5c18.7-.5 37.5-1.3 56.2-3.3c18.7-2.1 37.5-5.3 56.2-13.3c18.8-8 37.5-21.2 56.2-45.7c18.8-24.6 37.5-62.1 56.3-101.2c18.7-39.1 37.4-75.9 56.2-99.7c18.7-23.7 37.5-36.4 56.2-44c18.7-7.7 37.5-10.7 56.2-12.7"/><path d="M67.4 357.7c18.7-.4 37.5-1.1 56.2-2.8c18.7-1.8 37.5-4.5 56.2-11.7c18.8-7.1 37.5-19 56.2-42.4c18.8-23.4 37.5-60.3 56.3-100.3c18.7-40 37.4-78.8 56.2-103.8c18.7-25.1 37.5-38.3 56.2-46.2c18.7-8 37.5-11 56.2-13"/><path d="M67.4 355c18.7-1.5 37.5-3.7 56.2-8.7c18.7-4.9 37.5-12.6 56.2-27.3c18.8-14.6 37.5-37.2 56.2-67.5c18.8-30.3 37.5-67.7 56.3-99.5c18.7-31.8 37.4-56.9 56.2-73.3c18.7-16.4 37.5-25.3 56.2-31.1c18.7-5.7 37.5-8.3 56.2-10"/><path d="M67.4 356.6c18.7-.8 37.5-2.1 56.2-5.3c18.7-3.2 37.5-8.1 56.2-19c18.8-10.8 37.5-28.3 56.2-56c18.8-27.7 37.5-66.2 56.3-102.2c18.7-36 37.4-66.9 56.2-87.1c18.7-20.2 37.5-31 56.2-37.8c18.7-6.7 37.5-9.6 56.2-11.5"/><path d="M67.4 349.1c18.7-4 37.5-10.1 56.2-22.5c18.7-12.4 37.5-31.9 56.2-60.3c18.8-28.5 37.5-65.9 56.2-99.7c18.8-33.9 37.5-62.3 56.3-81.1c18.7-18.8 37.4-29.2 56.2-35.9c18.7-6.6 37.5-9.5 56.2-11.5c18.7-2 37.5-2.8 56.2-3.3"/><path d="M67.4 357.7c18.7-.3 37.5-.9 56.2-2.3c18.7-1.4 37.5-3.5 56.2-8.9c18.8-5.3 37.5-13.9 56.2-31.3c18.8-17.4 37.5-45.3 56.3-80.8c18.7-35.6 37.4-76.8 56.2-107.6c18.7-30.8 37.5-51.2 56.2-63.7c18.7-12.5 37.5-18.1 56.2-21.7"/><path d="M67.4 358.2c18.7-.1 37.5-.3 56.2-.9c18.7-.5 37.5-1.4 56.2-4c18.8-2.7 37.5-6.8 56.2-17.5c18.8-10.6 37.5-28.9 56.3-60.2c18.7-31.3 37.4-76.3 56.2-115.4c18.7-39.2 37.5-69.1 56.2-86.8c18.7-17.8 37.5-25.5 56.2-30.3"/><path d="M67.4 348c18.7-3.2 37.5-7.7 56.2-15.1c18.7-7.4 37.5-17.7 56.2-32.7c18.8-14.9 37.5-34.8 56.2-58.2c18.8-23.4 37.5-50 56.3-74.7c18.7-24.6 37.4-46.8 56.2-63.9c18.7-17.2 37.5-29.6 56.2-38.5c18.7-8.9 37.5-14.4 56.2-18.3"/><path d="M67.4 353.8c18.7-1.7 37.5-4.4 56.2-9.5c18.7-5.2 37.5-13 56.2-26.6c18.8-13.6 37.5-33.6 56.2-60.1c18.8-26.5 37.5-59.3 56.3-89.3c18.7-30.1 37.4-56.3 56.2-74.9c18.7-18.6 37.5-30.3 56.2-38c18.7-7.8 37.5-11.9 56.2-14.6"/><path d="M67.4 352.3c18.7-3 37.5-7.6 56.2-18.6c18.7-10.9 37.5-29.2 56.2-59.1c18.8-29.8 37.5-71.8 56.2-109.4c18.8-37.5 37.5-67.8 56.3-86.5c18.7-18.7 37.4-27.7 56.2-33.2c18.7-5.5 37.5-7.7 56.2-9.1c18.7-1.4 37.5-1.9 56.2-2.2"/><path d="M67.4 352.3c18.7-2.4 37.5-6 56.2-13.4c18.7-7.3 37.5-18.6 56.2-37.3c18.8-18.8 37.5-45.8 56.2-77.3c18.8-31.4 37.5-65.9 56.3-93.1c18.7-27.3 37.4-47.2 56.2-60.4c18.7-13.2 37.5-20.3 56.2-25c18.7-4.7 37.5-7 56.2-8.5"/><path d="M67.4 354.5c18.7-1.8 37.5-4.6 56.2-11.2c18.7-6.6 37.5-17.1 56.2-37.1c18.8-19.9 37.5-50.8 56.2-87c18.8-36.2 37.5-75.2 56.3-103.2c18.7-28 37.4-45.6 56.2-56.5c18.7-10.9 37.5-15.8 56.2-18.9c18.7-3.2 37.5-4.4 56.2-5.3"/><path d="M67.4 353.5c18.7-1.8 37.5-4.6 56.2-9.9c18.7-5.3 37.5-13.3 56.2-26.9c18.8-13.6 37.5-33.5 56.2-59.6c18.8-26 37.5-58.2 56.3-87.7c18.7-29.6 37.4-55.6 56.2-74.3c18.7-18.7 37.5-30.6 56.2-38.6c18.7-8 37.5-12.3 56.2-15.1"/><path d="M67.4 355.6c18.7-1.4 37.5-3.5 56.2-9.1c18.7-5.6 37.5-14.8 56.2-33.9c18.8-19.1 37.5-50.3 56.2-88.5c18.8-38.2 37.5-80.3 56.3-109.7c18.7-29.5 37.4-47.1 56.2-57.6c18.7-10.5 37.5-14.8 56.2-17.5c18.7-2.8 37.5-3.8 56.2-4.4"/><path d="M67.4 356.1c18.7-.9 37.5-2.3 56.2-5.3c18.7-2.9 37.5-7.5 56.2-16.3c18.8-8.9 37.5-22.4 56.2-43.7c18.8-21.4 37.5-51.2 56.3-83.4c18.7-32.2 37.4-65.1 56.2-89.9c18.7-24.8 37.5-41.8 56.2-53c18.7-11.1 37.5-17 56.2-20.9"/><path d="M67.4 357.8c18.7-.4 37.5-.9 56.2-2.2c18.7-1.3 37.5-3.3 56.2-8.1c18.8-4.8 37.5-12.5 56.2-28.1c18.8-15.5 37.5-40.4 56.3-73.9c18.7-33.4 37.4-74.1 56.2-106.4c18.7-32.3 37.5-55.5 56.2-69.9c18.7-14.4 37.5-21.4 56.2-25.7"/><path d="M67.4 356.2c18.7-1 37.5-2.4 56.2-5.6c18.7-3.1 37.5-7.9 56.2-17.6c18.8-9.6 37.5-24.5 56.2-47.8c18.8-23.4 37.5-55.8 56.3-89.1c18.7-33.4 37.4-65.8 56.2-89.2c18.7-23.3 37.5-38.3 56.2-47.9c18.7-9.7 37.5-14.5 56.2-17.6"/><path d="M67.4 350c18.7-3.1 37.5-7.8 56.2-16.7c18.7-9 37.5-22.3 56.2-42.9c18.8-20.6 37.5-49 56.2-79.8c18.8-30.8 37.5-62.8 56.3-87.6c18.7-24.8 37.4-42.6 56.2-54.5c18.7-11.9 37.5-18.6 56.2-23c18.7-4.4 37.5-6.6 56.2-8.1"/><path d="M67.4 355c18.7-1.3 37.5-3.4 56.2-7.6c18.7-4.3 37.5-10.9 56.2-23c18.8-12.2 37.5-30.6 56.2-56.7c18.8-26 37.5-59.8 56.3-91.6c18.7-31.9 37.4-60.4 56.2-80.4c18.7-20 37.5-32.4 56.2-40.5c18.7-8 37.5-12.1 56.2-14.8"/><path d="M67.4 357.1c18.7-.6 37.5-1.5 56.2-3.9c18.7-2.3 37.5-6 56.2-14.3c18.8-8.4 37.5-22 56.2-45.7c18.8-23.7 37.5-58.8 56.3-95.7c18.7-36.9 37.4-72.5 56.2-96.8c18.7-24.2 37.5-38.2 56.2-46.9c18.7-8.6 37.5-12.4 56.2-14.8"/><path d="M67.4 356.1c18.7-1.1 37.5-2.7 56.2-6.7c18.7-4 37.5-10.3 56.2-23.5c18.8-13.3 37.5-34.5 56.2-65.3c18.8-30.9 37.5-70.9 56.3-105.2c18.7-34.3 37.4-61.2 56.2-78.2c18.7-17 37.5-25.7 56.2-31.1c18.7-5.5 37.5-7.8 56.2-9.3"/><path d="M67.4 355.2c18.7-1.7 37.5-4.3 56.2-11.5c18.7-7.2 37.5-19.2 56.2-43.5c18.8-24.2 37.5-63.1 56.2-104.3c18.8-41.2 37.5-80 56.3-104.2c18.7-24.2 37.4-36.3 56.2-43.4c18.7-7.2 37.5-9.8 56.2-11.5c18.7-1.6 37.5-2.2 56.2-2.6"/><path d="M67.4 354c18.7-1.7 37.5-4 56.2-8.5c18.7-4.6 37.5-11.2 56.2-22.7c18.8-11.4 37.5-28.1 56.2-51c18.8-22.9 37.5-52.3 56.3-81.5c18.7-29.3 37.4-57.4 56.2-78.8c18.7-21.4 37.5-36.3 56.2-46.6c18.7-10.2 37.5-16.1 56.2-20"/><path d="M67.4 356.3c18.7-1 37.5-2.4 56.2-5.8c18.7-3.4 37.5-8.6 56.2-19.5c18.8-10.9 37.5-28.1 56.2-54.8c18.8-26.6 37.5-63.1 56.3-97.9c18.7-34.8 37.4-65.7 56.2-86.4c18.7-20.8 37.5-32.6 56.2-40.1c18.7-7.5 37.5-10.9 56.2-13.1"/><path d="M67.4 355c18.7-1.3 37.5-3.4 56.2-7.6c18.7-4.2 37.5-10.7 56.2-22.5c18.8-11.9 37.5-29.8 56.2-55.3c18.8-25.4 37.5-58.5 56.3-90.2c18.7-31.7 37.4-60.5 56.2-81c18.7-20.4 37.5-33.3 56.2-41.8c18.7-8.4 37.5-12.8 56.2-15.6"/><path d="M67.4 357.4c18.7-.5 37.5-1.3 56.2-3.4c18.7-2.1 37.5-5.3 56.2-13.1c18.8-7.9 37.5-20.6 56.2-44.1c18.8-23.4 37.5-59.1 56.3-97.2c18.7-38 37.4-75.1 56.2-99.8c18.7-24.8 37.5-38.6 56.2-47.1c18.7-8.5 37.5-12 56.2-14.3"/><path d="M67.4 354.7c18.7-1.7 37.5-4.3 56.2-10.4c18.7-6 37.5-15.6 56.2-34c18.8-18.3 37.5-46.8 56.2-81.6c18.8-34.9 37.5-74 56.3-103.5c18.7-29.4 37.4-49.1 56.2-61.4c18.7-12.3 37.5-18.1 56.2-21.8c18.7-3.7 37.5-5.2 56.2-6.2"/><path d="M67.4 350.5c18.7-3.1 37.5-7.7 56.2-16.4c18.7-8.8 37.5-22 56.2-42.7c18.8-20.6 37.5-49.3 56.2-80.6c18.8-31.2 37.5-63.6 56.3-88.6c18.7-25.1 37.4-42.8 56.2-54.6c18.7-11.9 37.5-18.3 56.2-22.6c18.7-4.3 37.5-6.4 56.2-7.8"/><path d="M67.4 357.3c18.7-.5 37.5-1.4 56.2-3.7c18.7-2.3 37.5-5.9 56.2-14.8c18.8-8.9 37.5-23.6 56.2-49.9c18.8-26.3 37.5-65.6 56.3-104.5c18.7-38.8 37.4-73.6 56.2-95.6c18.7-22.1 37.5-33.4 56.2-40.3c18.7-6.9 37.5-9.6 56.2-11.3"/><path d="M67.4 353.2c18.7-2.1 37.5-5.2 56.2-11.4c18.7-6.3 37.5-15.8 56.2-32.1c18.8-16.4 37.5-40.3 56.2-70c18.8-29.6 37.5-64.1 56.3-93.2c18.7-29 37.4-51.8 56.2-67.3c18.7-15.4 37.5-24.3 56.2-30.1c18.7-5.9 37.5-8.7 56.2-10.7"/><path d="M67.4 354c18.7-2.4 37.5-6.1 56.2-16.5c18.7-10.4 37.5-28.7 56.2-61.3c18.8-32.6 37.5-80.4 56.2-120.8c18.8-40.3 37.5-69.7 56.3-86.5c18.7-16.7 37.4-23.4 56.2-27.5c18.7-4.1 37.5-5.4 56.2-6.3c18.7-.8 37.5-1.1 56.2-1.3"/><path d="M67.4 350.3c18.7-2.7 37.5-6.5 56.2-13c18.7-6.6 37.5-16 56.2-30.3c18.8-14.3 37.5-33.9 56.2-57.8c18.8-24 37.5-52.1 56.3-78.3c18.7-26.2 37.4-49.9 56.2-68c18.7-18 37.5-30.7 56.2-39.6c18.7-9 37.5-14.3 56.2-18.1"/><path d="M67.4 357c18.7-.6 37.5-1.5 56.2-3.7c18.7-2.1 37.5-5.4 56.2-12.4c18.8-7 37.5-17.9 56.2-36.9c18.8-19.1 37.5-47.4 56.3-80.5c18.7-33.2 37.4-69.4 56.2-97.3c18.7-27.8 37.5-47.2 56.2-59.6c18.7-12.5 37.5-18.9 56.2-23"/><path d="M67.4 357.3c18.7-.5 37.5-1.3 56.2-3.2c18.7-1.9 37.5-4.8 56.2-11.5c18.8-6.7 37.5-17.4 56.2-36.9c18.8-19.6 37.5-49.4 56.3-84.5c18.7-35.1 37.4-73.1 56.2-101.2c18.7-28 37.5-46.4 56.2-58c18.7-11.5 37.5-16.9 56.2-20.4"/><path d="M67.4 356.6c18.7-.9 37.5-2.3 56.2-5.7c18.7-3.4 37.5-8.8 56.2-20.7c18.8-11.9 37.5-31.4 56.2-61.4c18.8-29.9 37.5-70.5 56.3-106.4c18.7-35.9 37.4-64.8 56.2-83c18.7-18.2 37.5-27.3 56.2-33c18.7-5.7 37.5-8.1 56.2-9.6"/><path d="M67.4 351.7c18.7-2.4 37.5-6.1 56.2-12.9c18.7-6.9 37.5-17.1 56.2-33.6c18.8-16.5 37.5-39.9 56.2-68.1c18.8-28.1 37.5-60.3 56.3-87.9c18.7-27.6 37.4-50 56.2-65.6c18.7-15.7 37.5-25.3 56.2-31.7c18.7-6.4 37.5-9.8 56.2-12.1"/><path d="M67.4 357.4c18.7-.4 37.5-1 56.2-2.3c18.7-1.4 37.5-3.4 56.2-7.5c18.8-4.1 37.5-10.3 56.2-21.8c18.8-11.6 37.5-28.9 56.3-53.7c18.7-24.8 37.4-57.3 56.2-88.9c18.7-31.6 37.5-60.8 56.2-81.8c18.7-21 37.5-34.5 56.2-43.3"/><path d="M67.4 358.3c18.7-.1 37.5-.3 56.2-.8c18.7-.6 37.5-1.4 56.2-4c18.8-2.6 37.5-6.8 56.2-18c18.8-11.3 37.5-31 56.3-64.7c18.7-33.7 37.4-81.6 56.2-121c18.7-39.3 37.5-67 56.2-82.8c18.7-15.8 37.5-22.1 56.2-26"/><path d="M67.4 355.8c18.7-1.1 37.5-2.7 56.2-6.3c18.7-3.6 37.5-9 56.2-19.7c18.8-10.7 37.5-27.2 56.2-51.9c18.8-24.7 37.5-58.2 56.3-91.2c18.7-33.1 37.4-63.9 56.2-85.7c18.7-21.9 37.5-35.5 56.2-44.3c18.7-8.8 37.5-13.1 56.2-16"/><path d="M67.4 351.9c18.7-2.8 37.5-7 56.2-16c18.7-9 37.5-23.2 56.2-46.4c18.8-23.2 37.5-56.3 56.2-91c18.8-34.7 37.5-68.6 56.3-92.7c18.7-24 37.4-38.9 56.2-48.4c18.7-9.4 37.5-13.9 56.2-16.9c18.7-2.9 37.5-4.2 56.2-5"/><path d="M67.4 358.3c18.7-.1 37.5-.3 56.2-.7c18.7-.4 37.5-1.1 56.2-3c18.8-1.8 37.5-4.8 56.2-12.4c18.8-7.6 37.5-20.3 56.3-44.7c18.7-24.4 37.4-62.6 56.2-102.6c18.7-40.1 37.5-77.7 56.2-101.7c18.7-24.1 37.5-36.4 56.2-43.9"/><path d="M67.4 356.1c18.7-1 37.5-2.3 56.2-5.1c18.7-2.8 37.5-6.9 56.2-14.8c18.8-7.9 37.5-19.7 56.2-38.5c18.8-18.7 37.5-45 56.3-75c18.7-30.1 37.4-62.7 56.2-89c18.7-26.3 37.5-46.1 56.2-59.6c18.7-13.5 37.5-21.2 56.2-26.4"/><path d="M67.4 356.3c18.7-.9 37.5-2.2 56.2-5.1c18.7-2.8 37.5-7.1 56.2-15.6c18.8-8.4 37.5-21.4 56.2-42.1c18.8-20.8 37.5-50 56.3-82.1c18.7-32.1 37.4-65.4 56.2-90.8c18.7-25.4 37.5-43.1 56.2-54.7c18.7-11.6 37.5-17.8 56.2-21.9"/><path d="M67.4 356.4c18.7-1.1 37.5-2.8 56.2-7.7c18.7-4.9 37.5-13 56.2-31.7c18.8-18.7 37.5-50.6 56.2-91.2c18.8-40.6 37.5-85.7 56.3-115.9c18.7-30.2 37.4-46.8 56.2-56.5c18.7-9.7 37.5-13.2 56.2-15.5c18.7-2.2 37.5-3 56.2-3.4"/><path d="M67.4 358.3c18.7-.1 37.5-.2 56.2-.7c18.7-.5 37.5-1.3 56.2-4c18.8-2.7 37.5-7 56.2-20.1c18.8-13.1 37.5-37.2 56.3-76.9c18.7-39.6 37.4-92.6 56.2-130.2c18.7-37.6 37.5-59.1 56.2-70.8c18.7-11.6 37.5-15.4 56.2-17.8"/><path d="M67.4 352.9c18.7-2.3 37.5-5.6 56.2-12.5c18.7-6.8 37.5-17.3 56.2-35.1c18.8-17.8 37.5-43.9 56.2-75c18.8-31.1 37.5-66 56.3-94.2c18.7-28.1 37.4-49.1 56.2-63c18.7-14 37.5-21.6 56.2-26.6c18.7-5 37.5-7.4 56.2-9"/><path d="M67.4 357.3c18.7-.6 37.5-1.4 56.2-3.7c18.7-2.2 37.5-5.7 56.2-14c18.8-8.4 37.5-22 56.2-46.4c18.8-24.4 37.5-61 56.3-99c18.7-38 37.4-73.9 56.2-97.7c18.7-23.7 37.5-36.8 56.2-44.8c18.7-8.1 37.5-11.4 56.2-13.5"/><path d="M67.4 354.2c18.7-2 37.5-5.1 56.2-12.8c18.7-7.8 37.5-20.5 56.2-44.1c18.8-23.7 37.5-60 56.2-98.6c18.8-38.7 37.5-76 56.3-100.7c18.7-24.6 37.4-38.1 56.2-46.3c18.7-8.2 37.5-11.5 56.2-13.6c18.7-2.2 37.5-3 56.2-3.5"/><path d="M67.4 354.4c18.7-1.6 37.5-3.9 56.2-8.6c18.7-4.7 37.5-11.9 56.2-24.7c18.8-12.8 37.5-31.9 56.2-57.9c18.8-26.1 37.5-59.1 56.3-89.9c18.7-30.9 37.4-58.2 56.2-77.7c18.7-19.4 37.5-31.6 56.2-39.7c18.7-8.1 37.5-12.2 56.2-15"/><path d="M67.4 353.3c18.7-2.2 37.5-5.5 56.2-12.5c18.7-7 37.5-17.9 56.2-37c18.8-19.2 37.5-47.5 56.2-80.7c18.8-33.1 37.5-69.4 56.3-97.1c18.7-27.8 37.4-47.1 56.2-59.5c18.7-12.5 37.5-18.8 56.2-22.9c18.7-4.1 37.5-6 56.2-7.2"/><path d="M67.4 356.8c18.7-.7 37.5-1.8 56.2-4.4c18.7-2.6 37.5-6.6 56.2-15.3c18.8-8.7 37.5-22.5 56.2-45.7c18.8-23.1 37.5-56.7 56.3-92.1c18.7-35.3 37.4-70 56.2-94.2c18.7-24.3 37.5-39.2 56.2-48.5c18.7-9.3 37.5-13.7 56.2-16.5"/><path d="M67.4 356.1c18.7-1.2 37.5-3.1 56.2-8.4c18.7-5.4 37.5-14.2 56.2-34c18.8-19.7 37.5-52.8 56.2-93.5c18.8-40.6 37.5-84.4 56.3-113.4c18.7-29 37.4-44.8 56.2-54.1c18.7-9.2 37.5-12.7 56.2-14.9c18.7-2.1 37.5-2.9 56.2-3.4"/><path d="M67.4 355.6c18.7-1.1 37.5-2.8 56.2-6.6c18.7-3.7 37.5-9.5 56.2-20.6c18.8-11.1 37.5-28.1 56.2-53.3c18.8-25.3 37.5-59 56.3-91.9c18.7-32.8 37.4-63 56.2-84.3c18.7-21.2 37.5-34.4 56.2-42.9c18.7-8.5 37.5-12.7 56.2-15.5"/><path d="M67.4 355.7c18.7-1.2 37.5-3 56.2-7.1c18.7-4.1 37.5-10.5 56.2-23.3c18.8-12.7 37.5-32.8 56.2-61.5c18.8-28.8 37.5-66.3 56.3-99.8c18.7-33.5 37.4-61.3 56.2-79.7c18.7-18.4 37.5-28.5 56.2-35c18.7-6.4 37.5-9.4 56.2-11.3"/><path d="M67.4 355.3c18.7-1.6 37.5-4 56.2-10.4c18.7-6.5 37.5-17.1 56.2-38.7c18.8-21.6 37.5-56.4 56.2-96.1c18.8-39.8 37.5-80.4 56.3-107.2c18.7-26.9 37.4-41.7 56.2-50.5c18.7-8.7 37.5-12.2 56.2-14.4c18.7-2.2 37.5-2.9 56.2-3.5"/><path d="M67.4 358c18.7-.3 37.5-.7 56.2-1.9c18.7-1.2 37.5-3.1 56.2-8.6c18.8-5.5 37.5-14.7 56.2-35.2c18.8-20.5 37.5-55.1 56.3-96.6c18.7-41.5 37.4-85 56.2-113.2c18.7-28.1 37.5-42.9 56.2-51.5c18.7-8.6 37.5-11.6 56.2-13.6"/><path d="M67.4 357.3c18.7-.5 37.5-1.3 56.2-3.3c18.7-2 37.5-5.2 56.2-12.5c18.8-7.4 37.5-19.2 56.2-40.9c18.8-21.6 37.5-54.6 56.3-91.3c18.7-36.8 37.4-74.4 56.2-100.7c18.7-26.3 37.5-42.2 56.2-52c18.7-9.7 37.5-14.1 56.2-16.9"/><path d="M67.4 356.2c18.7-.9 37.5-2.3 56.2-5.4c18.7-3.1 37.5-7.8 56.2-17.3c18.8-9.5 37.5-24.2 56.2-47.3c18.8-23.1 37.5-55.4 56.3-88.9c18.7-33.4 37.4-66.1 56.2-89.6c18.7-23.6 37.5-38.7 56.2-48.5c18.7-9.7 37.5-14.6 56.2-17.8"/><path d="M67.4 355.2c18.7-1.5 37.5-3.7 56.2-9.2c18.7-5.5 37.5-14.3 56.2-31.6c18.8-17.4 37.5-44.9 56.2-79.8c18.8-34.9 37.5-75.3 56.3-106c18.7-30.6 37.4-51.3 56.2-64.1c18.7-12.8 37.5-18.7 56.2-22.5c18.7-3.8 37.5-5.3 56.2-6.3"/><path d="M67.4 356.9c18.7-.7 37.5-1.7 56.2-4.1c18.7-2.4 37.5-6.1 56.2-14c18.8-8 37.5-20.6 56.2-42.1c18.8-21.6 37.5-53.2 56.3-87.9c18.7-34.7 37.4-70.3 56.2-96.1c18.7-25.7 37.5-42.3 56.2-52.7c18.7-10.5 37.5-15.5 56.2-18.8"/><path d="M67.4 351.6c18.7-2.8 37.5-7.2 56.2-16.3c18.7-9.1 37.5-23.3 56.2-46.4c18.8-23.1 37.5-55.9 56.2-90.1c18.8-34.3 37.5-67.9 56.3-91.9c18.7-24 37.4-39.1 56.2-48.7c18.7-9.6 37.5-14.3 56.2-17.3c18.7-3.1 37.5-4.4 56.2-5.3"/><path d="M67.4 354.3c18.7-1.5 37.5-3.7 56.2-8c18.7-4.3 37.5-10.6 56.2-21.8c18.8-11.2 37.5-27.5 56.2-50.4c18.8-22.9 37.5-52.5 56.3-82.3c18.7-29.7 37.4-58.4 56.2-80.2c18.7-21.7 37.5-36.8 56.2-47.1c18.7-10.3 37.5-16.1 56.2-20"/><path d="M67.4 356.4c18.7-.9 37.5-2.1 56.2-4.9c18.7-2.8 37.5-7 56.2-15.5c18.8-8.5 37.5-21.6 56.2-42.8c18.8-21.2 37.5-51.2 56.3-84c18.7-32.7 37.4-66.4 56.2-91.7c18.7-25.3 37.5-42.4 56.2-53.6c18.7-11.2 37.5-17 56.2-20.8"/><path d="M67.4 354.9c18.7-1.7 37.5-4.4 56.2-11.8c18.7-7.3 37.5-19.6 56.2-43.9c18.8-24.3 37.5-62.7 56.2-103.4c18.8-40.7 37.5-79.1 56.3-103.3c18.7-24.2 37.4-36.4 56.2-43.7c18.7-7.3 37.5-10 56.2-11.8c18.7-1.7 37.5-2.3 56.2-2.7"/><path d="M67.4 350.2c18.7-2.9 37.5-7.1 56.2-14.9c18.7-7.8 37.5-19.3 56.2-37c18.8-17.7 37.5-42.1 56.2-70.3c18.8-28.2 37.5-59.3 56.3-85.4c18.7-26.2 37.4-47 56.2-61.6c18.7-14.6 37.5-23.6 56.2-29.7c18.7-6.1 37.5-9.3 56.2-11.5"/><path d="M67.4 358c18.7-.2 37.5-.5 56.2-1.5c18.7-1 37.5-2.5 56.2-6.5c18.8-4 37.5-10.4 56.2-24.8c18.8-14.5 37.5-38.7 56.3-73.4c18.7-34.7 37.4-78.7 56.2-113.2c18.7-34.4 37.5-58.2 56.2-72.4c18.7-14.3 37.5-20.5 56.2-24.4"/><path d="M67.4 352.1c18.7-2.2 37.5-5.4 56.2-11.2c18.7-5.8 37.5-14.3 56.2-28.1c18.8-13.7 37.5-33.1 56.2-57.7c18.8-24.7 37.5-54.5 56.3-82.3c18.7-27.8 37.4-53 56.2-71.7c18.7-18.7 37.5-31.5 56.2-40.2c18.7-8.8 37.5-13.8 56.2-17.3"/><path d="M67.4 353.3c18.7-2.1 37.5-5.3 56.2-11.9c18.7-6.6 37.5-16.7 56.2-34.5c18.8-17.7 37.5-43.8 56.2-75.4c18.8-31.6 37.5-67.3 56.3-95.9c18.7-28.6 37.4-49.6 56.2-63.5c18.7-13.9 37.5-21.4 56.2-26.2c18.7-4.9 37.5-7.2 56.2-8.7"/><path d="M67.4 350.3c18.7-3 37.5-7.4 56.2-15.6c18.7-8.2 37.5-20.5 56.2-39.4c18.8-18.9 37.5-45.1 56.2-74.6c18.8-29.5 37.5-61.3 56.3-87c18.7-25.8 37.4-45.4 56.2-58.8c18.7-13.4 37.5-21.3 56.2-26.6c18.7-5.2 37.5-7.9 56.2-9.8"/><path d="M67.4 354.6c18.7-1.7 37.5-4.3 56.2-10c18.7-5.7 37.5-14.7 56.2-31.6c18.8-16.8 37.5-42.7 56.2-75.4c18.8-32.6 37.5-70.8 56.3-101c18.7-30.3 37.4-52.3 56.2-66.3c18.7-14.1 37.5-21.2 56.2-25.8c18.7-4.6 37.5-6.6 56.2-7.9"/><path d="M67.4 352.2c18.7-3.3 37.5-8.7 56.2-23c18.7-14.3 37.5-39.8 56.2-78.4c18.8-38.7 37.5-88.2 56.2-124c18.8-35.7 37.5-57.1 56.3-69.1c18.7-12 37.4-16.3 56.2-19.1c18.7-2.7 37.5-3.5 56.2-4.1c18.7-.5 37.5-.7 56.2-.8"/><path d="M67.4 347.9c18.7-3.8 37.5-9.6 56.2-19.9c18.7-10.4 37.5-25.8 56.2-48.1c18.8-22.3 37.5-51.9 56.2-82.3c18.8-30.4 37.5-60.4 56.3-83.1c18.7-22.8 37.4-38.6 56.2-49.3c18.7-10.7 37.5-16.7 56.2-20.7c18.7-4 37.5-6 56.2-7.3"/><path d="M67.4 353.2c18.7-2 37.5-5 56.2-11c18.7-6.1 37.5-15.3 56.2-31c18.8-15.8 37.5-38.9 56.2-67.8c18.8-29 37.5-63.1 56.3-92.4c18.7-29.2 37.4-52.7 56.2-68.8c18.7-16.2 37.5-25.6 56.2-31.8c18.7-6.3 37.5-9.4 56.2-11.5"/><path d="M67.4 354.1c18.7-1.9 37.5-4.9 56.2-11.9c18.7-7 37.5-18.2 56.2-38.8c18.8-20.6 37.5-52.1 56.2-88.2c18.8-36 37.5-74.1 56.3-101.3c18.7-27.3 37.4-44.3 56.2-54.9c18.7-10.6 37.5-15.4 56.2-18.5c18.7-3.1 37.5-4.3 56.2-5.2"/><path d="M67.4 356.1c18.7-1 37.5-2.5 56.2-5.7c18.7-3.2 37.5-8.1 56.2-17.8c18.8-9.6 37.5-24.5 56.2-47.6c18.8-23.1 37.5-55 56.3-88c18.7-33 37.4-65.2 56.2-88.6c18.7-23.4 37.5-38.6 56.2-48.4c18.7-9.9 37.5-14.9 56.2-18.2"/><path d="M67.4 356.1c18.7-1 37.5-2.4 56.2-5.5c18.7-3 37.5-7.6 56.2-16.5c18.8-8.9 37.5-22.5 56.2-43.9c18.8-21.3 37.5-51 56.3-83c18.7-32 37.4-64.7 56.2-89.4c18.7-24.7 37.5-41.7 56.2-52.9c18.7-11.2 37.5-17.2 56.2-21.1"/><path d="M67.4 353.1c18.7-2.3 37.5-5.7 56.2-13.1c18.7-7.4 37.5-19 56.2-39.2c18.8-20.1 37.5-49.8 56.2-83.7c18.8-33.9 37.5-70 56.3-96.9c18.7-27 37.4-45.1 56.2-56.7c18.7-11.5 37.5-17.3 56.2-21c18.7-3.7 37.5-5.3 56.2-6.4"/><path d="M67.4 357.5c18.7-.4 37.5-1 56.2-2.5c18.7-1.5 37.5-3.8 56.2-9.1c18.8-5.3 37.5-13.7 56.2-29.7c18.8-16.1 37.5-41.1 56.3-73.6c18.7-32.5 37.4-71.3 56.2-102.6c18.7-31.2 37.5-54.1 56.2-68.6c18.7-14.6 37.5-22 56.2-26.7"/><path d="M67.4 355.7c18.7-1.3 37.5-3.3 56.2-8.2c18.7-4.9 37.5-12.8 56.2-29.1c18.8-16.4 37.5-42.7 56.2-77.5c18.8-34.8 37.5-76.4 56.3-108.3c18.7-32 37.4-53.8 56.2-67.2c18.7-13.3 37.5-19.5 56.2-23.3c18.7-3.9 37.5-5.4 56.2-6.4"/><path d="M67.4 351.5c18.7-2.6 37.5-6.3 56.2-13.2c18.7-6.9 37.5-17.1 56.2-33.4c18.8-16.4 37.5-39.4 56.2-67.1c18.8-27.6 37.5-59.3 56.3-86.7c18.7-27.4 37.4-49.8 56.2-65.7c18.7-15.9 37.5-25.8 56.2-32.5c18.7-6.6 37.5-10.2 56.2-12.6"/><path d="M67.4 350.8c18.7-2.6 37.5-6.3 56.2-12.9c18.7-6.6 37.5-16.2 56.2-31c18.8-14.8 37.5-35.3 56.2-60.4c18.8-25 37.5-54.3 56.3-81.1c18.7-26.8 37.4-50.4 56.2-67.9c18.7-17.6 37.5-29.5 56.2-37.7c18.7-8.3 37.5-13.1 56.2-16.3"/><path d="M67.4 352.4c18.7-2.7 37.5-6.9 56.2-16.3c18.7-9.5 37.5-24.8 56.2-50.2c18.8-25.5 37.5-62.3 56.2-98.9c18.8-36.6 37.5-70.2 56.3-92.6c18.7-22.3 37.4-34.9 56.2-42.6c18.7-7.8 37.5-11.2 56.2-13.4c18.7-2.2 37.5-3 56.2-3.6"/><path d="M67.4 353.3c18.7-2.2 37.5-5.7 56.2-13.5c18.7-7.7 37.5-20.1 56.2-41.9c18.8-21.8 37.5-54.3 56.2-90c18.8-35.7 37.5-72.1 56.3-97.9c18.7-25.9 37.4-41.9 56.2-51.9c18.7-10.1 37.5-14.7 56.2-17.7c18.7-3 37.5-4.2 56.2-5"/><path d="M67.4 356.9c18.7-.7 37.5-1.8 56.2-4.7c18.7-2.8 37.5-7.3 56.2-17.5c18.8-10.2 37.5-26.9 56.2-54.5c18.8-27.6 37.5-66.7 56.3-103.9c18.7-37.1 37.4-69.1 56.2-89.7c18.7-20.6 37.5-31.4 56.2-38c18.7-6.7 37.5-9.4 56.2-11.2"/><path d="M67.4 354.6c18.7-1.8 37.5-4.7 56.2-11.9c18.7-7.2 37.5-19.1 56.2-41.8c18.8-22.7 37.5-58.2 56.2-97c18.8-38.9 37.5-77.5 56.3-103.1c18.7-25.6 37.4-39.8 56.2-48.3c18.7-8.6 37.5-12.1 56.2-14.3c18.7-2.2 37.5-3 56.2-3.6"/><path d="M67.4 349.8c18.7-3.2 37.5-7.9 56.2-16.8c18.7-8.8 37.5-22.1 56.2-42.3c18.8-20.2 37.5-48 56.2-78.4c18.8-30.3 37.5-62 56.3-86.8c18.7-24.9 37.4-43 56.2-55.3c18.7-12.3 37.5-19.2 56.2-23.9c18.7-4.6 37.5-7 56.2-8.6"/><path d="M67.4 358.1c18.7-.3 37.5-.6 56.2-1.7c18.7-1 37.5-2.7 56.2-7.7c18.8-5 37.5-13.4 56.2-32.9c18.8-19.6 37.5-53.3 56.3-95.2c18.7-41.8 37.4-87 56.2-116.2c18.7-29.2 37.5-44.5 56.2-53.3c18.7-8.8 37.5-11.8 56.2-13.8"/><path d="M67.4 351c18.7-2.9 37.5-7.3 56.2-16.1c18.7-8.8 37.5-22.3 56.2-43.7c18.8-21.5 37.5-51.6 56.2-84.1c18.8-32.4 37.5-65.6 56.3-90.4c18.7-24.9 37.4-41.8 56.2-52.8c18.7-11.1 37.5-16.9 56.2-20.7c18.7-3.7 37.5-5.5 56.2-6.7"/><path d="M67.4 357.6c18.7-.4 37.5-1.1 56.2-2.9c18.7-1.8 37.5-4.6 56.2-11.7c18.8-7.2 37.5-19 56.2-41.8c18.8-22.8 37.5-58.5 56.3-97.7c18.7-39.2 37.4-77.9 56.2-103.5c18.7-25.5 37.5-39.6 56.2-48c18.7-8.4 37.5-11.8 56.2-14"/><path d="M67.4 350.4c18.7-2.8 37.5-6.9 56.2-14.4c18.7-7.5 37.5-18.4 56.2-35.4c18.8-17 37.5-40.5 56.2-68c18.8-27.6 37.5-58.4 56.3-84.9c18.7-26.4 37.4-48 56.2-63.3c18.7-15.3 37.5-24.9 56.2-31.4c18.7-6.6 37.5-10.1 56.2-12.6"/><path d="M67.4 355.8c18.7-1.1 37.5-2.7 56.2-6.3c18.7-3.5 37.5-8.9 56.2-19.4c18.8-10.5 37.5-26.6 56.2-50.9c18.8-24.2 37.5-57.1 56.3-90c18.7-32.8 37.4-63.8 56.2-86c18.7-22.2 37.5-36.2 56.2-45.3c18.7-9.2 37.5-13.8 56.2-16.8"/><path d="M67.4 347.7c18.7-3.6 37.5-9 56.2-18.2c18.7-9.2 37.5-22.5 56.2-41.8c18.8-19.3 37.5-45 56.2-73c18.8-27.9 37.5-57.3 56.3-81.5c18.7-24.1 37.4-42.8 56.2-56c18.7-13.2 37.5-21.3 56.2-26.9c18.7-5.5 37.5-8.6 56.2-10.7"/><path d="M67.4 358c18.7-.2 37.5-.6 56.2-1.7c18.7-1.2 37.5-2.9 56.2-7.7c18.8-4.9 37.5-12.9 56.2-30.9c18.8-18.1 37.5-48.5 56.3-87.8c18.7-39.2 37.4-83.9 56.2-114.8c18.7-30.9 37.5-48.8 56.2-59.3c18.7-10.5 37.5-14.6 56.2-17.1"/><path d="M67.4 351.3c18.7-2.8 37.5-7 56.2-15.5c18.7-8.5 37.5-21.4 56.2-42.3c18.8-20.8 37.5-50.2 56.2-82.5c18.8-32.2 37.5-65.7 56.3-91.1c18.7-25.4 37.4-43 56.2-54.5c18.7-11.5 37.5-17.6 56.2-21.6c18.7-4 37.5-5.9 56.2-7.1"/><path d="M67.4 355.8c18.7-1.1 37.5-2.9 56.2-7.1c18.7-4.2 37.5-10.7 56.2-24.1c18.8-13.4 37.5-34.7 56.2-65.1c18.8-30.4 37.5-69.5 56.3-103.2c18.7-33.7 37.4-60.4 56.2-77.6c18.7-17.2 37.5-26.1 56.2-31.8c18.7-5.7 37.5-8.1 56.2-9.7"/><path d="M67.4 357.4c18.7-.5 37.5-1.3 56.2-3.4c18.7-2.1 37.5-5.3 56.2-13.4c18.8-8 37.5-21.3 56.2-45.8c18.8-24.4 37.5-61.6 56.3-100.4c18.7-38.7 37.4-75.3 56.2-99.2c18.7-23.8 37.5-36.7 56.2-44.5c18.7-7.7 37.5-10.9 56.2-12.9"/><path d="M67.4 354.2c18.7-1.7 37.5-4.2 56.2-9.6c18.7-5.3 37.5-13.4 56.2-28.2c18.8-14.7 37.5-36.7 56.2-65.6c18.8-28.9 37.5-64.2 56.3-94.8c18.7-30.7 37.4-55.7 56.2-72.6c18.7-17 37.5-26.8 56.2-33.2c18.7-6.3 37.5-9.4 56.2-11.5"/><path d="M67.4 350.9c18.7-4.2 37.5-11.2 56.2-29.8c18.7-18.7 37.5-52.6 56.2-96.9c18.8-44.3 37.5-93 56.2-123.1c18.8-30.1 37.5-44.5 56.3-52.6c18.7-8 37.4-10.5 56.2-12.1c18.7-1.6 37.5-2.1 56.2-2.4c18.7-.3 37.5-.3 56.2-.4"/><path d="M67.4 356.7c18.7-.8 37.5-2 56.2-4.9c18.7-2.9 37.5-7.3 56.2-16.8c18.8-9.5 37.5-24.6 56.2-49.3c18.8-24.6 37.5-59.7 56.3-95.1c18.7-35.4 37.4-68.7 56.2-91.6c18.7-22.8 37.5-36.3 56.2-44.7c18.7-8.5 37.5-12.4 56.2-14.9"/><path d="M67.4 352.9c18.7-2.5 37.5-6.4 56.2-15.1c18.7-8.7 37.5-22.7 56.2-46.6c18.8-24 37.5-59 56.2-95.5c18.8-36.5 37.5-71.5 56.3-95.3c18.7-23.8 37.4-37.7 56.2-46.4c18.7-8.6 37.5-12.4 56.2-14.9c18.7-2.5 37.5-3.5 56.2-4.1"/><path d="M67.4 352.3c18.7-2.1 37.5-5.1 56.2-10.8c18.7-5.6 37.5-13.8 56.2-27.1c18.8-13.3 37.5-32.1 56.2-56.4c18.8-24.2 37.5-53.7 56.3-81.7c18.7-28 37.4-53.5 56.2-72.7c18.7-19.2 37.5-32.4 56.2-41.5c18.7-9.1 37.5-14.4 56.2-18"/><path d="M67.4 352.9c18.7-2.3 37.5-5.8 56.2-13c18.7-7.1 37.5-18.3 56.2-37.3c18.8-19 37.5-46.8 56.2-79.2c18.8-32.5 37.5-67.9 56.3-95.4c18.7-27.6 37.4-47.1 56.2-59.8c18.7-12.7 37.5-19.4 56.2-23.8c18.7-4.3 37.5-6.3 56.2-7.6"/><path d="M67.4 351.2c18.7-2.8 37.5-7.2 56.2-15.9c18.7-8.8 37.5-22.2 56.2-43.8c18.8-21.5 37.5-51.9 56.2-84.7c18.8-32.8 37.5-66.2 56.3-91.1c18.7-24.9 37.4-41.6 56.2-52.5c18.7-11 37.5-16.6 56.2-20.3c18.7-3.7 37.5-5.4 56.2-6.6"/><path d="M67.4 352.3c18.7-3.6 37.5-9.5 56.2-27.1c18.7-17.6 37.5-50.7 56.2-96.6c18.8-45.8 37.5-97.4 56.2-128.5c18.8-31.1 37.5-45.1 56.3-52.8c18.7-7.8 37.4-9.9 56.2-11.4c18.7-1.4 37.5-1.7 56.2-2c18.7-.2 37.5-.3 56.2-.3"/><path d="M67.4 353.1c18.7-2.1 37.5-5.3 56.2-11.9c18.7-6.5 37.5-16.6 56.2-33.8c18.8-17.3 37.5-42.6 56.2-73.4c18.8-30.7 37.5-65.8 56.3-94.4c18.7-28.7 37.4-50.3 56.2-64.8c18.7-14.4 37.5-22.4 56.2-27.7c18.7-5.2 37.5-7.7 56.2-9.4"/><path d="M67.4 354.2c18.7-1.9 37.5-4.7 56.2-10.9c18.7-6.2 37.5-16 56.2-33.9c18.8-17.9 37.5-45 56.2-78.3c18.8-33.2 37.5-70.9 56.3-100.1c18.7-29.3 37.4-49.9 56.2-63.1c18.7-13.2 37.5-19.9 56.2-24.1c18.7-4.3 37.5-6.2 56.2-7.4"/><path d="M67.4 356.5c18.7-.8 37.5-2.1 56.2-5.2c18.7-3.1 37.5-8 56.2-18.4c18.8-10.4 37.5-27 56.2-53.4c18.8-26.4 37.5-63.2 56.3-98.8c18.7-35.5 37.4-67.3 56.2-88.5c18.7-21.2 37.5-33.2 56.2-40.7c18.7-7.5 37.5-10.8 56.2-13"/><path d="M67.4 347.9c18.7-4.2 37.5-10.8 56.2-23.4c18.7-12.6 37.5-32.1 56.2-59.7c18.8-27.7 37.5-63.5 56.2-96.2c18.8-32.7 37.5-60.7 56.3-79.8c18.7-19 37.4-30 56.2-37.1c18.7-7.1 37.5-10.5 56.2-12.7c18.7-2.3 37.5-3.3 56.2-3.9"/><path d="M67.4 355.9c18.7-1.2 37.5-2.9 56.2-6.9c18.7-4.1 37.5-10.4 56.2-23.3c18.8-12.9 37.5-33.3 56.2-62.8c18.8-29.5 37.5-67.9 56.3-101.8c18.7-33.9 37.4-61.5 56.2-79.4c18.7-18 37.5-27.6 56.2-33.7c18.7-6 37.5-8.7 56.2-10.5"/><path d="M67.4 352.5c18.7-2.1 37.5-5.2 56.2-10.9c18.7-5.8 37.5-14.2 56.2-28.1c18.8-13.9 37.5-33.7 56.2-59c18.8-25.3 37.5-55.9 56.3-84.2c18.7-28.4 37.4-53.6 56.2-72.2c18.7-18.5 37.5-30.8 56.2-39.2c18.7-8.4 37.5-13.1 56.2-16.2"/><path d="M67.4 352.7c18.7-2.3 37.5-5.7 56.2-12.7c18.7-6.9 37.5-17.6 56.2-35.6c18.8-18 37.5-44.2 56.2-75.4c18.8-31.1 37.5-65.9 56.3-93.8c18.7-27.9 37.4-48.6 56.2-62.4c18.7-13.8 37.5-21.4 56.2-26.4c18.7-4.9 37.5-7.3 56.2-8.9"/><path d="M67.4 356.2c18.7-.9 37.5-2.4 56.2-5.9c18.7-3.4 37.5-8.8 56.2-20c18.8-11.1 37.5-28.9 56.2-56c18.8-27.1 37.5-64 56.3-98.8c18.7-34.7 37.4-65.1 56.2-85.4c18.7-20.4 37.5-31.8 56.2-39c18.7-7.3 37.5-10.5 56.2-12.6"/><path d="M67.4 353.2c18.7-1.8 37.5-4.6 56.2-9.9c18.7-5.2 37.5-13 56.2-26c18.8-13.1 37.5-31.9 56.2-56.7c18.8-24.8 37.5-55.5 56.3-84.6c18.7-29 37.4-55.4 56.2-74.8c18.7-19.5 37.5-32.4 56.2-41.3c18.7-8.8 37.5-13.7 56.2-17"/><path d="M67.4 358.3c18.7-.1 37.5-.2 56.2-.7c18.7-.5 37.5-1.1 56.2-3.3c18.8-2.2 37.5-5.5 56.2-14.9c18.8-9.3 37.5-25.5 56.3-55.4c18.7-30 37.4-75.1 56.2-116.2c18.7-41 37.5-73.5 56.2-92.5c18.7-18.9 37.5-27.1 56.2-32"/><path d="M67.4 355.1c18.7-1.4 37.5-3.5 56.2-8.3c18.7-4.7 37.5-12 56.2-26.1c18.8-14 37.5-35.7 56.2-65.3c18.8-29.7 37.5-66.7 56.3-98.9c18.7-32.2 37.4-58.1 56.2-75.2c18.7-17.2 37.5-26.6 56.2-32.7c18.7-6.1 37.5-8.8 56.2-10.7"/><path d="M67.4 355.9c18.7-1.4 37.5-3.5 56.2-10.1c18.7-6.7 37.5-18.2 56.2-43.5c18.8-25.3 37.5-67.6 56.2-111.8c18.8-44.2 37.5-83.8 56.3-106.9c18.7-23.1 37.4-33.1 56.2-38.9c18.7-5.9 37.5-7.7 56.2-9c18.7-1.2 37.5-1.5 56.2-1.8"/><path d="M67.4 358.5c18.7 0 37.5-.1 56.2-.2c18.7-.1 37.5-.3 56.2-1.1c18.8-.9 37.5-2 56.2-7.8c18.8-5.7 37.5-16.1 56.3-46c18.7-29.9 37.4-85.9 56.2-137.2c18.7-51.4 37.5-86.8 56.2-103.9c18.7-17.2 37.5-21.6 56.2-24.4"/><path d="M67.4 350.8c18.7-2.8 37.5-6.8 56.2-14.1c18.7-7.2 37.5-18 56.2-34.8c18.8-16.8 37.5-40.1 56.2-67.7c18.8-27.6 37.5-58.7 56.3-85.4c18.7-26.8 37.4-48.6 56.2-64.1c18.7-15.5 37.5-25.2 56.2-31.7c18.7-6.6 37.5-10.2 56.2-12.6"/><path d="M67.4 354.6c18.7-1.6 37.5-4.1 56.2-9.6c18.7-5.5 37.5-14.2 56.2-30.3c18.8-16.2 37.5-41 56.2-72.9c18.8-31.9 37.5-69.8 56.3-100.5c18.7-30.7 37.4-53.6 56.2-68.4c18.7-14.8 37.5-22.4 56.2-27.4c18.7-4.9 37.5-7.1 56.2-8.6"/><path d="M67.4 356.8c18.7-.7 37.5-1.9 56.2-5c18.7-3 37.5-7.8 56.2-18.7c18.8-10.9 37.5-28.9 56.2-57.7c18.8-28.9 37.5-69.2 56.3-106c18.7-36.9 37.4-67.6 56.2-86.9c18.7-19.4 37.5-29.3 56.2-35.4c18.7-6.1 37.5-8.5 56.2-10.1"/><path d="M67.4 348.3c18.7-3 37.5-7.3 56.2-14.3c18.7-7 37.5-16.8 56.2-31c18.8-14.2 37.5-33.1 56.2-55.6c18.8-22.6 37.5-48.7 56.3-73.3c18.7-24.7 37.4-47.4 56.2-65.2c18.7-17.9 37.5-31.1 56.2-40.7c18.7-9.6 37.5-15.7 56.2-20"/><path d="M67.4 358c18.7-.3 37.5-.7 56.2-1.8c18.7-1 37.5-2.7 56.2-6.9c18.8-4.2 37.5-11 56.2-25.8c18.8-14.8 37.5-39.1 56.3-73.3c18.7-34.2 37.4-77.1 56.2-110.9c18.7-33.9 37.5-57.5 56.2-71.9c18.7-14.4 37.5-20.9 56.2-25"/><path d="M67.4 355.1c18.7-1.7 37.5-4.3 56.2-11.1c18.7-6.8 37.5-18.1 56.2-40.8c18.8-22.6 37.5-58.7 56.2-98.6c18.8-40 37.5-79.6 56.3-105.5c18.7-25.8 37.4-39.6 56.2-47.9c18.7-8.2 37.5-11.4 56.2-13.5c18.7-2 37.5-2.8 56.2-3.2"/><path d="M67.4 353.3c18.7-1.9 37.5-4.5 56.2-9.5c18.7-5 37.5-12.3 56.2-24.4c18.8-12.2 37.5-29.7 56.2-53.1c18.8-23.3 37.5-52.6 56.3-81.3c18.7-28.6 37.4-55.6 56.2-76.1c18.7-20.5 37.5-34.8 56.2-44.6c18.7-9.9 37.5-15.6 56.2-19.5"/><path d="M67.4 355.6c18.7-1.2 37.5-3 56.2-7.1c18.7-4.1 37.5-10.5 56.2-23.1c18.8-12.6 37.5-32.2 56.2-60.4c18.8-28.2 37.5-64.9 56.3-98.2c18.7-33.3 37.4-61.4 56.2-80.2c18.7-18.8 37.5-29.4 56.2-36.2c18.7-6.8 37.5-9.9 56.2-12"/><path d="M67.4 356.8c18.7-.8 37.5-2 56.2-5.1c18.7-3.2 37.5-8.2 56.2-19.7c18.8-11.5 37.5-30.6 56.2-60.8c18.8-30.2 37.5-71.9 56.3-108.7c18.7-36.8 37.4-66.2 56.2-84.4c18.7-18.2 37.5-27.1 56.2-32.6c18.7-5.5 37.5-7.6 56.2-9"/><path d="M67.4 353.5c18.7-2 37.5-5 56.2-11.1c18.7-6.1 37.5-15.4 56.2-31.7c18.8-16.2 37.5-40.2 56.2-70.2c18.8-29.9 37.5-65 56.3-94.3c18.7-29.4 37.4-52.3 56.2-67.7c18.7-15.5 37.5-24.2 56.2-30c18.7-5.7 37.5-8.4 56.2-10.3"/><path d="M67.4 355.4c18.7-1.3 37.5-3.1 56.2-7.1c18.7-4 37.5-10.1 56.2-21.7c18.8-11.6 37.5-29.3 56.2-55c18.8-25.7 37.5-59.5 56.3-91.9c18.7-32.4 37.4-61.8 56.2-82.5c18.7-20.6 37.5-33.4 56.2-41.6c18.7-8.3 37.5-12.5 56.2-15.2"/><path d="M67.4 350.3c18.7-3.4 37.5-8.7 56.2-19.7c18.7-11 37.5-28.4 56.2-55.1c18.8-26.6 37.5-63 56.2-97.6c18.8-34.6 37.5-65.3 56.3-86c18.7-20.6 37.4-32.5 56.2-40c18.7-7.5 37.5-10.9 56.2-13.1c18.7-2.3 37.5-3.2 56.2-3.8"/><path d="M67.4 357.4c18.7-.4 37.5-1.1 56.2-2.7c18.7-1.6 37.5-4.1 56.2-9.7c18.8-5.5 37.5-14.3 56.2-30.8c18.8-16.5 37.5-41.8 56.3-74.3c18.7-32.5 37.4-70.8 56.2-101.4c18.7-30.6 37.5-53 56.2-67.4c18.7-14.3 37.5-21.6 56.2-26.3"/><path d="M67.4 355.7c18.7-1.2 37.5-3.2 56.2-8c18.7-4.9 37.5-12.6 56.2-28.6c18.8-16 37.5-41.8 56.2-76.3c18.8-34.5 37.5-76.1 56.3-108.3c18.7-32.2 37.4-54.5 56.2-68.1c18.7-13.7 37.5-20 56.2-24c18.7-4 37.5-5.6 56.2-6.6"/><path d="M67.4 353.9c18.7-1.8 37.5-4.6 56.2-10.3c18.7-5.8 37.5-14.7 56.2-30.6c18.8-15.8 37.5-39.5 56.2-69.7c18.8-30.1 37.5-65.9 56.3-95.9c18.7-30 37.4-53.4 56.2-69.1c18.7-15.7 37.5-24.4 56.2-30.1c18.7-5.7 37.5-8.4 56.2-10.2"/><path d="M67.4 354.4c18.7-1.7 37.5-4.2 56.2-9.4c18.7-5.2 37.5-13.1 56.2-27.5c18.8-14.5 37.5-36.2 56.2-64.9c18.8-28.8 37.5-64.1 56.3-95c18.7-30.9 37.4-56.2 56.2-73.4c18.7-17.3 37.5-27.2 56.2-33.7c18.7-6.5 37.5-9.6 56.2-11.7"/><path d="M67.4 354.4c18.7-1.7 37.5-4.1 56.2-9.2c18.7-5.1 37.5-12.8 56.2-26.8c18.8-14 37.5-35 56.2-63.1c18.8-28 37.5-62.7 56.3-93.6c18.7-30.9 37.4-56.8 56.2-74.6c18.7-17.8 37.5-28.4 56.2-35.3c18.7-6.9 37.5-10.3 56.2-12.5"/><path d="M67.4 356.9c18.7-.8 37.5-1.8 56.2-4.4c18.7-2.6 37.5-6.6 56.2-15.3c18.8-8.7 37.5-22.5 56.2-45.7c18.8-23.2 37.5-57 56.3-92.4c18.7-35.5 37.4-70.2 56.2-94.5c18.7-24.2 37.5-39 56.2-48.3c18.7-9.2 37.5-13.5 56.2-16.3"/><path d="M67.4 356.2c18.7-1.2 37.5-3 56.2-8.1c18.7-5.2 37.5-13.6 56.2-32.7c18.8-19 37.5-51 56.2-91.1c18.8-40.2 37.5-84.4 56.3-114.2c18.7-29.8 37.4-46.5 56.2-56.2c18.7-9.7 37.5-13.4 56.2-15.7c18.7-2.4 37.5-3.2 56.2-3.7"/><path d="M67.4 354.4c18.7-1.7 37.5-4.3 56.2-9.9c18.7-5.5 37.5-14.2 56.2-30.2c18.8-15.9 37.5-40.2 56.2-71.3c18.8-31.1 37.5-68.2 56.3-98.7c18.7-30.5 37.4-53.8 56.2-69c18.7-15.2 37.5-23.4 56.2-28.7c18.7-5.2 37.5-7.7 56.2-9.2"/><path d="M67.4 354.7c18.7-1.6 37.5-4.1 56.2-9.8c18.7-5.7 37.5-14.6 56.2-31.4c18.8-16.9 37.5-43 56.2-76c18.8-33.1 37.5-71.6 56.3-102c18.7-30.5 37.4-52.3 56.2-66.2c18.7-13.8 37.5-20.8 56.2-25.2c18.7-4.5 37.5-6.4 56.2-7.7"/><path d="M67.4 351.9c18.7-2.8 37.5-7.1 56.2-16.1c18.7-9 37.5-23.2 56.2-46.4c18.8-23.3 37.5-56.5 56.2-91.1c18.8-34.7 37.5-68.6 56.3-92.6c18.7-24 37.4-38.8 56.2-48.3c18.7-9.4 37.5-14 56.2-16.9c18.7-2.9 37.5-4.2 56.2-5"/><path d="M67.4 352.8c18.7-2 37.5-4.8 56.2-9.8c18.7-5.1 37.5-12.4 56.2-24.3c18.8-11.9 37.5-28.8 56.2-51.1c18.8-22.4 37.5-50.3 56.3-77.9c18.7-27.7 37.4-54.4 56.2-75.2c18.7-20.7 37.5-35.8 56.2-46.4c18.7-10.5 37.5-16.9 56.2-21.2"/><path d="M67.4 354.2c18.7-1.7 37.5-4.4 56.2-10.1c18.7-5.8 37.5-14.7 56.2-30.9c18.8-16.2 37.5-40.7 56.2-71.8c18.8-31.2 37.5-67.9 56.3-98.1c18.7-30.3 37.4-53.2 56.2-68.3c18.7-15 37.5-23.1 56.2-28.4c18.7-5.2 37.5-7.6 56.2-9.2"/><path d="M67.4 353.6c18.7-2.1 37.5-5.4 56.2-12.7c18.7-7.3 37.5-19 56.2-39.7c18.8-20.7 37.5-51.8 56.2-87c18.8-35.2 37.5-72.2 56.3-99c18.7-26.9 37.4-44.1 56.2-54.9c18.7-10.8 37.5-15.9 56.2-19.2c18.7-3.2 37.5-4.6 56.2-5.5"/><path d="M67.4 354.2c18.7-2.7 37.5-6.8 56.2-21.6c18.7-14.8 37.5-44.1 56.2-90.4c18.8-46.4 37.5-103.5 56.2-137.9c18.8-34.4 37.5-49.3 56.3-57.3c18.7-8 37.4-10 56.2-11.3c18.7-1.4 37.5-1.7 56.2-1.9c18.7-.2 37.5-.2 56.2-.2"/><path d="M67.4 356.7c18.7-.9 37.5-2.1 56.2-5.3c18.7-3.1 37.5-8.1 56.2-19c18.8-10.9 37.5-28.6 56.2-56.6c18.8-28.1 37.5-67.1 56.3-103.3c18.7-36.2 37.4-67 56.2-86.9c18.7-19.9 37.5-30.4 56.2-37c18.7-6.5 37.5-9.3 56.2-11.1"/><path d="M67.4 353.7c18.7-1.5 37.5-3.6 56.2-7.2c18.7-3.5 37.5-8.6 56.2-16.6c18.8-8.1 37.5-19.3 56.2-35.2c18.8-15.8 37.5-36.5 56.3-60.2c18.7-23.8 37.4-50.2 56.2-74.1c18.7-23.9 37.5-45 56.2-61.2c18.7-16.2 37.5-27.8 56.2-36.1"/><path d="M67.4 357.3c18.7-.6 37.5-1.4 56.2-3.4c18.7-1.9 37.5-5 56.2-11.8c18.8-6.8 37.5-17.7 56.2-37.4c18.8-19.7 37.5-49.5 56.3-84.4c18.7-34.8 37.4-72.5 56.2-100.3c18.7-27.9 37.5-46.2 56.2-57.7c18.7-11.5 37.5-17 56.2-20.5"/><path d="M67.4 353.5c18.7-2 37.5-5.2 56.2-12c18.7-6.9 37.5-17.6 56.2-36.5c18.8-18.9 37.5-47.1 56.2-80.4c18.8-33.3 37.5-70 56.3-98.1c18.7-28.1 37.4-47.6 56.2-60.1c18.7-12.5 37.5-18.8 56.2-22.9c18.7-4.1 37.5-5.9 56.2-7.1"/><path d="M67.4 356.8c18.7-.7 37.5-1.8 56.2-4.1c18.7-2.3 37.5-5.9 56.2-13.3c18.8-7.3 37.5-18.8 56.2-38.1c18.8-19.4 37.5-47.7 56.3-80.3c18.7-32.7 37.4-67.9 56.2-95.1c18.7-27.2 37.5-46.3 56.2-58.7c18.7-12.4 37.5-18.9 56.2-23.1"/><path d="M67.4 351.6c18.7-2.7 37.5-6.7 56.2-14.7c18.7-7.9 37.5-20.1 56.2-39.8c18.8-19.8 37.5-47.8 56.2-79.4c18.8-31.6 37.5-65.3 56.3-91.6c18.7-26.2 37.4-44.9 56.2-57.4c18.7-12.4 37.5-19.2 56.2-23.6c18.7-4.4 37.5-6.5 56.2-8"/><path d="M67.4 353.4c18.7-3 37.5-7.8 56.2-23.5c18.7-15.7 37.5-46.1 56.2-91.6c18.8-45.6 37.5-100.3 56.2-133.7c18.8-33.4 37.5-48.6 56.3-56.8c18.7-8.2 37.4-10.4 56.2-11.9c18.7-1.4 37.5-1.8 56.2-2c18.7-.2 37.5-.3 56.2-.3"/><path d="M67.4 354.1c18.7-1.7 37.5-4.3 56.2-9.6c18.7-5.4 37.5-13.6 56.2-28.4c18.8-14.7 37.5-36.8 56.2-65.7c18.8-28.8 37.5-64 56.3-94.5c18.7-30.6 37.4-55.5 56.2-72.4c18.7-17 37.5-26.8 56.2-33.2c18.7-6.3 37.5-9.5 56.2-11.5"/><path d="M67.4 354.7c18.7-1.6 37.5-4 56.2-9.6c18.7-5.6 37.5-14.3 56.2-30.9c18.8-16.6 37.5-42.3 56.2-75.1c18.8-32.7 37.5-71.2 56.3-101.9c18.7-30.6 37.4-52.8 56.2-66.9c18.7-14.2 37.5-21.3 56.2-25.9c18.7-4.6 37.5-6.6 56.2-7.9"/><path d="M67.4 353.4c18.7-2.1 37.5-5.3 56.2-12c18.7-6.6 37.5-17 56.2-35.1c18.8-18.2 37.5-45.1 56.2-77.3c18.8-32.2 37.5-68.2 56.3-96.7c18.7-28.4 37.4-49 56.2-62.3c18.7-13.4 37.5-20.5 56.2-25c18.7-4.6 37.5-6.7 56.2-8.1"/><path d="M67.4 353c18.7-1.8 37.5-4.4 56.2-9c18.7-4.6 37.5-11.3 56.2-22.2c18.8-10.9 37.5-26.2 56.2-47c18.8-20.7 37.5-47 56.3-74.2c18.7-27.1 37.4-54.3 56.2-76.1c18.7-21.9 37.5-38.6 56.2-50.4c18.7-11.9 37.5-19.3 56.2-24.4"/><path d="M67.4 356.7c18.7-.7 37.5-1.9 56.2-4.6c18.7-2.7 37.5-6.9 56.2-15.9c18.8-8.9 37.5-23.2 56.2-46.7c18.8-23.5 37.5-57.3 56.3-92.4c18.7-35.2 37.4-69.3 56.2-93.2c18.7-23.9 37.5-38.4 56.2-47.6c18.7-9.2 37.5-13.5 56.2-16.2"/><path d="M67.4 352.9c18.7-2.2 37.5-5.4 56.2-11.6c18.7-6.3 37.5-15.8 56.2-31.8c18.8-16.1 37.5-39.3 56.2-68.1c18.8-28.8 37.5-62.5 56.3-91.3c18.7-28.7 37.4-51.9 56.2-67.8c18.7-16 37.5-25.4 56.2-31.7c18.7-6.2 37.5-9.4 56.2-11.5"/><path d="M67.4 347.3c18.7-3.4 37.5-8.4 56.2-16.5c18.7-8.1 37.5-19.6 56.2-36c18.8-16.4 37.5-38.1 56.2-62.9c18.8-24.8 37.5-52.2 56.3-76.7c18.7-24.4 37.4-45.4 56.2-61.2c18.7-15.8 37.5-26.6 56.2-34.3c18.7-7.8 37.5-12.4 56.2-15.7"/><path d="M67.4 355.7c18.7-1.1 37.5-2.8 56.2-6.4c18.7-3.5 37.5-9 56.2-19.4c18.8-10.5 37.5-26.5 56.2-50.4c18.8-24 37.5-56.4 56.3-88.9c18.7-32.6 37.4-63.5 56.2-85.8c18.7-22.3 37.5-36.6 56.2-46c18.7-9.3 37.5-14.1 56.2-17.3"/><path d="M67.4 357.8c18.7-.4 37.5-.9 56.2-2.6c18.7-1.7 37.5-4.2 56.2-11.3c18.8-7 37.5-18.9 56.2-42.9c18.8-24 37.5-62.6 56.3-103.8c18.7-41.2 37.4-80.3 56.2-104.7c18.7-24.5 37.5-36.8 56.2-44c18.7-7.3 37.5-9.9 56.2-11.6"/><path d="M67.4 355.7c18.7-1.3 37.5-3.3 56.2-8.7c18.7-5.4 37.5-14.2 56.2-32.6c18.8-18.5 37.5-48.7 56.2-86.6c18.8-37.8 37.5-80.3 56.3-110.5c18.7-30.1 37.4-48.4 56.2-59.4c18.7-10.9 37.5-15.5 56.2-18.3c18.7-2.9 37.5-4 56.2-4.7"/><path d="M67.4 356.7c18.7-.8 37.5-2 56.2-5c18.7-3 37.5-7.6 56.2-17.7c18.8-10.1 37.5-26.3 56.2-52.4c18.8-26.2 37.5-63.1 56.3-99c18.7-36 37.4-68.4 56.2-89.9c18.7-21.6 37.5-33.7 56.2-41.2c18.7-7.6 37.5-10.9 56.2-13.1"/><path d="M67.4 347c18.7-3.7 37.5-9 56.2-17.9c18.7-8.8 37.5-21.4 56.2-39.3c18.8-18 37.5-41.6 56.2-67.8c18.8-26.2 37.5-54.4 56.3-78.5c18.7-24.1 37.4-43.8 56.2-58.3c18.7-14.4 37.5-23.8 56.2-30.4c18.7-6.6 37.5-10.4 56.2-13.1"/><path d="M67.4 351.5c18.7-2.5 37.5-6.4 56.2-13.7c18.7-7.3 37.5-18.2 56.2-35.9c18.8-17.6 37.5-42.5 56.2-71.8c18.8-29.3 37.5-62.1 56.3-89.2c18.7-27.1 37.4-48.2 56.2-62.8c18.7-14.5 37.5-23 56.2-28.7c18.7-5.7 37.5-8.6 56.2-10.6"/><path d="M67.4 354c18.7-2.3 37.5-5.8 56.2-15c18.7-9.2 37.5-25 56.2-53.5c18.8-28.5 37.5-71.3 56.2-111.5c18.8-40.2 37.5-73.7 56.3-93.8c18.7-20.2 37.4-29.5 56.2-35.1c18.7-5.6 37.5-7.7 56.2-9c18.7-1.3 37.5-1.7 56.2-2"/><path d="M67.4 350.3c18.7-2.5 37.5-6 56.2-11.7c18.7-5.7 37.5-13.7 56.2-25.6c18.8-12 37.5-28.1 56.2-48.6c18.8-20.4 37.5-45.1 56.3-69.9c18.7-24.9 37.4-49.3 56.2-69.4c18.7-20.1 37.5-35.9 56.2-47.5c18.7-11.7 37.5-19.4 56.2-24.9"/><path d="M67.4 354.9c18.7-1.5 37.5-3.7 56.2-8.5c18.7-4.8 37.5-12.1 56.2-25.7c18.8-13.7 37.5-34.5 56.2-62.9c18.8-28.5 37.5-64.2 56.3-95.9c18.7-31.8 37.4-58.2 56.2-76.2c18.7-17.9 37.5-28.2 56.2-34.9c18.7-6.7 37.5-9.9 56.2-12"/><path d="M67.4 358.4c18.7-.1 37.5-.2 56.2-.6c18.7-.3 37.5-.9 56.2-2.5c18.8-1.7 37.5-4.2 56.2-11.6c18.8-7.3 37.5-19.8 56.3-45.4c18.7-25.5 37.4-66.6 56.2-108.9c18.7-42.2 37.5-80.3 56.2-103.2c18.7-23 37.5-33.7 56.2-40"/><path d="M67.4 355.7c18.7-1.1 37.5-2.9 56.2-6.7c18.7-3.9 37.5-9.8 56.2-21.5c18.8-11.7 37.5-29.8 56.2-56.5c18.8-26.6 37.5-62 56.3-95.3c18.7-33.3 37.4-62.7 56.2-82.9c18.7-20.2 37.5-32.1 56.2-39.8c18.7-7.6 37.5-11.3 56.2-13.7"/><path d="M67.4 356.7c18.7-.9 37.5-2.1 56.2-5c18.7-2.9 37.5-7.4 56.2-17.1c18.8-9.8 37.5-25.3 56.2-50.4c18.8-25.1 37.5-60.7 56.3-96.3c18.7-35.6 37.4-68.5 56.2-90.9c18.7-22.4 37.5-35.5 56.2-43.6c18.7-8.2 37.5-11.9 56.2-14.3"/><path d="M67.4 354.4c18.7-1.7 37.5-4.1 56.2-9.3c18.7-5.2 37.5-13.2 56.2-27.7c18.8-14.4 37.5-36.3 56.2-65.2c18.8-28.8 37.5-64.3 56.3-95.2c18.7-30.9 37.4-56.2 56.2-73.4c18.7-17.1 37.5-27 56.2-33.4c18.7-6.4 37.5-9.5 56.2-11.5"/><path d="M67.4 358c18.7-.2 37.5-.5 56.2-1.6c18.7-1 37.5-2.5 56.2-6.9c18.8-4.3 37.5-11.4 56.2-27.5c18.8-16.2 37.5-43.5 56.3-80.9c18.7-37.4 37.4-82.5 56.2-115.4c18.7-32.9 37.5-53.6 56.2-65.7c18.7-12.2 37.5-17.1 56.2-20.2"/><path d="M67.4 356.1c18.7-1.3 37.5-3.3 56.2-9.7c18.7-6.5 37.5-17.6 56.2-42.7c18.8-25.2 37.5-67.9 56.2-112.7c18.8-44.9 37.5-84.9 56.3-108.1c18.7-23.1 37.4-32.9 56.2-38.6c18.7-5.8 37.5-7.5 56.2-8.7c18.7-1.1 37.5-1.5 56.2-1.7"/><path d="M67.4 354.6c18.7-1.6 37.5-4 56.2-9c18.7-5.1 37.5-12.8 56.2-27.1c18.8-14.3 37.5-36 56.2-64.9c18.8-28.9 37.5-64.6 56.3-95.8c18.7-31.3 37.4-56.9 56.2-74.1c18.7-17.3 37.5-27.2 56.2-33.6c18.7-6.4 37.5-9.5 56.2-11.5"/><path d="M67.4 355.1c18.7-1.4 37.5-3.5 56.2-8.1c18.7-4.5 37.5-11.6 56.2-25c18.8-13.4 37.5-33.9 56.2-62.4c18.8-28.4 37.5-64.6 56.3-96.8c18.7-32.2 37.4-59.1 56.2-77.2c18.7-18.1 37.5-28.4 56.2-35.1c18.7-6.7 37.5-9.8 56.2-11.9"/><path d="M67.4 351.6c18.7-2.9 37.5-7.2 56.2-16c18.7-8.8 37.5-22.5 56.2-44.8c18.8-22.2 37.5-53.8 56.2-87.4c18.8-33.6 37.5-67.3 56.3-91.9c18.7-24.6 37.4-40.6 56.2-50.9c18.7-10.3 37.5-15.5 56.2-18.8c18.7-3.4 37.5-4.9 56.2-5.9"/><path d="M67.4 350.3c18.7-3.5 37.5-9 56.2-20.7c18.7-11.6 37.5-30.3 56.2-58.6c18.8-28.4 37.5-66.7 56.2-101.7c18.8-35 37.5-64.6 56.3-83.9c18.7-19.3 37.4-29.8 56.2-36.3c18.7-6.6 37.5-9.5 56.2-11.3c18.7-1.9 37.5-2.7 56.2-3.2"/><path d="M67.4 358.1c18.7-.3 37.5-.6 56.2-1.6c18.7-1 37.5-2.5 56.2-6.8c18.8-4.3 37.5-11.2 56.2-27.3c18.8-16.1 37.5-43.4 56.3-80.9c18.7-37.5 37.4-82.9 56.2-115.9c18.7-33.1 37.5-53.8 56.2-65.9c18.7-12 37.5-16.9 56.2-20"/><path d="M67.4 355.6c18.7-1.2 37.5-2.9 56.2-6.4c18.7-3.6 37.5-8.9 56.2-19.1c18.8-10.2 37.5-25.6 56.2-48.6c18.8-23.1 37.5-54.3 56.3-86.2c18.7-31.9 37.4-62.9 56.2-85.8c18.7-22.8 37.5-38 56.2-48.1c18.7-10 37.5-15.3 56.2-18.7"/><path d="M67.4 356.6c18.7-.8 37.5-2.1 56.2-5.1c18.7-3 37.5-7.7 56.2-17.7c18.8-10 37.5-26 56.2-51.6c18.8-25.7 37.5-61.8 56.3-97.3c18.7-35.5 37.4-68 56.2-89.9c18.7-21.9 37.5-34.5 56.2-42.4c18.7-7.9 37.5-11.4 56.2-13.7"/><path d="M67.4 354c18.7-1.3 37.5-3 56.2-5.9c18.7-2.8 37.5-6.8 56.2-13c18.8-6.1 37.5-14.6 56.2-26.6c18.8-12 37.5-27.8 56.3-47.2c18.7-19.4 37.4-42.3 56.2-65.4c18.7-23.1 37.5-46 56.2-65.4c18.7-19.4 37.5-35.1 56.2-47.1"/><path d="M67.4 351.8c18.7-2.3 37.5-5.8 56.2-12.3c18.7-6.5 37.5-16 56.2-31.5c18.8-15.4 37.5-37.2 56.2-64c18.8-26.8 37.5-58.2 56.3-86c18.7-27.8 37.4-51.3 56.2-68.1c18.7-16.9 37.5-27.6 56.2-34.9c18.7-7.3 37.5-11.2 56.2-13.9"/><path d="M67.4 347.3c18.7-4.8 37.5-12.3 56.2-27.1c18.7-14.8 37.5-38.1 56.2-69.7c18.8-31.6 37.5-70.7 56.2-103.2c18.8-32.4 37.5-57 56.3-72.8c18.7-15.7 37.4-23.8 56.2-28.9c18.7-5.1 37.5-7.3 56.2-8.8c18.7-1.4 37.5-2 56.2-2.4"/><path d="M67.4 353.9c18.7-1.8 37.5-4.7 56.2-10.8c18.7-6 37.5-15.5 56.2-32.5c18.8-17 37.5-42.5 56.2-74.3c18.8-31.7 37.5-68.4 56.3-97.9c18.7-29.6 37.4-51.5 56.2-65.8c18.7-14.3 37.5-21.9 56.2-26.8c18.7-4.9 37.5-7.2 56.2-8.7"/><path d="M67.4 355.5c18.7-1.1 37.5-2.8 56.2-6.4c18.7-3.5 37.5-8.9 56.2-19c18.8-10.2 37.5-25.5 56.2-48.4c18.8-23 37.5-53.9 56.3-85.7c18.7-31.7 37.4-62.7 56.2-85.7c18.7-22.9 37.5-38.2 56.2-48.4c18.7-10.1 37.5-15.5 56.2-19"/><path d="M67.4 358.4c18.7 0 37.5-.1 56.2-.4c18.7-.2 37.5-.6 56.2-1.8c18.8-1.2 37.5-3.1 56.2-8.9c18.8-5.7 37.5-15.5 56.3-37.7c18.7-22.3 37.4-60.2 56.2-103.6c18.7-43.3 37.5-86.1 56.2-112.4c18.7-26.2 37.5-38.7 56.2-46"/><path d="M67.4 356.3c18.7-1 37.5-2.4 56.2-5.6c18.7-3.3 37.5-8.3 56.2-18.7c18.8-10.5 37.5-26.8 56.2-52.3c18.8-25.5 37.5-60.7 56.3-95.2c18.7-34.5 37.4-66.1 56.2-87.8c18.7-21.8 37.5-34.6 56.2-42.8c18.7-8.1 37.5-12 56.2-14.5"/><path d="M67.4 354.6c18.7-1.6 37.5-4 56.2-9.1c18.7-5.2 37.5-13.1 56.2-27.7c18.8-14.5 37.5-36.6 56.2-66c18.8-29.4 37.5-65.5 56.3-96.7c18.7-31.1 37.4-56.3 56.2-73.2c18.7-16.9 37.5-26.4 56.2-32.6c18.7-6.1 37.5-9.1 56.2-11"/><path d="M67.4 356.4c18.7-.9 37.5-2.4 56.2-5.7c18.7-3.4 37.5-8.6 56.2-19.7c18.8-11.1 37.5-28.8 56.2-56.1c18.8-27.4 37.5-64.9 56.3-100.1c18.7-35.2 37.4-65.7 56.2-86c18.7-20.2 37.5-31.4 56.2-38.4c18.7-7.1 37.5-10.2 56.2-12.2"/><path d="M67.4 349.6c18.7-4 37.5-10.3 56.2-23.8c18.7-13.5 37.5-35.3 56.2-67.1c18.8-31.7 37.5-72.8 56.2-107.2c18.8-34.5 37.5-60.7 56.3-77.1c18.7-16.4 37.4-24.5 56.2-29.5c18.7-5.1 37.5-7.1 56.2-8.4c18.7-1.4 37.5-1.9 56.2-2.3"/><path d="M67.4 357.4c18.7-.5 37.5-1.3 56.2-3.3c18.7-2.1 37.5-5.3 56.2-13c18.8-7.8 37.5-20.5 56.2-43.9c18.8-23.4 37.5-59.1 56.3-97.3c18.7-38.2 37.4-75.4 56.2-100.2c18.7-24.8 37.5-38.7 56.2-47.1c18.7-8.5 37.5-12 56.2-14.2"/><path d="M67.4 353.4c18.7-2.1 37.5-5.3 56.2-12.2c18.7-6.9 37.5-17.6 56.2-36.5c18.8-18.8 37.5-46.8 56.2-79.8c18.8-33 37.5-69.4 56.3-97.5c18.7-28 37.4-47.6 56.2-60.3c18.7-12.6 37.5-19.1 56.2-23.3c18.7-4.2 37.5-6.1 56.2-7.3"/><path d="M67.4 355c18.7-1.6 37.5-3.9 56.2-9.5c18.7-5.6 37.5-14.4 56.2-31.6c18.8-17.1 37.5-44 56.2-78.1c18.8-34 37.5-73.6 56.3-104.2c18.7-30.5 37.4-51.7 56.2-65c18.7-13.3 37.5-19.6 56.2-23.7c18.7-4.1 37.5-5.8 56.2-6.9"/><path d="M67.4 354c18.7-2 37.5-5 56.2-11.6c18.7-6.6 37.5-17.1 56.2-36.1c18.8-19 37.5-47.7 56.2-81.9c18.8-34.1 37.5-71.7 56.3-100.1c18.7-28.4 37.4-47.6 56.2-59.8c18.7-12.1 37.5-18.1 56.2-21.9c18.7-3.8 37.5-5.5 56.2-6.6"/><path d="M67.4 354c18.7-2.1 37.5-5.3 56.2-13.1c18.7-7.8 37.5-20.7 56.2-44.2c18.8-23.5 37.5-59.3 56.2-97.5c18.8-38.2 37.5-75.2 56.3-99.9c18.7-24.6 37.4-38.4 56.2-46.8c18.7-8.4 37.5-11.9 56.2-14.2c18.7-2.2 37.5-3 56.2-3.6"/><path d="M67.4 352.7c18.7-2.1 37.5-5.3 56.2-11.2c18.7-6 37.5-14.9 56.2-29.7c18.8-14.8 37.5-36.1 56.2-63c18.8-26.9 37.5-59 56.3-87.7c18.7-28.7 37.4-53.1 56.2-70.5c18.7-17.4 37.5-28.4 56.2-35.8c18.7-7.4 37.5-11.3 56.2-14"/><path d="M67.4 352.9c18.7-2.1 37.5-5.2 56.2-11.3c18.7-6.1 37.5-15.3 56.2-30.8c18.8-15.5 37.5-38 56.2-66.2c18.8-28.2 37.5-61.4 56.3-90.3c18.7-28.9 37.4-52.7 56.2-69.2c18.7-16.5 37.5-26.5 56.2-33.1c18.7-6.7 37.5-10.1 56.2-12.4"/><path d="M67.4 354.3c18.7-1.8 37.5-4.6 56.2-10.9c18.7-6.2 37.5-16.2 56.2-34.6c18.8-18.4 37.5-46.5 56.2-80.7c18.8-34.1 37.5-72.3 56.3-101.4c18.7-29 37.4-48.9 56.2-61.4c18.7-12.6 37.5-18.7 56.2-22.6c18.7-3.9 37.5-5.6 56.2-6.7"/><path d="M67.4 357.5c18.7-.4 37.5-1 56.2-2.6c18.7-1.5 37.5-3.8 56.2-9.3c18.8-5.4 37.5-13.9 56.2-30.3c18.8-16.4 37.5-41.9 56.3-74.8c18.7-32.9 37.4-71.9 56.2-102.9c18.7-31 37.5-53.4 56.2-67.6c18.7-14.2 37.5-21.3 56.2-25.8"/><path d="M67.4 345.1c18.7-4.4 37.5-10.8 56.2-21.5c18.7-10.7 37.5-26 56.2-47.1c18.8-21 37.5-48.1 56.2-75.9c18.8-27.9 37.5-55.8 56.3-78c18.7-22.2 37.4-38.8 56.2-50.5c18.7-11.7 37.5-18.8 56.2-23.7c18.7-4.9 37.5-7.6 56.2-9.4"/><path d="M67.4 351.6c18.7-2.6 37.5-6.5 56.2-14c18.7-7.6 37.5-19 56.2-37.4c18.8-18.5 37.5-44.7 56.2-75c18.8-30.3 37.5-63.6 56.3-90.4c18.7-26.9 37.4-47.1 56.2-60.8c18.7-13.7 37.5-21.4 56.2-26.6c18.7-5.1 37.5-7.7 56.2-9.4"/><path d="M67.4 356.8c18.7-.8 37.5-1.8 56.2-4.2c18.7-2.5 37.5-6.2 56.2-13.9c18.8-7.7 37.5-19.7 56.2-39.9c18.8-20.2 37.5-49.6 56.3-82.8c18.7-33.2 37.4-68.4 56.2-95c18.7-26.5 37.5-44.6 56.2-56.3c18.7-11.7 37.5-17.7 56.2-21.6"/><path d="M67.4 354.4c18.7-1.9 37.5-4.8 56.2-11.8c18.7-7.1 37.5-18.4 56.2-39.7c18.8-21.3 37.5-54.1 56.2-91.3c18.8-37.2 37.5-75.7 56.3-102.5c18.7-26.8 37.4-42.9 56.2-52.7c18.7-9.8 37.5-14.1 56.2-16.9c18.7-2.7 37.5-3.8 56.2-4.5"/><path d="M67.4 354c18.7-2 37.5-4.9 56.2-11.4c18.7-6.5 37.5-16.8 56.2-35.4c18.8-18.6 37.5-46.7 56.2-80.3c18.8-33.7 37.5-71.2 56.3-99.9c18.7-28.6 37.4-48.4 56.2-61c18.7-12.6 37.5-18.8 56.2-22.9c18.7-4 37.5-5.7 56.2-6.9"/><path d="M67.4 354.3c18.7-2 37.5-5.1 56.2-12.6c18.7-7.5 37.5-19.8 56.2-42.8c18.8-22.9 37.5-58.3 56.2-96.5c18.8-38.3 37.5-76.1 56.3-101.3c18.7-25.3 37.4-39.5 56.2-48.1c18.7-8.7 37.5-12.3 56.2-14.6c18.7-2.3 37.5-3.1 56.2-3.7"/><path d="M67.4 354.4c18.7-1.8 37.5-4.6 56.2-11.3c18.7-6.6 37.5-17.4 56.2-37.6c18.8-20.2 37.5-51.5 56.2-87.9c18.8-36.3 37.5-75.1 56.3-102.9c18.7-27.8 37.4-45.1 56.2-55.8c18.7-10.7 37.5-15.5 56.2-18.5c18.7-3.1 37.5-4.3 56.2-5.1"/><path d="M67.4 347c18.7-3.4 37.5-8 56.2-15.4c18.7-7.4 37.5-17.6 56.2-32c18.8-14.5 37.5-33.3 56.2-55.5c18.8-22.2 37.5-47.4 56.3-71.2c18.7-23.8 37.4-45.8 56.2-63.2c18.7-17.4 37.5-30.5 56.2-40.1c18.7-9.6 37.5-15.9 56.2-20.3"/><path d="M67.4 354.4c18.7-1.5 37.5-3.8 56.2-8.5c18.7-4.7 37.5-11.8 56.2-24.4c18.8-12.7 37.5-31.6 56.2-57.5c18.8-25.9 37.5-58.7 56.3-89.5c18.7-30.9 37.4-58.4 56.2-78c18.7-19.6 37.5-32 56.2-40.2c18.7-8.2 37.5-12.4 56.2-15.3"/><path d="M67.4 356.7c18.7-.9 37.5-2.1 56.2-5.2c18.7-3.2 37.5-8 56.2-18.8c18.8-10.7 37.5-28 56.2-55.7c18.8-27.6 37.5-66.1 56.3-102.2c18.7-36.1 37.4-67.3 56.2-87.6c18.7-20.3 37.5-31.2 56.2-38c18.7-6.7 37.5-9.6 56.2-11.5"/><path d="M67.4 356.4c18.7-.9 37.5-2.1 56.2-4.8c18.7-2.8 37.5-6.9 56.2-15.2c18.8-8.2 37.5-20.9 56.2-41.5c18.8-20.5 37.5-49.7 56.3-82c18.7-32.2 37.4-66 56.2-91.7c18.7-25.7 37.5-43.6 56.2-55.3c18.7-11.7 37.5-17.9 56.2-22"/><path d="M67.4 355.8c18.7-1.7 37.5-4.2 56.2-15.1c18.7-10.9 37.5-32.8 56.2-76.2c18.8-43.3 37.5-106.1 56.2-146.6c18.8-40.6 37.5-59.4 56.3-68.9c18.7-9.6 37.4-11.7 56.2-13.2c18.7-1.5 37.5-1.8 56.2-2c18.7-.2 37.5-.2 56.2-.3"/><path d="M67.4 352.6c18.7-2.3 37.5-5.7 56.2-12.8c18.7-7 37.5-17.8 56.2-36c18.8-18.2 37.5-44.7 56.2-75.9c18.8-31.3 37.5-66 56.3-93.8c18.7-27.8 37.4-48.3 56.2-61.9c18.7-13.7 37.5-21.1 56.2-26c18.7-4.9 37.5-7.2 56.2-8.8"/><path d="M67.4 354.7c18.7-1.3 37.5-3.3 56.2-7c18.7-3.7 37.5-9.2 56.2-18.8c18.8-9.6 37.5-23.6 56.2-43.8c18.8-20.3 37.5-47.3 56.3-76.1c18.7-28.8 37.4-58.5 56.2-82.2c18.7-23.8 37.5-41.5 56.2-53.9c18.7-12.4 37.5-19.7 56.2-24.7"/><path d="M67.4 355.7c18.7-1.2 37.5-3 56.2-7.2c18.7-4.2 37.5-10.8 56.2-24c18.8-13.1 37.5-33.9 56.2-63.4c18.8-29.5 37.5-67.6 56.3-101.1c18.7-33.5 37.4-60.6 56.2-78.4c18.7-17.7 37.5-27.3 56.2-33.4c18.7-6.1 37.5-8.8 56.2-10.6"/><path d="M67.4 354c18.7-2 37.5-5 56.2-12c18.7-7 37.5-18.2 56.2-38.7c18.8-20.5 37.5-51.6 56.2-87.3c18.8-35.8 37.5-73.6 56.3-100.9c18.7-27.3 37.4-44.6 56.2-55.4c18.7-10.7 37.5-15.7 56.2-18.9c18.7-3.2 37.5-4.5 56.2-5.4"/><path d="M67.4 354c18.7-2.6 37.5-6.8 56.2-21c18.7-14.1 37.5-41.4 56.2-85.4c18.8-44 37.5-100 56.2-135.8c18.8-35.8 37.5-53 56.3-62.2c18.7-9.2 37.4-11.7 56.2-13.3c18.7-1.7 37.5-2.1 56.2-2.3c18.7-.3 37.5-.4 56.2-.4"/><path d="M67.4 356.5c18.7-.9 37.5-2.3 56.2-5.5c18.7-3.3 37.5-8.5 56.2-19.5c18.8-11.1 37.5-28.9 56.2-56.6c18.8-27.7 37.5-65.8 56.3-101.3c18.7-35.6 37.4-66.2 56.2-86.3c18.7-20 37.5-30.9 56.2-37.7c18.7-6.8 37.5-9.8 56.2-11.7"/><path d="M67.4 353.8c18.7-2 37.5-5.1 56.2-11.8c18.7-6.8 37.5-17.4 56.2-36.3c18.8-19 37.5-47.5 56.2-81.3c18.8-33.8 37.5-71 56.3-99.2c18.7-28.2 37.4-47.5 56.2-59.9c18.7-12.3 37.5-18.4 56.2-22.3c18.7-4 37.5-5.7 56.2-6.8"/><path d="M67.4 354c18.7-1.8 37.5-4.5 56.2-10.2c18.7-5.7 37.5-14.6 56.2-30.4c18.8-15.8 37.5-39.5 56.2-69.8c18.8-30.3 37.5-66.2 56.3-96.3c18.7-30.2 37.4-53.7 56.2-69.3c18.7-15.7 37.5-24.3 56.2-30c18.7-5.6 37.5-8.3 56.2-10.1"/><path d="M67.4 357.6c18.7-.4 37.5-1 56.2-2.5c18.7-1.4 37.5-3.7 56.2-8.9c18.8-5.2 37.5-13.4 56.2-29.4c18.8-16 37.5-41 56.3-73.8c18.7-32.8 37.4-72 56.2-103.5c18.7-31.4 37.5-54.3 56.2-68.8c18.7-14.5 37.5-21.8 56.2-26.4"/><path d="M67.4 356.2c18.7-1 37.5-2.5 56.2-6c18.7-3.4 37.5-8.9 56.2-20.1c18.8-11.3 37.5-29.1 56.2-56.2c18.8-27.1 37.5-64 56.3-98.6c18.7-34.7 37.4-65 56.2-85.3c18.7-20.2 37.5-31.7 56.2-38.9c18.7-7.2 37.5-10.5 56.2-12.6"/><path d="M67.4 357.8c18.7-.3 37.5-.8 56.2-2.3c18.7-1.6 37.5-3.9 56.2-10.4c18.8-6.6 37.5-17.4 56.2-40c18.8-22.6 37.5-59.3 56.3-100.3c18.7-40.9 37.4-81.5 56.2-107.4c18.7-26 37.5-39.4 56.2-47.4c18.7-7.9 37.5-10.8 56.2-12.7"/><path d="M67.4 354.1c18.7-1.7 37.5-4.3 56.2-9.7c18.7-5.5 37.5-13.8 56.2-28.6c18.8-14.9 37.5-37.2 56.2-66.3c18.8-29 37.5-64.3 56.3-94.8c18.7-30.5 37.4-55.2 56.2-72c18.7-16.7 37.5-26.4 56.2-32.7c18.7-6.3 37.5-9.3 56.2-11.4"/><path d="M67.4 355.5c18.7-1.3 37.5-3.4 56.2-8.2c18.7-4.9 37.5-12.7 56.2-28.3c18.8-15.7 37.5-40.5 56.2-73.7c18.8-33.3 37.5-73.6 56.3-105.8c18.7-32.2 37.4-55.3 56.2-69.8c18.7-14.5 37.5-21.5 56.2-26c18.7-4.4 37.5-6.3 56.2-7.5"/><path d="M67.4 356.2c18.7-1 37.5-2.5 56.2-6c18.7-3.5 37.5-8.9 56.2-19.9c18.8-11 37.5-28.4 56.2-54.9c18.8-26.5 37.5-62.5 56.3-96.9c18.7-34.4 37.4-65 56.2-85.8c18.7-20.7 37.5-32.7 56.2-40.3c18.7-7.7 37.5-11.2 56.2-13.5"/><path d="M67.4 357.7c18.7-.5 37.5-1.1 56.2-3c18.7-2 37.5-5 56.2-13.3c18.8-8.3 37.5-22.5 56.2-49.7c18.8-27.2 37.5-69.4 56.3-110.8c18.7-41.3 37.4-76.8 56.2-98.2c18.7-21.4 37.5-31.3 56.2-37.2c18.7-5.9 37.5-8 56.2-9.4"/><path d="M67.4 352.1c18.7-2.6 37.5-6.5 56.2-14.6c18.7-8.1 37.5-20.7 56.2-41.4c18.8-20.8 37.5-50.7 56.2-83.8c18.8-33.1 37.5-67.6 56.3-93.5c18.7-25.9 37.4-43.4 56.2-54.8c18.7-11.4 37.5-17.2 56.2-21c18.7-3.8 37.5-5.5 56.2-6.7"/><path d="M67.4 357.6c18.7-.4 37.5-.9 56.2-2.4c18.7-1.5 37.5-3.7 56.2-9c18.8-5.4 37.5-13.8 56.2-30.5c18.8-16.7 37.5-43 56.3-77c18.7-33.9 37.4-73.9 56.2-105c18.7-31.2 37.5-52.9 56.2-66.5c18.7-13.5 37.5-20.1 56.2-24.2"/><path d="M67.4 354.7c18.7-1.7 37.5-4.3 56.2-10.5c18.7-6.1 37.5-15.9 56.2-34.6c18.8-18.6 37.5-47.6 56.2-82.9c18.8-35.2 37.5-74.5 56.3-103.7c18.7-29.1 37.4-48.4 56.2-60.3c18.7-12 37.5-17.5 56.2-21.1c18.7-3.5 37.5-5 56.2-6"/><path d="M67.4 354.3c18.7-1.6 37.5-4.1 56.2-8.9c18.7-4.9 37.5-12.2 56.2-25.3c18.8-13.1 37.5-32.5 56.2-58.9c18.8-26.3 37.5-59.4 56.3-90.1c18.7-30.6 37.4-57.6 56.2-76.7c18.7-19.1 37.5-31.1 56.2-39c18.7-7.9 37.5-12 56.2-14.7"/><path d="M67.4 356.7c18.7-.8 37.5-2 56.2-5c18.7-3 37.5-7.6 56.2-18c18.8-10.4 37.5-27.3 56.2-54.5c18.8-27.2 37.5-65.4 56.3-101.8c18.7-36.3 37.4-68.1 56.2-88.9c18.7-20.7 37.5-31.9 56.2-38.8c18.7-7 37.5-10 56.2-11.9"/><path d="M67.4 357.6c18.7-.5 37.5-1.1 56.2-2.9c18.7-1.9 37.5-4.7 56.2-11.8c18.8-7.1 37.5-18.8 56.2-41.4c18.8-22.5 37.5-57.8 56.3-96.7c18.7-38.9 37.4-77.6 56.2-103.4c18.7-25.8 37.5-40.1 56.2-48.7c18.7-8.7 37.5-12.2 56.2-14.4"/><path d="M67.4 351.3c18.7-2.6 37.5-6.4 56.2-13.5c18.7-7.1 37.5-17.6 56.2-34.3c18.8-16.6 37.5-40 56.2-67.9c18.8-27.9 37.5-59.6 56.3-86.8c18.7-27.1 37.4-49.2 56.2-64.8c18.7-15.6 37.5-25.2 56.2-31.6c18.7-6.5 37.5-10 56.2-12.3"/><path d="M67.4 350.4c18.7-2.8 37.5-7 56.2-14.6c18.7-7.7 37.5-18.9 56.2-36.3c18.8-17.5 37.5-41.6 56.2-69.7c18.8-28.1 37.5-59.3 56.3-85.6c18.7-26.4 37.4-47.5 56.2-62.3c18.7-14.9 37.5-24 56.2-30.2c18.7-6.2 37.5-9.5 56.2-11.8"/><path d="M67.4 350.6c18.7-3.2 37.5-8.1 56.2-18.2c18.7-10.1 37.5-25.8 56.2-50.4c18.8-24.5 37.5-58.5 56.2-92.6c18.8-34.1 37.5-66.1 56.3-88.5c18.7-22.4 37.4-36.2 56.2-44.9c18.7-8.8 37.5-13 56.2-15.8c18.7-2.8 37.5-4 56.2-4.8"/><path d="M67.4 354.5c18.7-1.5 37.5-3.8 56.2-8.2c18.7-4.5 37.5-11.2 56.2-23.1c18.8-11.9 37.5-29.5 56.2-54c18.8-24.5 37.5-56.1 56.3-86.6c18.7-30.6 37.4-58.9 56.2-79.6c18.7-20.7 37.5-34.3 56.2-43.4c18.7-9.1 37.5-14 56.2-17.2"/><path d="M67.4 356.4c18.7-.9 37.5-2.3 56.2-5.6c18.7-3.4 37.5-8.6 56.2-19.7c18.8-11.1 37.5-28.8 56.2-56.2c18.8-27.5 37.5-65.2 56.3-100.4c18.7-35.3 37.4-65.9 56.2-86.1c18.7-20.2 37.5-31.3 56.2-38.3c18.7-6.9 37.5-10 56.2-12"/><path d="M67.4 352.1c18.7-2.4 37.5-6.1 56.2-13.3c18.7-7.2 37.5-18.1 56.2-36.1c18.8-18 37.5-43.9 56.2-74.3c18.8-30.4 37.5-64.2 56.3-91.6c18.7-27.5 37.4-48.2 56.2-62.2c18.7-14 37.5-21.9 56.2-27.1c18.7-5.2 37.5-7.8 56.2-9.5"/><path d="M67.4 354.8c18.7-1.4 37.5-3.5 56.2-7.8c18.7-4.3 37.5-10.8 56.2-22.5c18.8-11.8 37.5-29.4 56.2-54.2c18.8-24.8 37.5-56.9 56.3-88c18.7-31.2 37.4-59.9 56.2-80.7c18.7-20.8 37.5-34.2 56.2-43.1c18.7-8.9 37.5-13.6 56.2-16.7"/><path d="M67.4 351.3c18.7-3 37.5-7.6 56.2-17.1c18.7-9.5 37.5-24.4 56.2-48.3c18.8-23.8 37.5-57.4 56.2-91.8c18.8-34.3 37.5-67.3 56.3-90.5c18.7-23.3 37.4-37.6 56.2-46.8c18.7-9.1 37.5-13.5 56.2-16.4c18.7-2.9 37.5-4.1 56.2-4.9"/><path d="M67.4 348.9c18.7-4.4 37.5-11.3 56.2-26.1c18.7-14.8 37.5-38.8 56.2-72.4c18.8-33.5 37.5-75.4 56.2-108.9c18.8-33.6 37.5-57.6 56.3-72.3c18.7-14.8 37.4-21.7 56.2-26.1c18.7-4.3 37.5-6 56.2-7.2c18.7-1.1 37.5-1.5 56.2-1.8"/><path d="M67.4 353.4c18.7-2.4 37.5-6.1 56.2-14.9c18.7-8.8 37.5-23.3 56.2-48.8c18.8-25.4 37.5-63.3 56.2-101.4c18.8-38.1 37.5-73 56.3-95.7c18.7-22.7 37.4-34.9 56.2-42.4c18.7-7.4 37.5-10.5 56.2-12.5c18.7-1.9 37.5-2.7 56.2-3.2"/><path d="M67.4 356.3c18.7-1 37.5-2.6 56.2-6.7c18.7-4.1 37.5-10.6 56.2-25.1c18.8-14.4 37.5-38.3 56.2-72.3c18.8-34 37.5-76.9 56.3-111.1c18.7-34.3 37.4-58.4 56.2-73.1c18.7-14.6 37.5-21.3 56.2-25.5c18.7-4.1 37.5-5.7 56.2-6.8"/><path d="M67.4 354c18.7-1.6 37.5-4 56.2-8.8c18.7-4.7 37.5-11.8 56.2-24.1c18.8-12.3 37.5-30.3 56.2-54.9c18.8-24.6 37.5-55.8 56.3-85.7c18.7-30 37.4-57.6 56.2-77.9c18.7-20.2 37.5-33.6 56.2-42.7c18.7-9 37.5-13.9 56.2-17.3"/><path d="M67.4 352.4c18.7-2.2 37.5-5.5 56.2-11.8c18.7-6.3 37.5-15.6 56.2-31.1c18.8-15.4 37.5-37.5 56.2-65c18.8-27.5 37.5-59.8 56.3-88.2c18.7-28.4 37.4-52.1 56.2-68.8c18.7-16.7 37.5-27.1 56.2-34c18.7-7 37.5-10.7 56.2-13.2"/><path d="M67.4 355.1c18.7-1.5 37.5-3.7 56.2-8.8c18.7-5.1 37.5-13 56.2-28.5c18.8-15.4 37.5-39.4 56.2-71.2c18.8-31.8 37.5-70.4 56.3-102.1c18.7-31.7 37.4-55.5 56.2-70.8c18.7-15.3 37.5-23.1 56.2-28.2c18.7-5 37.5-7.2 56.2-8.6"/><path d="M67.4 348.8c18.7-3.3 37.5-8.3 56.2-17c18.7-8.8 37.5-21.6 56.2-40.7c18.8-19 37.5-44.8 56.2-73.3c18.8-28.5 37.5-58.8 56.3-83.6c18.7-24.8 37.4-44 56.2-57.4c18.7-13.4 37.5-21.5 56.2-27c18.7-5.5 37.5-8.5 56.2-10.5"/><path d="M67.4 353.2c18.7-2.1 37.5-5.3 56.2-11.8c18.7-6.5 37.5-16.5 56.2-33.7c18.8-17.2 37.5-42.5 56.2-73.3c18.8-30.7 37.5-65.9 56.3-94.6c18.7-28.6 37.4-50.4 56.2-64.9c18.7-14.5 37.5-22.5 56.2-27.7c18.7-5.3 37.5-7.8 56.2-9.5"/><path d="M67.4 355.3c18.7-1.2 37.5-3.1 56.2-6.8c18.7-3.7 37.5-9.2 56.2-19.5c18.8-10.3 37.5-25.7 56.2-48.5c18.8-22.7 37.5-53.1 56.3-84.3c18.7-31.1 37.4-61.6 56.2-84.4c18.7-22.8 37.5-38.3 56.2-48.6c18.7-10.4 37.5-16 56.2-19.7"/><path d="M67.4 353.6c18.7-1.9 37.5-4.9 56.2-10.9c18.7-6.1 37.5-15.5 56.2-31.9c18.8-16.5 37.5-41 56.2-71.4c18.8-30.5 37.5-66.1 56.3-95.5c18.7-29.5 37.4-52.2 56.2-67.3c18.7-15.1 37.5-23.5 56.2-28.9c18.7-5.5 37.5-8.1 56.2-9.9"/><path d="M67.4 353.4c18.7-1.9 37.5-4.9 56.2-10.9c18.7-5.9 37.5-15.1 56.2-30.9c18.8-15.8 37.5-39.1 56.2-68.5c18.8-29.3 37.5-64 56.3-93.4c18.7-29.5 37.4-52.9 56.2-68.9c18.7-15.9 37.5-25.1 56.2-31.2c18.7-6 37.5-9 56.2-11"/><path d="M67.4 355.1c18.7-1.5 37.5-3.7 56.2-8.6c18.7-4.9 37.5-12.5 56.2-27.1c18.8-14.7 37.5-37.3 56.2-67.8c18.8-30.4 37.5-68.1 56.3-100.1c18.7-31.9 37.4-56.9 56.2-73.3c18.7-16.4 37.5-25.2 56.2-30.8c18.7-5.7 37.5-8.2 56.2-9.9"/><path d="M67.4 353.9c18.7-2.1 37.5-5.5 56.2-13.8c18.7-8.3 37.5-22.2 56.2-47.3c18.8-25.2 37.5-63.4 56.2-102.4c18.8-39 37.5-74.9 56.3-98.1c18.7-23.1 37.4-35.3 56.2-42.6c18.7-7.4 37.5-10.3 56.2-12.2c18.7-1.9 37.5-2.6 56.2-3.1"/><path d="M67.4 357.8c18.7-.3 37.5-.8 56.2-2.2c18.7-1.4 37.5-3.5 56.2-9.1c18.8-5.6 37.5-14.8 56.2-33.9c18.8-19.2 37.5-50.3 56.3-88.5c18.7-38.2 37.4-80.2 56.2-109.7c18.7-29.5 37.5-47 56.2-57.6c18.7-10.5 37.5-14.8 56.2-17.5"/><path d="M67.4 354.9c18.7-1.6 37.5-4 56.2-9.7c18.7-5.8 37.5-14.9 56.2-32.4c18.8-17.6 37.5-45 56.2-79.4c18.8-34.4 37.5-73.9 56.3-104.1c18.7-30.2 37.4-50.9 56.2-63.8c18.7-12.9 37.5-19 56.2-23c18.7-3.9 37.5-5.5 56.2-6.6"/><path d="M67.4 357.2c18.7-.5 37.5-1.2 56.2-3c18.7-1.7 37.5-4.3 56.2-9.9c18.8-5.6 37.5-14.2 56.2-29.9c18.8-15.6 37.5-39.2 56.3-69.5c18.7-30.4 37.4-66.7 56.2-97.1c18.7-30.4 37.5-54.1 56.2-69.9c18.7-15.7 37.5-24.4 56.2-30.1"/><path d="M67.4 357.5c18.7-.4 37.5-1.1 56.2-3c18.7-1.9 37.5-4.9 56.2-12.2c18.8-7.3 37.5-19.4 56.2-42.2c18.8-22.8 37.5-58.2 56.3-96.8c18.7-38.6 37.4-76.8 56.2-102.3c18.7-25.5 37.5-39.7 56.2-48.3c18.7-8.6 37.5-12.1 56.2-14.4"/><path d="M67.4 348.1c18.7-3.8 37.5-9.5 56.2-20c18.7-10.5 37.5-26.1 56.2-49c18.8-22.8 37.5-53.1 56.2-84c18.8-30.9 37.5-61.1 56.3-83.6c18.7-22.6 37.4-37.9 56.2-48.2c18.7-10.3 37.5-15.9 56.2-19.7c18.7-3.7 37.5-5.5 56.2-6.8"/><path d="M67.4 354.3c18.7-1.5 37.5-3.9 56.2-8.5c18.7-4.7 37.5-11.6 56.2-24c18.8-12.4 37.5-30.8 56.2-56c18.8-25.3 37.5-57.4 56.3-87.9c18.7-30.5 37.4-58.3 56.2-78.3c18.7-20.1 37.5-33 56.2-41.6c18.7-8.6 37.5-13.2 56.2-16.3"/><path d="M67.4 357.1c18.7-.6 37.5-1.5 56.2-4c18.7-2.5 37.5-6.3 56.2-15.3c18.8-9 37.5-23.6 56.2-49c18.8-25.4 37.5-62.8 56.3-100.4c18.7-37.6 37.4-72.2 56.2-94.9c18.7-22.7 37.5-35.1 56.2-42.7c18.7-7.6 37.5-10.8 56.2-12.8"/><path d="M67.4 355.4c18.7-1.3 37.5-3.2 56.2-7.3c18.7-4.2 37.5-10.5 56.2-22.7c18.8-12.2 37.5-30.9 56.2-57.8c18.8-26.8 37.5-61.8 56.3-94.5c18.7-32.7 37.4-61.3 56.2-81c18.7-19.7 37.5-31.4 56.2-39c18.7-7.5 37.5-11.2 56.2-13.6"/><path d="M67.4 356.7c18.7-.8 37.5-1.9 56.2-4.6c18.7-2.7 37.5-6.8 56.2-15.6c18.8-8.8 37.5-22.6 56.2-45.5c18.8-22.9 37.5-55.8 56.3-90.6c18.7-34.7 37.4-69 56.2-93.4c18.7-24.3 37.5-39.5 56.2-49.2c18.7-9.6 37.5-14.2 56.2-17.2"/><path d="M67.4 348.7c18.7-3.8 37.5-9.4 56.2-20c18.7-10.6 37.5-26.6 56.2-50.2c18.8-23.6 37.5-55.1 56.2-86.9c18.8-31.7 37.5-62.1 56.3-84.4c18.7-22.3 37.4-37 56.2-46.7c18.7-9.7 37.5-14.8 56.2-18.1c18.7-3.4 37.5-5 56.2-6.1"/><path d="M67.4 352c18.7-2.2 37.5-5.4 56.2-11.4c18.7-6 37.5-14.7 56.2-28.8c18.8-14.1 37.5-34 56.2-59.1c18.8-25.2 37.5-55.3 56.3-83.2c18.7-27.8 37.4-52.7 56.2-71c18.7-18.3 37.5-30.6 56.2-39c18.7-8.4 37.5-13.2 56.2-16.5"/><path d="M67.4 354.4c18.7-2 37.5-5 56.2-12.4c18.7-7.4 37.5-19.5 56.2-42.4c18.8-22.8 37.5-58.1 56.2-96.6c18.8-38.4 37.5-76.4 56.3-101.8c18.7-25.4 37.4-39.7 56.2-48.3c18.7-8.6 37.5-12.2 56.2-14.5c18.7-2.3 37.5-3.1 56.2-3.7"/><path d="M67.4 354.9c18.7-1.4 37.5-3.5 56.2-8c18.7-4.5 37.5-11.3 56.2-24.1c18.8-12.7 37.5-32.1 56.2-59c18.8-27 37.5-61.4 56.3-93.3c18.7-31.8 37.4-59.5 56.2-78.7c18.7-19.2 37.5-30.8 56.2-38.3c18.7-7.5 37.5-11.3 56.2-13.7"/><path d="M67.4 356.7c18.7-.9 37.5-2.1 56.2-5.2c18.7-3 37.5-7.8 56.2-18.2c18.8-10.4 37.5-27.1 56.2-53.9c18.8-26.9 37.5-64.4 56.3-100.4c18.7-36 37.4-67.8 56.2-88.7c18.7-21 37.5-32.6 56.2-39.8c18.7-7.2 37.5-10.3 56.2-12.4"/><path d="M67.4 355.7c18.7-1.3 37.5-3.1 56.2-7.3c18.7-4.3 37.5-10.9 56.2-24c18.8-13.2 37.5-33.8 56.2-63.2c18.8-29.4 37.5-67.3 56.3-100.7c18.7-33.3 37.4-60.5 56.2-78.4c18.7-17.8 37.5-27.5 56.2-33.6c18.7-6.2 37.5-8.9 56.2-10.8"/><path d="M67.4 355.4c18.7-1.8 37.5-4.7 56.2-15.8c18.7-11.1 37.5-32.8 56.2-74.3c18.8-41.6 37.5-101.4 56.2-142c18.8-40.6 37.5-61.2 56.3-71.8c18.7-10.6 37.4-13.3 56.2-15.1c18.7-1.8 37.5-2.2 56.2-2.5c18.7-.2 37.5-.3 56.2-.3"/><path d="M67.4 354.6c18.7-1.6 37.5-4 56.2-9.1c18.7-5 37.5-12.8 56.2-27.1c18.8-14.3 37.5-36 56.2-64.9c18.8-28.9 37.5-64.6 56.3-95.8c18.7-31.3 37.4-56.8 56.2-74.1c18.7-17.2 37.5-27.1 56.2-33.5c18.7-6.4 37.5-9.5 56.2-11.5"/><path d="M67.4 354.6c18.7-1.4 37.5-3.6 56.2-7.7c18.7-4.2 37.5-10.4 56.2-21.5c18.8-11.1 37.5-27.4 56.2-50.5c18.8-23.1 37.5-53.2 56.3-83.4c18.7-30.2 37.4-59.3 56.2-81.1c18.7-21.8 37.5-36.8 56.2-46.9c18.7-10.2 37.5-15.8 56.2-19.5"/><path d="M67.4 357.6c18.7-.4 37.5-1 56.2-2.6c18.7-1.7 37.5-4.2 56.2-10.3c18.8-6.1 37.5-16 56.2-35.3c18.8-19.3 37.5-49.7 56.3-86.3c18.7-36.6 37.4-76.7 56.2-105.5c18.7-28.9 37.5-47 56.2-58.1c18.7-11.1 37.5-16 56.2-19.1"/><path d="M67.4 353.6c18.7-2.1 37.5-5.5 56.2-13.2c18.7-7.7 37.5-20.1 56.2-42.3c18.8-22.1 37.5-55.5 56.2-92.1c18.8-36.5 37.5-73.4 56.3-99.1c18.7-25.6 37.4-41.1 56.2-50.6c18.7-9.6 37.5-13.9 56.2-16.6c18.7-2.7 37.5-3.8 56.2-4.6"/><path d="M67.4 355.8c18.7-1.1 37.5-2.9 56.2-7c18.7-4 37.5-10.4 56.2-23.2c18.8-12.8 37.5-32.9 56.2-62.1c18.8-29.1 37.5-67.1 56.3-100.8c18.7-33.7 37.4-61.5 56.2-79.7c18.7-18.2 37.5-28.1 56.2-34.3c18.7-6.3 37.5-9.1 56.2-10.9"/><path d="M67.4 354.3c18.7-1.9 37.5-4.8 56.2-11.8c18.7-7 37.5-18.4 56.2-39.6c18.8-21.1 37.5-53.8 56.2-90.7c18.8-37 37.5-75.4 56.3-102.3c18.7-26.9 37.4-43.1 56.2-53.1c18.7-9.9 37.5-14.3 56.2-17.1c18.7-2.8 37.5-3.9 56.2-4.6"/><path d="M67.4 357.6c18.7-.4 37.5-1 56.2-2.8c18.7-1.7 37.5-4.3 56.2-11.1c18.8-6.7 37.5-17.7 56.2-39.1c18.8-21.4 37.5-55.1 56.3-93.5c18.7-38.3 37.4-77.9 56.2-104.8c18.7-26.9 37.5-42.4 56.2-51.8c18.7-9.4 37.5-13.2 56.2-15.7"/><path d="M67.4 355.9c18.7-1 37.5-2.5 56.2-5.4c18.7-3 37.5-7.4 56.2-15.7c18.8-8.3 37.5-20.7 56.2-40.1c18.8-19.3 37.5-46.1 56.3-76.2c18.7-30.1 37.4-62.2 56.2-87.9c18.7-25.7 37.5-44.8 56.2-57.9c18.7-13 37.5-20.4 56.2-25.4"/><path d="M67.4 352.9c18.7-3.2 37.5-8.5 56.2-24.8c18.7-16.4 37.5-47.6 56.2-93.1c18.8-45.4 37.5-98.7 56.2-131.3c18.8-32.7 37.5-47.6 56.3-55.8c18.7-8.2 37.4-10.4 56.2-11.9c18.7-1.5 37.5-1.8 56.2-2.1c18.7-.2 37.5-.3 56.2-.3"/><path d="M67.4 358.3c18.7 0 37.5-.2 56.2-.5c18.7-.4 37.5-1 56.2-2.9c18.8-1.9 37.5-4.8 56.2-13.3c18.8-8.5 37.5-23.1 56.3-51.7c18.7-28.6 37.4-73.2 56.2-115.4c18.7-42.2 37.5-76.7 56.2-96.9c18.7-20.1 37.5-28.8 56.2-34"/><path d="M67.4 353.1c18.7-2.1 37.5-5.1 56.2-11.2c18.7-6.1 37.5-15.4 56.2-31.1c18.8-15.7 37.5-38.7 56.2-67.4c18.8-28.8 37.5-62.6 56.3-91.7c18.7-29.1 37.4-52.6 56.2-68.8c18.7-16.2 37.5-25.8 56.2-32.1c18.7-6.3 37.5-9.5 56.2-11.7"/><path d="M67.4 357.1c18.7-.6 37.5-1.6 56.2-3.9c18.7-2.3 37.5-5.9 56.2-14c18.8-8.1 37.5-21.2 56.2-43.9c18.8-22.8 37.5-56.6 56.3-92.9c18.7-36.2 37.4-72.2 56.2-97.2c18.7-25 37.5-40 56.2-49.3c18.7-9.3 37.5-13.5 56.2-16.2"/><path d="M67.4 343.6c18.7-6.4 37.5-16.7 56.2-36c18.7-19.4 37.5-49.3 56.2-84.9c18.8-35.6 37.5-74.6 56.2-103.1c18.8-28.5 37.5-47 56.3-58.4c18.7-11.4 37.4-16.7 56.2-20c18.7-3.4 37.5-4.8 56.2-5.7c18.7-.9 37.5-1.2 56.2-1.5"/><path d="M67.4 356.6c18.7-.8 37.5-2.1 56.2-5c18.7-2.9 37.5-7.4 56.2-16.9c18.8-9.6 37.5-24.7 56.2-49.1c18.8-24.4 37.5-58.9 56.3-94c18.7-35.1 37.4-68.2 56.2-91.2c18.7-22.9 37.5-36.7 56.2-45.4c18.7-8.6 37.5-12.7 56.2-15.3"/><path d="M67.4 354.8c18.7-1.5 37.5-3.9 56.2-9.2c18.7-5.2 37.5-13.4 56.2-29c18.8-15.6 37.5-39.5 56.2-70.9c18.8-31.4 37.5-69.3 56.3-100.5c18.7-31.3 37.4-55 56.2-70.4c18.7-15.3 37.5-23.4 56.2-28.6c18.7-5.2 37.5-7.5 56.2-9.1"/><path d="M67.4 356.6c18.7-.9 37.5-2.3 56.2-6c18.7-3.8 37.5-9.8 56.2-23.6c18.8-13.8 37.5-36.9 56.2-70.9c18.8-34.1 37.5-78.1 56.3-113.3c18.7-35.2 37.4-60 56.2-74.9c18.7-15 37.5-21.6 56.2-25.7c18.7-4.1 37.5-5.6 56.2-6.6"/><path d="M67.4 354.2c18.7-1.7 37.5-4.4 56.2-10c18.7-5.6 37.5-14.3 56.2-30.1c18.8-15.8 37.5-39.6 56.2-70.1c18.8-30.5 37.5-66.9 56.3-97.2c18.7-30.4 37.4-54 56.2-69.5c18.7-15.6 37.5-24.2 56.2-29.7c18.7-5.6 37.5-8.2 56.2-9.9"/><path d="M67.4 354.6c18.7-1.8 37.5-4.5 56.2-10.8c18.7-6.4 37.5-16.6 56.2-35.9c18.8-19.4 37.5-49.4 56.2-85.2c18.8-35.7 37.5-74.9 56.3-103.4c18.7-28.6 37.4-47 56.2-58.4c18.7-11.3 37.5-16.5 56.2-19.9c18.7-3.3 37.5-4.6 56.2-5.5"/><path d="M67.4 352.5c18.7-2.7 37.5-6.8 56.2-16.3c18.7-9.4 37.5-24.7 56.2-50.4c18.8-25.6 37.5-62.7 56.2-99.6c18.8-36.8 37.5-70.5 56.3-92.7c18.7-22.3 37.4-34.6 56.2-42.2c18.7-7.7 37.5-11 56.2-13.1c18.7-2.1 37.5-2.9 56.2-3.5"/><path d="M67.4 344.4c18.7-5.9 37.5-15 56.2-32.1c18.7-17.1 37.5-43.3 56.2-76.1c18.8-32.9 37.5-71 56.2-101.1c18.8-30.1 37.5-51.7 56.3-65.5c18.7-13.8 37.4-20.8 56.2-25.3c18.7-4.5 37.5-6.5 56.2-7.8c18.7-1.3 37.5-1.8 56.2-2.2"/><path d="M67.4 354.3c18.7-1.6 37.5-3.9 56.2-8.6c18.7-4.6 37.5-11.5 56.2-23.8c18.8-12.2 37.5-30.3 56.2-55.1c18.8-24.9 37.5-56.5 56.3-86.8c18.7-30.4 37.4-58.2 56.2-78.5c18.7-20.3 37.5-33.6 56.2-42.5c18.7-8.8 37.5-13.6 56.2-16.8"/><path d="M67.4 354.9c18.7-1.5 37.5-3.6 56.2-8.2c18.7-4.6 37.5-11.5 56.2-24.5c18.8-13 37.5-32.7 56.2-59.9c18.8-27.3 37.5-62 56.3-93.8c18.7-31.7 37.4-59.1 56.2-78c18.7-18.9 37.5-30.2 56.2-37.6c18.7-7.3 37.5-10.9 56.2-13.3"/><path d="M67.4 353.4c18.7-2.2 37.5-5.5 56.2-12.7c18.7-7.1 37.5-18.4 56.2-38.1c18.8-19.7 37.5-49.1 56.2-83c18.8-33.9 37.5-70.4 56.3-97.8c18.7-27.4 37.4-45.9 56.2-57.7c18.7-11.8 37.5-17.7 56.2-21.5c18.7-3.8 37.5-5.4 56.2-6.5"/><path d="M67.4 358c18.7-.3 37.5-.7 56.2-1.9c18.7-1.2 37.5-3 56.2-8.3c18.8-5.3 37.5-14 56.2-33.4c18.8-19.5 37.5-52.1 56.3-92.5c18.7-40.4 37.4-84.3 56.2-113.6c18.7-29.4 37.5-45.6 56.2-55c18.7-9.5 37.5-13 56.2-15.3"/><path d="M67.4 354.7c18.7-1.6 37.5-4 56.2-9.1c18.7-5.2 37.5-13.3 56.2-28.3c18.8-15.1 37.5-38.1 56.2-68.4c18.8-30.4 37.5-67.4 56.3-98.6c18.7-31.3 37.4-55.8 56.2-72c18.7-16.1 37.5-24.9 56.2-30.6c18.7-5.7 37.5-8.3 56.2-10"/><path d="M67.4 347.5c18.7-3.8 37.5-9.6 56.2-19.8c18.7-10.1 37.5-25.1 56.2-46.6c18.8-21.6 37.5-50.1 56.2-79.7c18.8-29.7 37.5-59.4 56.3-82.4c18.7-23 37.4-39.6 56.2-50.9c18.7-11.3 37.5-17.8 56.2-22.1c18.7-4.4 37.5-6.7 56.2-8.2"/><path d="M67.4 353.4c18.7-2.1 37.5-5.2 56.2-11.6c18.7-6.5 37.5-16.5 56.2-33.9c18.8-17.3 37.5-43.1 56.2-74.4c18.8-31.3 37.5-67 56.3-95.8c18.7-28.8 37.4-50.3 56.2-64.5c18.7-14.2 37.5-21.9 56.2-26.9c18.7-5 37.5-7.4 56.2-8.9"/><path d="M67.4 354.8c18.7-1.5 37.5-3.7 56.2-8.6c18.7-4.9 37.5-12.4 56.2-26.5c18.8-14 37.5-35.5 56.2-64.6c18.8-29 37.5-65.2 56.3-96.9c18.7-31.7 37.4-57.6 56.2-74.9c18.7-17.4 37.5-27.2 56.2-33.6c18.7-6.3 37.5-9.3 56.2-11.3"/><path d="M67.4 353.9c18.7-1.7 37.5-4.2 56.2-9c18.7-4.9 37.5-12.1 56.2-24.7c18.8-12.6 37.5-31 56.2-56c18.8-24.9 37.5-56.3 56.3-86.2c18.7-29.9 37.4-57.1 56.2-77c18.7-19.9 37.5-33 56.2-41.8c18.7-8.8 37.5-13.6 56.2-16.8"/><path d="M67.4 356.7c18.7-.7 37.5-1.7 56.2-3.7c18.7-2 37.5-4.9 56.2-10.5c18.8-5.6 37.5-13.9 56.2-27.9c18.8-13.9 37.5-34.1 56.3-60.2c18.7-26 37.4-57.7 56.2-86.7c18.7-29 37.5-54.4 56.2-72.8c18.7-18.3 37.5-30.2 56.2-38.1"/><path d="M67.4 353.3c18.7-2.1 37.5-5.3 56.2-12c18.7-6.7 37.5-17.1 56.2-35.3c18.8-18.1 37.5-45 56.2-77.2c18.8-32.1 37.5-68.1 56.3-96.5c18.7-28.4 37.4-48.9 56.2-62.3c18.7-13.3 37.5-20.4 56.2-25c18.7-4.6 37.5-6.7 56.2-8.1"/><path d="M67.4 354.4c18.7-1.5 37.5-3.7 56.2-8.1c18.7-4.4 37.5-10.9 56.2-22.5c18.8-11.6 37.5-28.7 56.2-52.5c18.8-23.8 37.5-54.5 56.3-84.8c18.7-30.2 37.4-58.7 56.2-79.9c18.7-21.1 37.5-35.4 56.2-45c18.7-9.6 37.5-14.8 56.2-18.4"/><path d="M67.4 357.2c18.7-.6 37.5-1.5 56.2-3.9c18.7-2.3 37.5-5.9 56.2-14.2c18.8-8.3 37.5-21.8 56.2-45.6c18.8-23.8 37.5-59.1 56.3-96.3c18.7-37.1 37.4-72.9 56.2-97.1c18.7-24.2 37.5-38.1 56.2-46.7c18.7-8.5 37.5-12.2 56.2-14.6"/><path d="M67.4 356.8c18.7-.7 37.5-1.8 56.2-4.2c18.7-2.4 37.5-6.1 56.2-13.8c18.8-7.7 37.5-19.7 56.2-40c18.8-20.3 37.5-50 56.3-83.4c18.7-33.4 37.4-68.7 56.2-95.2c18.7-26.6 37.5-44.5 56.2-56.1c18.7-11.6 37.5-17.4 56.2-21.2"/><path d="M67.4 356.4c18.7-.8 37.5-2.1 56.2-4.9c18.7-2.7 37.5-6.9 56.2-15.3c18.8-8.5 37.5-21.4 56.2-42.5c18.8-21 37.5-50.9 56.3-83.6c18.7-32.7 37.4-66.4 56.2-91.8c18.7-25.4 37.5-42.7 56.2-54c18.7-11.3 37.5-17.2 56.2-21"/><path d="M67.4 351.5c18.7-2.4 37.5-5.9 56.2-12.3c18.7-6.5 37.5-15.9 56.2-30.8c18.8-14.9 37.5-35.9 56.2-61.7c18.8-25.9 37.5-56.3 56.3-83.7c18.7-27.5 37.4-51.3 56.2-68.7c18.7-17.5 37.5-28.9 56.2-36.8c18.7-7.8 37.5-12.2 56.2-15.2"/><path d="M67.4 355.9c18.7-1.1 37.5-2.7 56.2-6.2c18.7-3.6 37.5-9 56.2-19.8c18.8-10.7 37.5-27.4 56.2-52.6c18.8-25.1 37.5-59.2 56.3-92.6c18.7-33.4 37.4-64.2 56.2-85.8c18.7-21.6 37.5-34.8 56.2-43.3c18.7-8.5 37.5-12.7 56.2-15.4"/><path d="M67.4 355.8c18.7-1.1 37.5-2.7 56.2-6.3c18.7-3.5 37.5-8.8 56.2-19.3c18.8-10.5 37.5-26.5 56.2-50.7c18.8-24.2 37.5-57 56.3-89.9c18.7-32.8 37.4-63.8 56.2-86.1c18.7-22.2 37.5-36.3 56.2-45.5c18.7-9.2 37.5-13.8 56.2-16.8"/><path d="M67.4 350.8c18.7-3.3 37.5-8.3 56.2-18.7c18.7-10.4 37.5-26.7 56.2-52.3c18.8-25.6 37.5-61 56.2-95.6c18.8-34.7 37.5-66.3 56.3-88c18.7-21.7 37.4-34.5 56.2-42.6c18.7-8.1 37.5-11.8 56.2-14.3c18.7-2.4 37.5-3.5 56.2-4.2"/><path d="M67.4 358.4c18.7 0 37.5-.1 56.2-.3c18.7-.2 37.5-.5 56.2-1.6c18.8-1.1 37.5-2.8 56.2-8.5c18.8-5.7 37.5-15.4 56.3-38.8c18.7-23.5 37.4-64.4 56.2-109.8c18.7-45.4 37.5-88.1 56.2-112.9c18.7-24.8 37.5-35.5 56.2-41.6"/><path d="M67.4 352c18.7-2.4 37.5-6 56.2-13c18.7-7 37.5-17.5 56.2-34.8c18.8-17.2 37.5-41.9 56.2-71.3c18.8-29.4 37.5-62.6 56.3-90.3c18.7-27.6 37.4-49.2 56.2-64c18.7-14.8 37.5-23.5 56.2-29.3c18.7-5.7 37.5-8.6 56.2-10.6"/><path d="M67.4 346.9c18.7-4.1 37.5-10.1 56.2-20.7c18.7-10.6 37.5-26.1 56.2-48.1c18.8-22 37.5-50.9 56.2-80.4c18.8-29.6 37.5-58.8 56.3-81.3c18.7-22.5 37.4-38.5 56.2-49.4c18.7-10.9 37.5-17.2 56.2-21.4c18.7-4.3 37.5-6.5 56.2-7.9"/><path d="M67.4 356.9c18.7-.7 37.5-1.8 56.2-4.2c18.7-2.4 37.5-6.2 56.2-14.3c18.8-8.1 37.5-20.9 56.2-42.6c18.8-21.8 37.5-53.6 56.3-88.3c18.7-34.8 37.4-70.2 56.2-95.7c18.7-25.5 37.5-41.8 56.2-52.2c18.7-10.3 37.5-15.2 56.2-18.4"/><path d="M67.4 356.9c18.7-.8 37.5-2 56.2-5.8c18.7-3.8 37.5-10 56.2-25.4c18.8-15.5 37.5-42.4 56.2-81.1c18.8-38.6 37.5-86.4 56.3-120.5c18.7-34.2 37.4-54.7 56.2-66.4c18.7-11.7 37.5-16.1 56.2-18.8c18.7-2.8 37.5-3.7 56.2-4.3"/><path d="M67.4 354.5c18.7-1.6 37.5-4.1 56.2-9.6c18.7-5.4 37.5-13.9 56.2-29.6c18.8-15.7 37.5-39.6 56.2-70.5c18.8-31 37.5-68.1 56.3-98.9c18.7-30.7 37.4-54.4 56.2-69.9c18.7-15.4 37.5-23.8 56.2-29.1c18.7-5.4 37.5-7.9 56.2-9.5"/><path d="M67.4 355.9c18.7-1.1 37.5-2.8 56.2-6.8c18.7-4 37.5-10.2 56.2-23c18.8-12.7 37.5-33 56.2-62.4c18.8-29.4 37.5-67.9 56.3-101.9c18.7-34 37.4-61.8 56.2-79.8c18.7-18.1 37.5-27.8 56.2-33.9c18.7-6.1 37.5-8.8 56.2-10.5"/><path d="M67.4 353.3c18.7-2 37.5-4.8 56.2-10.3c18.7-5.4 37.5-13.6 56.2-27.5c18.8-13.8 37.5-33.9 56.2-60c18.8-26.1 37.5-58.1 56.3-87.3c18.7-29.3 37.4-55 56.2-73.5c18.7-18.4 37.5-30.2 56.2-38.2c18.7-7.9 37.5-12.2 56.2-15.1"/><path d="M67.4 355.8c18.7-1.8 37.5-4.4 56.2-15.6c18.7-11.3 37.5-33.9 56.2-78.1c18.8-44.2 37.5-107.1 56.2-146.9c18.8-39.9 37.5-57.8 56.3-66.9c18.7-9.2 37.4-11.2 56.2-12.6c18.7-1.4 37.5-1.7 56.2-1.9c18.7-.2 37.5-.2 56.2-.3"/><path d="M67.4 356.9c18.7-.8 37.5-1.9 56.2-4.6c18.7-2.8 37.5-7.2 56.2-16.9c18.8-9.8 37.5-25.7 56.2-51.9c18.8-26.2 37.5-63.8 56.3-100.5c18.7-36.7 37.4-69.7 56.2-91.4c18.7-21.7 37.5-33.6 56.2-41c18.7-7.4 37.5-10.5 56.2-12.5"/><path d="M67.4 354.1c18.7-1.8 37.5-4.4 56.2-10c18.7-5.5 37.5-14 56.2-29.2c18.8-15.3 37.5-38.1 56.2-67.6c18.8-29.5 37.5-65 56.3-95.3c18.7-30.4 37.4-54.7 56.2-71c18.7-16.4 37.5-25.7 56.2-31.7c18.7-6.1 37.5-9 56.2-10.9"/><path d="M67.4 351.3c18.7-2.6 37.5-6.3 56.2-13.2c18.7-6.9 37.5-17 56.2-33c18.8-16.1 37.5-38.5 56.2-65.6c18.8-27.1 37.5-58.3 56.3-85.5c18.7-27.3 37.4-50 56.2-66.2c18.7-16.3 37.5-26.6 56.2-33.5c18.7-7 37.5-10.8 56.2-13.4"/><path d="M67.4 356.6c18.7-1 37.5-2.4 56.2-6.6c18.7-4.2 37.5-11 56.2-26.8c18.8-15.8 37.5-42.7 56.2-80.2c18.8-37.4 37.5-83 56.3-116.4c18.7-33.5 37.4-54.4 56.2-66.6c18.7-12.3 37.5-17.2 56.2-20.3c18.7-3 37.5-4.1 56.2-4.8"/><path d="M67.4 352.2c18.7-2.4 37.5-5.9 56.2-12.6c18.7-6.8 37.5-16.9 56.2-33.5c18.8-16.6 37.5-40.4 56.2-69.1c18.8-28.7 37.5-61.7 56.3-89.6c18.7-28 37.4-50.3 56.2-65.8c18.7-15.5 37.5-24.7 56.2-30.9c18.7-6.1 37.5-9.3 56.2-11.5"/><path d="M67.4 353.4c18.7-1.9 37.5-4.7 56.2-10.1c18.7-5.4 37.5-13.4 56.2-27.2c18.8-13.7 37.5-33.7 56.2-59.9c18.8-26.2 37.5-58.2 56.3-87.7c18.7-29.5 37.4-55.3 56.2-73.8c18.7-18.6 37.5-30.4 56.2-38.3c18.7-8 37.5-12.2 56.2-15.1"/><path d="M67.4 345.6c18.7-3.5 37.5-8.5 56.2-16.1c18.7-7.7 37.5-18.1 56.2-32.5c18.8-14.5 37.5-33.1 56.2-54.6c18.8-21.6 37.5-46 56.3-69.1c18.7-23 37.4-44.4 56.2-61.5c18.7-17.2 37.5-30.4 56.2-40.1c18.7-9.8 37.5-16.3 56.2-21"/><path d="M67.4 349.5c18.7-2.9 37.5-7.1 56.2-14c18.7-7 37.5-17 56.2-31.9c18.8-15 37.5-35.2 56.2-59.4c18.8-24.2 37.5-52.1 56.3-77.8c18.7-25.7 37.4-48.6 56.2-65.9c18.7-17.4 37.5-29.6 56.2-38.2c18.7-8.5 37.5-13.7 56.2-17.3"/><path d="M67.4 357.7c18.7-.4 37.5-.9 56.2-2.4c18.7-1.4 37.5-3.6 56.2-9c18.8-5.3 37.5-13.8 56.2-30.8c18.8-17.1 37.5-44.1 56.3-78.9c18.7-34.7 37.4-75.3 56.2-106.3c18.7-31 37.5-52.1 56.2-65.1c18.7-13.1 37.5-19.2 56.2-23"/><path d="M67.4 354.8c18.7-1.6 37.5-4.1 56.2-10.1c18.7-5.9 37.5-15.3 56.2-33.3c18.8-18.1 37.5-46.3 56.2-81.1c18.8-34.8 37.5-74.2 56.3-104c18.7-29.7 37.4-49.7 56.2-62.1c18.7-12.5 37.5-18.4 56.2-22.1c18.7-3.8 37.5-5.3 56.2-6.3"/><path d="M67.4 354.2c18.7-1.7 37.5-4.4 56.2-10.2c18.7-5.8 37.5-14.8 56.2-31.2c18.8-16.4 37.5-41.2 56.2-72.7c18.8-31.5 37.5-68.4 56.3-98.6c18.7-30.1 37.4-52.8 56.2-67.6c18.7-14.8 37.5-22.7 56.2-27.7c18.7-5.1 37.5-7.4 56.2-9"/><path d="M67.4 354.9c18.7-1.4 37.5-3.6 56.2-8.3c18.7-4.8 37.5-12 56.2-25.6c18.8-13.6 37.5-34.4 56.2-62.9c18.8-28.4 37.5-64.2 56.3-96.1c18.7-31.9 37.4-58.4 56.2-76.4c18.7-17.9 37.5-28.2 56.2-34.9c18.7-6.7 37.5-9.9 56.2-12"/><path d="M67.4 358.4c18.7  37.5 0 56.2-.2c18.7-.2 37.5-.5 56.2-1.7c18.8-1.2 37.5-2.9 56.2-9.3c18.8-6.5 37.5-17.8 56.3-45.2c18.7-27.5 37.4-75.3 56.2-122.5c18.7-47.2 37.5-85.5 56.2-106.1c18.7-20.5 37.5-27.9 56.2-32.3"/><path d="M67.4 349.8c18.7-4.5 37.5-11.9 56.2-30.1c18.7-18.2 37.5-50 56.2-91.5c18.8-41.5 37.5-88.3 56.2-119.2c18.8-30.8 37.5-47.3 56.3-56.7c18.7-9.4 37.4-12.7 56.2-14.8c18.7-2.1 37.5-2.8 56.2-3.2c18.7-.4 37.5-.5 56.2-.6"/><path d="M67.4 351.1c18.7-2.8 37.5-6.9 56.2-14.7c18.7-7.8 37.5-19.5 56.2-38.2c18.8-18.6 37.5-44.8 56.2-74.8c18.8-30 37.5-62.7 56.3-89.1c18.7-26.4 37.4-46.3 56.2-59.9c18.7-13.6 37.5-21.4 56.2-26.6c18.7-5.2 37.5-7.8 56.2-9.6"/><path d="M67.4 357.8c18.7-.3 37.5-.8 56.2-2.1c18.7-1.3 37.5-3.3 56.2-8.4c18.8-5.1 37.5-13.2 56.2-30c18.8-16.7 37.5-43.8 56.3-79.3c18.7-35.4 37.4-77.1 56.2-108.7c18.7-31.6 37.5-52.6 56.2-65.5c18.7-12.8 37.5-18.6 56.2-22.3"/><path d="M67.4 355.2c18.7-1.5 37.5-3.8 56.2-9.5c18.7-5.6 37.5-14.7 56.2-32.6c18.8-18 37.5-46.5 56.2-82.1c18.8-35.6 37.5-76.1 56.3-106.3c18.7-30.1 37.4-49.9 56.2-62.1c18.7-12.2 37.5-17.7 56.2-21.2c18.7-3.6 37.5-5 56.2-5.9"/><path d="M67.4 354.3c18.7-1.9 37.5-4.7 56.2-11.1c18.7-6.4 37.5-16.5 56.2-35.2c18.8-18.8 37.5-47.5 56.2-82c18.8-34.4 37.5-72.7 56.3-101.5c18.7-28.7 37.4-48.1 56.2-60.3c18.7-12.2 37.5-18.1 56.2-21.9c18.7-3.8 37.5-5.3 56.2-6.4"/><path d="M67.4 354.8c18.7-1.3 37.5-3.3 56.2-7.3c18.7-3.9 37.5-9.7 56.2-20.2c18.8-10.5 37.5-26 56.2-48.4c18.8-22.3 37.5-51.7 56.3-81.9c18.7-30.2 37.4-59.9 56.2-82.5c18.7-22.6 37.5-38.4 56.2-49.1c18.7-10.7 37.5-16.7 56.2-20.7"/><path d="M67.4 356.4c18.7-.9 37.5-2.3 56.2-5.8c18.7-3.5 37.5-9.1 56.2-21.1c18.8-12.1 37.5-31.6 56.2-61.3c18.8-29.8 37.5-69.8 56.3-105.3c18.7-35.5 37.4-64.2 56.2-82.5c18.7-18.3 37.5-27.7 56.2-33.5c18.7-5.9 37.5-8.3 56.2-9.9"/><path d="M67.4 358c18.7-.3 37.5-.7 56.2-1.9c18.7-1.2 37.5-3.1 56.2-8.4c18.8-5.4 37.5-14.2 56.2-33.9c18.8-19.7 37.5-52.7 56.3-93.3c18.7-40.5 37.4-84.2 56.2-113.3c18.7-29.1 37.5-45 56.2-54.3c18.7-9.3 37.5-12.8 56.2-15"/><path d="M67.4 345.7c18.7-3.4 37.5-8.2 56.2-15.4c18.7-7.2 37.5-17 56.2-30.5c18.8-13.5 37.5-30.8 56.2-51.2c18.8-20.4 37.5-43.7 56.3-66.3c18.7-22.7 37.4-44.2 56.2-62.1c18.7-17.8 37.5-31.9 56.2-42.6c18.7-10.7 37.5-18.1 56.2-23.5"/><path d="M67.4 353.3c18.7-1.9 37.5-4.7 56.2-10c18.7-5.4 37.5-13.3 56.2-26.7c18.8-13.5 37.5-32.9 56.2-58.4c18.8-25.5 37.5-56.9 56.3-86.1c18.7-29.3 37.4-55.3 56.2-74.3c18.7-19 37.5-31.4 56.2-39.7c18.7-8.4 37.5-12.9 56.2-16"/><path d="M67.4 353.8c18.7-2 37.5-5.1 56.2-11.9c18.7-6.9 37.5-17.7 56.2-37.3c18.8-19.5 37.5-48.9 56.2-83.4c18.8-34.4 37.5-71.8 56.3-99.7c18.7-27.9 37.4-46.5 56.2-58.2c18.7-11.8 37.5-17.5 56.2-21.1c18.7-3.7 37.5-5.3 56.2-6.3"/><path d="M67.4 341c18.7-5.9 37.5-14.7 56.2-28.9c18.7-14.3 37.5-34.6 56.2-60.4c18.8-25.7 37.5-56.5 56.2-84.8c18.8-28.2 37.5-53 56.3-71.1c18.7-18 37.4-29.9 56.2-38c18.7-8.1 37.5-12.5 56.2-15.6c18.7-3 37.5-4.6 56.2-5.7"/><path d="M67.4 357.9c18.7-.2 37.5-.6 56.2-1.8c18.7-1.1 37.5-2.8 56.2-7.4c18.8-4.6 37.5-11.9 56.2-28c18.8-16 37.5-42.5 56.3-78.4c18.7-35.9 37.4-79.3 56.2-112c18.7-32.7 37.5-54.3 56.2-67.2c18.7-12.9 37.5-18.6 56.2-22.1"/><path d="M67.4 349.8c18.7-3 37.5-7.2 56.2-14.7c18.7-7.5 37.5-18.3 56.2-34.7c18.8-16.4 37.5-38.8 56.2-65.1c18.8-26.4 37.5-56.1 56.3-82.1c18.7-26 37.4-47.8 56.2-63.8c18.7-15.9 37.5-26.3 56.2-33.5c18.7-7.2 37.5-11.2 56.2-14"/><path d="M67.4 353.5c18.7-2.2 37.5-5.5 56.2-13.1c18.7-7.5 37.5-19.5 56.2-40.7c18.8-21.3 37.5-53 56.2-88.6c18.8-35.5 37.5-72.3 56.3-98.6c18.7-26.4 37.4-43 56.2-53.4c18.7-10.4 37.5-15.3 56.2-18.4c18.7-3.1 37.5-4.4 56.2-5.2"/><path d="M67.4 356c18.7-.9 37.5-2.3 56.2-5.1c18.7-2.8 37.5-7 56.2-15c18.8-8 37.5-20.1 56.2-39c18.8-19 37.5-45.5 56.3-75.6c18.7-30.1 37.4-62.7 56.2-88.8c18.7-26.1 37.5-45.7 56.2-59c18.7-13.3 37.5-21 56.2-26"/><path d="M67.4 352.2c18.7-2.1 37.5-5.2 56.2-10.6c18.7-5.5 37.5-13.4 56.2-26.2c18.8-12.7 37.5-30.6 56.2-53.7c18.8-23.2 37.5-51.6 56.3-79.1c18.7-27.4 37.4-53.3 56.2-73.1c18.7-19.8 37.5-34 56.2-43.8c18.7-9.9 37.5-15.8 56.2-19.8"/><path d="M67.4 342.7c18.7-4.4 37.5-10.7 56.2-20.2c18.7-9.5 37.5-22.5 56.2-39.8c18.8-17.3 37.5-39 56.2-62.7c18.8-23.7 37.5-48.8 56.3-71c18.7-22.2 37.4-41.1 56.2-55.6c18.7-14.6 37.5-24.9 56.2-32.4c18.7-7.5 37.5-12.2 56.2-15.6"/><path d="M67.4 357.8c18.7-.3 37.5-.9 56.2-2.4c18.7-1.5 37.5-3.8 56.2-10.1c18.8-6.3 37.5-16.8 56.2-38.4c18.8-21.6 37.5-56.6 56.3-96.8c18.7-40.1 37.4-81.1 56.2-108.1c18.7-26.9 37.5-41.5 56.2-50.1c18.7-8.6 37.5-12 56.2-14.1"/><path d="M67.4 352.6c18.7-2.6 37.5-6.7 56.2-15.8c18.7-9 37.5-23.6 56.2-48.3c18.8-24.6 37.5-60.3 56.2-96.8c18.8-36.4 37.5-70.7 56.3-93.9c18.7-23.1 37.4-36.4 56.2-44.7c18.7-8.3 37.5-11.9 56.2-14.3c18.7-2.3 37.5-3.3 56.2-3.9"/><path d="M67.4 342.2c18.7-5.2 37.5-12.9 56.2-25.3c18.7-12.5 37.5-30 56.2-52.9c18.8-22.9 37.5-51.2 56.2-78.8c18.8-27.7 37.5-53.9 56.3-74.1c18.7-20.2 37.4-34.6 56.2-44.7c18.7-10.1 37.5-16.2 56.2-20.3c18.7-4.1 37.5-6.4 56.2-8"/><path d="M67.4 354.8c18.7-1.5 37.5-3.8 56.2-8.7c18.7-5 37.5-12.7 56.2-27.3c18.8-14.5 37.5-36.7 56.2-66.6c18.8-29.8 37.5-66.6 56.3-98.2c18.7-31.6 37.4-56.9 56.2-73.6c18.7-16.7 37.5-26 56.2-31.9c18.7-6 37.5-8.8 56.2-10.6"/><path d="M67.4 355c18.7-1.4 37.5-3.5 56.2-8c18.7-4.4 37.5-11.2 56.2-23.9c18.8-12.7 37.5-31.9 56.2-58.9c18.8-26.9 37.5-61.4 56.3-93.4c18.7-31.9 37.4-59.7 56.2-79c18.7-19.2 37.5-30.8 56.2-38.3c18.7-7.6 37.5-11.3 56.2-13.8"/><path d="M67.4 353c18.7-2.2 37.5-5.6 56.2-12.7c18.7-7.1 37.5-18.1 56.2-37.2c18.8-19 37.5-47.1 56.2-79.8c18.8-32.8 37.5-68.6 56.3-96.2c18.7-27.7 37.4-47.1 56.2-59.7c18.7-12.6 37.5-19.1 56.2-23.3c18.7-4.3 37.5-6.2 56.2-7.5"/><path d="M67.4 358.4c18.7  37.5 0 56.2-.2c18.7-.2 37.5-.5 56.2-1.4c18.8-.9 37.5-2.3 56.2-6.9c18.8-4.7 37.5-12.4 56.3-32c18.7-19.7 37.4-54.6 56.2-98.6c18.7-43.9 37.5-90.8 56.2-119.8c18.7-29.1 37.5-43 56.2-50.9"/><path d="M67.4 356.7c18.7-.8 37.5-2.1 56.2-5.5c18.7-3.4 37.5-8.7 56.2-21c18.8-12.2 37.5-32.5 56.2-63.9c18.8-31.4 37.5-73.7 56.3-110c18.7-36.2 37.4-64.2 56.2-81.3c18.7-17.2 37.5-25.4 56.2-30.5c18.7-5 37.5-7 56.2-8.3"/><path d="M67.4 334.3c18.7-5.8 37.5-13.7 56.2-24.5c18.7-10.8 37.5-24.7 56.2-41.8c18.8-17 37.5-37.3 56.2-58.3c18.8-21.1 37.5-42.8 56.3-62.2c18.7-19.3 37.4-36.2 56.2-49.7c18.7-13.5 37.5-23.7 56.2-31.4c18.7-7.7 37.5-13 56.2-17"/><path d="M67.4 344.2c18.7-4.1 37.5-9.9 56.2-18.9c18.7-8.9 37.5-21.2 56.2-37.9c18.8-16.7 37.5-37.9 56.2-61.5c18.8-23.6 37.5-49.2 56.3-72c18.7-22.8 37.4-42.5 56.2-57.7c18.7-15.2 37.5-26.1 56.2-34c18.7-7.8 37.5-12.8 56.2-16.4"/><path d="M67.4 348.1c18.7-4.4 37.5-11.1 56.2-24.7c18.7-13.5 37.5-34.7 56.2-64.5c18.8-29.8 37.5-68 56.2-101.1c18.8-33.2 37.5-59.8 56.3-77.2c18.7-17.4 37.4-26.8 56.2-32.7c18.7-5.9 37.5-8.6 56.2-10.3c18.7-1.8 37.5-2.5 56.2-3"/><path d="M67.4 353.7c18.7-2.2 37.5-5.5 56.2-13.3c18.7-7.7 37.5-20.2 56.2-42.6c18.8-22.5 37.5-56.3 56.2-93.1c18.8-36.8 37.5-73.6 56.3-99.1c18.7-25.5 37.4-40.6 56.2-50c18.7-9.4 37.5-13.5 56.2-16.1c18.7-2.7 37.5-3.8 56.2-4.5"/><path d="M67.4 348c18.7-3.7 37.5-9.4 56.2-19.6c18.7-10.1 37.5-25.3 56.2-47.3c18.8-22 37.5-51.3 56.2-81.6c18.8-30.4 37.5-60.5 56.3-83.5c18.7-23 37.4-39.1 56.2-50c18.7-10.9 37.5-17.1 56.2-21.1c18.7-4.1 37.5-6.2 56.2-7.6"/><path d="M67.4 352.6c18.7-3.4 37.5-9 56.2-26.2c18.7-17.1 37.5-49.8 56.2-95.8c18.8-46 37.5-98.4 56.2-130c18.8-31.6 37.5-45.6 56.3-53.4c18.7-7.8 37.4-9.9 56.2-11.3c18.7-1.4 37.5-1.8 56.2-2c18.7-.2 37.5-.3 56.2-.3"/><path d="M67.4 356.3c18.7-1 37.5-2.5 56.2-6.2c18.7-3.6 37.5-9.4 56.2-21.7c18.8-12.4 37.5-32.2 56.2-62c18.8-29.8 37.5-69.4 56.3-104.5c18.7-35 37.4-63.3 56.2-81.5c18.7-18.1 37.5-27.4 56.2-33.3c18.7-5.9 37.5-8.4 56.2-10"/><path d="M67.4 356.6c18.7-.8 37.5-2.2 56.2-5.7c18.7-3.5 37.5-9.1 56.2-21.8c18.8-12.7 37.5-33.7 56.2-65.6c18.8-31.9 37.5-74.5 56.3-110.4c18.7-35.9 37.4-63 56.2-79.7c18.7-16.6 37.5-24.4 56.2-29.3c18.7-4.9 37.5-6.8 56.2-8"/><path d="M67.4 354.2c18.7-1.5 37.5-3.8 56.2-8.1c18.7-4.3 37.5-10.6 56.2-21.7c18.8-11 37.5-27.1 56.2-49.6c18.8-22.5 37.5-51.6 56.3-81c18.7-29.4 37.4-58.1 56.2-79.9c18.7-21.9 37.5-37.4 56.2-48c18.7-10.5 37.5-16.6 56.2-20.7"/><path d="M67.4 349.9c18.7-2.9 37.5-7.2 56.2-14.9c18.7-7.6 37.5-18.8 56.2-35.8c18.8-17 37.5-40.4 56.2-67.6c18.8-27.1 37.5-57.5 56.3-83.5c18.7-26.1 37.4-47.5 56.2-62.8c18.7-15.3 37.5-25 56.2-31.6c18.7-6.7 37.5-10.4 56.2-12.9"/><path d="M67.4 353.7c18.7-2.1 37.5-5.5 56.2-13.5c18.7-7.9 37.5-20.8 56.2-44.1c18.8-23.3 37.5-58.5 56.2-96c18.8-37.5 37.5-74.1 56.3-98.9c18.7-24.7 37.4-38.9 56.2-47.6c18.7-8.7 37.5-12.4 56.2-14.8c18.7-2.4 37.5-3.4 56.2-4"/><path d="M67.4 350.1c18.7-2.8 37.5-6.7 56.2-13.5c18.7-6.9 37.5-16.6 56.2-31.5c18.8-14.8 37.5-35.1 56.2-59.7c18.8-24.5 37.5-53.1 56.3-79.2c18.7-26.1 37.4-49.4 56.2-66.8c18.7-17.5 37.5-29.6 56.2-38.1c18.7-8.5 37.5-13.5 56.2-17"/><path d="M67.4 353.6c18.7-2.2 37.5-5.5 56.2-12.9c18.7-7.5 37.5-19.4 56.2-40.7c18.8-21.2 37.5-53 56.2-88.7c18.8-35.7 37.5-72.6 56.3-99c18.7-26.5 37.4-43.1 56.2-53.4c18.7-10.4 37.5-15.2 56.2-18.3c18.7-3.1 37.5-4.3 56.2-5.2"/><path d="M67.4 354.8c18.7-1.5 37.5-3.8 56.2-8.6c18.7-4.8 37.5-12.2 56.2-25.9c18.8-13.7 37.5-34.4 56.2-62.7c18.8-28.2 37.5-63.6 56.3-95.2c18.7-31.5 37.4-58 56.2-76c18.7-17.9 37.5-28.4 56.2-35.2c18.7-6.8 37.5-10.1 56.2-12.3"/><path d="M67.4 355.7c18.7-1.2 37.5-3.1 56.2-7.5c18.7-4.4 37.5-11.3 56.2-25.3c18.8-14 37.5-36.1 56.2-67.1c18.8-31 37.5-70.3 56.3-103.6c18.7-33.3 37.4-59.1 56.2-75.6c18.7-16.5 37.5-25 56.2-30.4c18.7-5.4 37.5-7.7 56.2-9.2"/><path d="M67.4 357.6c18.7-.4 37.5-1 56.2-2.5c18.7-1.5 37.5-3.7 56.2-9.1c18.8-5.4 37.5-13.8 56.2-30.4c18.8-16.7 37.5-42.7 56.3-76.4c18.7-33.6 37.4-73.3 56.2-104.4c18.7-31 37.5-53 56.2-66.7c18.7-13.8 37.5-20.5 56.2-24.8"/><path d="M67.4 354.5c18.7-1.5 37.5-3.6 56.2-7.8c18.7-4.2 37.5-10.4 56.2-21.3c18.8-10.9 37.5-26.9 56.2-49.6c18.8-22.6 37.5-52.1 56.3-81.9c18.7-29.9 37.4-58.9 56.2-80.9c18.7-22.1 37.5-37.5 56.2-48c18.7-10.4 37.5-16.3 56.2-20.3"/><path d="M67.4 356.5c18.7-.9 37.5-2.2 56.2-5c18.7-2.8 37.5-7.2 56.2-16.1c18.8-9 37.5-22.9 56.2-45.4c18.8-22.5 37.5-54.3 56.3-88.1c18.7-33.7 37.4-67.3 56.2-91.7c18.7-24.4 37.5-40.1 56.2-50.2c18.7-10.1 37.5-15.2 56.2-18.4"/><path d="M67.4 356c18.7-1 37.5-2.6 56.2-6c18.7-3.5 37.5-8.7 56.2-19.4c18.8-10.6 37.5-27.1 56.2-52.2c18.8-25.2 37.5-59.4 56.3-93.1c18.7-33.7 37.4-64.9 56.2-86.6c18.7-21.7 37.5-34.9 56.2-43.4c18.7-8.5 37.5-12.6 56.2-15.2"/><path d="M67.4 357.1c18.7-.6 37.5-1.5 56.2-3.5c18.7-2.1 37.5-5.2 56.2-12c18.8-6.8 37.5-17.5 56.2-36.4c18.8-18.9 37.5-47.1 56.3-80.5c18.7-33.4 37.4-70.1 56.2-98.2c18.7-28.2 37.5-47.7 56.2-60.2c18.7-12.5 37.5-18.8 56.2-22.9"/><path d="M67.4 357c18.7-.7 37.5-1.8 56.2-4.3c18.7-2.6 37.5-6.5 56.2-15.4c18.8-8.8 37.5-23 56.2-47c18.8-24 37.5-59.1 56.3-95.3c18.7-36.3 37.4-71 56.2-94.6c18.7-23.7 37.5-37.6 56.2-46.2c18.7-8.7 37.5-12.5 56.2-15"/><path d="M67.4 356.9c18.7-.6 37.5-1.6 56.2-3.9c18.7-2.2 37.5-5.7 56.2-13c18.8-7.3 37.5-18.8 56.2-38.5c18.8-19.8 37.5-48.9 56.3-82.3c18.7-33.5 37.4-69.4 56.2-96.6c18.7-27.2 37.5-45.7 56.2-57.7c18.7-11.9 37.5-17.9 56.2-21.8"/><path d="M67.4 353c18.7-2.3 37.5-5.6 56.2-12.6c18.7-6.9 37.5-17.7 56.2-36.1c18.8-18.3 37.5-45.3 56.2-77.2c18.8-31.9 37.5-67.3 56.3-95.3c18.7-27.9 37.4-48.2 56.2-61.5c18.7-13.3 37.5-20.4 56.2-25c18.7-4.6 37.5-6.8 56.2-8.2"/><path d="M67.4 352c18.7-2.8 37.5-7 56.2-16.3c18.7-9.3 37.5-24 56.2-48.3c18.8-24.3 37.5-59.1 56.2-94.6c18.8-35.6 37.5-69.3 56.3-92.5c18.7-23.2 37.4-37 56.2-45.6c18.7-8.7 37.5-12.6 56.2-15.2c18.7-2.6 37.5-3.7 56.2-4.4"/><path d="M67.4 355.7c18.7-1.2 37.5-3 56.2-7.1c18.7-4.1 37.5-10.4 56.2-23c18.8-12.6 37.5-32.3 56.2-60.8c18.8-28.4 37.5-65.5 56.3-99c18.7-33.4 37.4-61.5 56.2-80.1c18.7-18.7 37.5-29.1 56.2-35.8c18.7-6.6 37.5-9.7 56.2-11.7"/><path d="M67.4 353.1c18.7-2.4 37.5-6.1 56.2-14.4c18.7-8.3 37.5-21.6 56.2-44.7c18.8-23.1 37.5-57.2 56.2-93.5c18.8-36.3 37.5-71.9 56.3-96.6c18.7-24.6 37.4-39.3 56.2-48.5c18.7-9.1 37.5-13.2 56.2-15.9c18.7-2.6 37.5-3.7 56.2-4.4"/><path d="M67.4 354.4c18.7-1.9 37.5-4.8 56.2-11.8c18.7-7.1 37.5-18.6 56.2-40.2c18.8-21.6 37.5-55.1 56.2-92.7c18.8-37.7 37.5-76.2 56.3-102.7c18.7-26.5 37.4-42.1 56.2-51.6c18.7-9.5 37.5-13.6 56.2-16.2c18.7-2.6 37.5-3.6 56.2-4.3"/><path d="M67.4 356.2c18.7-1.1 37.5-2.8 56.2-7c18.7-4.3 37.5-11.1 56.2-25.9c18.8-14.8 37.5-39.1 56.2-73.1c18.8-34.1 37.5-76.6 56.3-110.4c18.7-33.7 37.4-57.4 56.2-71.9c18.7-14.5 37.5-21.2 56.2-25.3c18.7-4.2 37.5-5.8 56.2-6.8"/><path d="M67.4 357.3c18.7-.5 37.5-1.4 56.2-3.7c18.7-2.3 37.5-6 56.2-15.2c18.8-9.1 37.5-24.4 56.2-51.5c18.8-27.1 37.5-67.4 56.3-106.5c18.7-39.1 37.4-73.2 56.2-94.5c18.7-21.4 37.5-32 56.2-38.5c18.7-6.5 37.5-8.9 56.2-10.5"/><path d="M67.4 354.1c18.7-1.9 37.5-4.9 56.2-11.7c18.7-6.8 37.5-17.6 56.2-37.5c18.8-19.9 37.5-50.3 56.2-85.7c18.8-35.4 37.5-73.4 56.3-101.2c18.7-27.8 37.4-45.8 56.2-57c18.7-11.2 37.5-16.4 56.2-19.8c18.7-3.3 37.5-4.7 56.2-5.6"/><path d="M67.4 356.1c18.7-1.2 37.5-3 56.2-8c18.7-5 37.5-13.2 56.2-31c18.8-17.9 37.5-47.6 56.2-85.8c18.8-38.3 37.5-82 56.3-113c18.7-31 37.4-49.6 56.2-60.7c18.7-11 37.5-15.5 56.2-18.3c18.7-2.8 37.5-3.8 56.2-4.5"/><path d="M67.4 353.8c18.7-1.8 37.5-4.5 56.2-9.9c18.7-5.3 37.5-13.4 56.2-27.6c18.8-14.1 37.5-35 56.2-62.3c18.8-27.4 37.5-60.8 56.3-90.9c18.7-30 37.4-55.6 56.2-73.5c18.7-17.9 37.5-28.8 56.2-36.1c18.7-7.2 37.5-10.9 56.2-13.4"/><path d="M67.4 356.9c18.7-.6 37.5-1.7 56.2-4c18.7-2.4 37.5-6 56.2-13.9c18.8-7.9 37.5-20.3 56.2-41.5c18.8-21.3 37.5-52.6 56.3-87.2c18.7-34.5 37.4-70.3 56.2-96.3c18.7-26 37.5-42.8 56.2-53.4c18.7-10.7 37.5-15.8 56.2-19.1"/><path d="M67.4 356.9c18.7-.7 37.5-1.8 56.2-4.3c18.7-2.5 37.5-6.3 56.2-14.5c18.8-8.2 37.5-21.1 56.2-43.1c18.8-21.9 37.5-53.9 56.3-88.6c18.7-34.8 37.4-70 56.2-95.3c18.7-25.4 37.5-41.5 56.2-51.7c18.7-10.3 37.5-15.2 56.2-18.3"/><path d="M67.4 357.6c18.7-.5 37.5-1.2 56.2-3.1c18.7-1.9 37.5-4.9 56.2-12.5c18.8-7.7 37.5-20.5 56.2-44.8c18.8-24.3 37.5-62.1 56.3-101.9c18.7-39.7 37.4-77.2 56.2-101.3c18.7-24.1 37.5-36.7 56.2-44.2c18.7-7.6 37.5-10.5 56.2-12.4"/><path d="M67.4 349.3c18.7-4.7 37.5-12.4 56.2-30.8c18.7-18.5 37.5-50.3 56.2-91.4c18.8-41.1 37.5-87.1 56.2-117.7c18.8-30.6 37.5-47.1 56.3-56.6c18.7-9.6 37.4-12.9 56.2-15.1c18.7-2.2 37.5-2.9 56.2-3.3c18.7-.5 37.5-.6 56.2-.7"/><path d="M67.4 354c18.7-1.8 37.5-4.5 56.2-10.4c18.7-5.8 37.5-14.9 56.2-31.2c18.8-16.3 37.5-40.7 56.2-71.7c18.8-30.9 37.5-67.2 56.3-97.2c18.7-30 37.4-52.8 56.2-67.9c18.7-15.1 37.5-23.3 56.2-28.6c18.7-5.3 37.5-7.8 56.2-9.5"/><path d="M67.4 353.2c18.7-1.9 37.5-4.7 56.2-9.9c18.7-5.2 37.5-12.9 56.2-25.8c18.8-12.9 37.5-31.5 56.2-56c18.8-24.4 37.5-54.8 56.3-83.6c18.7-28.9 37.4-55.3 56.2-75c18.7-19.6 37.5-32.9 56.2-41.9c18.7-9.1 37.5-14.2 56.2-17.6"/><path d="M67.4 354.6c18.7-1.5 37.5-3.7 56.2-8.2c18.7-4.5 37.5-11.3 56.2-23.6c18.8-12.4 37.5-30.8 56.2-56.4c18.8-25.6 37.5-58.3 56.3-89.4c18.7-31.1 37.4-59.1 56.2-79.1c18.7-20 37.5-32.7 56.2-41.1c18.7-8.4 37.5-12.8 56.2-15.6"/><path d="M67.4 357.4c18.7-.5 37.5-1.3 56.2-3.3c18.7-2.1 37.5-5.3 56.2-13.1c18.8-7.7 37.5-20.5 56.2-44c18.8-23.5 37.5-59.4 56.3-97.7c18.7-38.3 37.4-75.4 56.2-100.1c18.7-24.7 37.5-38.5 56.2-46.9c18.7-8.3 37.5-11.8 56.2-14"/><path d="M67.4 357.2c18.7-.6 37.5-1.4 56.2-3.4c18.7-2.1 37.5-5.2 56.2-12c18.8-6.9 37.5-17.7 56.2-37.1c18.8-19.5 37.5-48.7 56.3-83c18.7-34.3 37.4-71.5 56.2-99.4c18.7-27.9 37.5-46.7 56.2-58.5c18.7-11.9 37.5-17.7 56.2-21.4"/><path d="M67.4 349.3c18.7-3 37.5-7.4 56.2-15c18.7-7.7 37.5-18.7 56.2-35.2c18.8-16.5 37.5-38.9 56.2-65c18.8-26.1 37.5-55.5 56.3-81.2c18.7-25.7 37.4-47.3 56.2-63.1c18.7-15.9 37.5-26.3 56.2-33.5c18.7-7.2 37.5-11.3 56.2-14.2"/><path d="M67.4 353.4c18.7-1.9 37.5-4.7 56.2-10.4c18.7-5.7 37.5-14.2 56.2-29c18.8-14.7 37.5-36.3 56.2-64c18.8-27.7 37.5-61.1 56.3-90.7c18.7-29.6 37.4-54.4 56.2-71.7c18.7-17.3 37.5-27.8 56.2-34.8c18.7-7 37.5-10.5 56.2-12.9"/><path d="M67.4 357.4c18.7-.6 37.5-1.4 56.2-3.6c18.7-2.2 37.5-5.7 56.2-14.4c18.8-8.7 37.5-23.1 56.2-49.1c18.8-26 37.5-65.2 56.3-104.3c18.7-39 37.4-74.2 56.2-96.6c18.7-22.3 37.5-33.8 56.2-40.8c18.7-6.9 37.5-9.7 56.2-11.4"/><path d="M67.4 357.9c18.7-.2 37.5-.7 56.2-2c18.7-1.4 37.5-3.4 56.2-9.5c18.8-6.1 37.5-16.3 56.2-38.6c18.8-22.3 37.5-59.4 56.3-101.5c18.7-42.2 37.4-84.1 56.2-110.3c18.7-26.3 37.5-39.4 56.2-47.1c18.7-7.6 37.5-10.3 56.2-12"/><path d="M67.4 354.9c18.7-1.4 37.5-3.5 56.2-7.7c18.7-4.1 37.5-10.4 56.2-21.9c18.8-11.4 37.5-28.5 56.2-52.8c18.8-24.4 37.5-56.1 56.3-87.2c18.7-31.1 37.4-60.1 56.2-81.4c18.7-21.2 37.5-35.1 56.2-44.3c18.7-9.2 37.5-14.1 56.2-17.4"/><path d="M67.4 351.3c18.7-2.7 37.5-6.6 56.2-14.2c18.7-7.6 37.5-19 56.2-37.2c18.8-18.2 37.5-43.9 56.2-73.6c18.8-29.7 37.5-62.5 56.3-89.2c18.7-26.7 37.4-47.2 56.2-61.2c18.7-14 37.5-22.1 56.2-27.5c18.7-5.4 37.5-8.1 56.2-10"/><path d="M67.4 353.4c18.7-2 37.5-4.9 56.2-10.8c18.7-5.9 37.5-14.7 56.2-30c18.8-15.3 37.5-37.6 56.2-66.1c18.8-28.4 37.5-62.3 56.3-91.8c18.7-29.4 37.4-53.6 56.2-70.2c18.7-16.7 37.5-26.6 56.2-33.1c18.7-6.6 37.5-9.9 56.2-12.1"/><path d="M67.4 355.7c18.7-1 37.5-2.7 56.2-6c18.7-3.4 37.5-8.5 56.2-18.3c18.8-9.7 37.5-24.6 56.2-47.1c18.8-22.5 37.5-53.2 56.3-85.1c18.7-32 37.4-63.5 56.2-87c18.7-23.4 37.5-39.2 56.2-49.6c18.7-10.4 37.5-15.9 56.2-19.6"/><path d="M67.4 352.3c18.7-2.1 37.5-5.2 56.2-10.8c18.7-5.7 37.5-13.9 56.2-27.3c18.8-13.4 37.5-32.3 56.2-56.6c18.8-24.3 37.5-53.8 56.3-81.8c18.7-27.9 37.4-53.4 56.2-72.6c18.7-19.1 37.5-32.2 56.2-41.3c18.7-9 37.5-14.3 56.2-17.8"/><path d="M67.4 352.8c18.7-2.3 37.5-5.6 56.2-12.3c18.7-6.6 37.5-16.8 56.2-34c18.8-17.1 37.5-42.1 56.2-72.3c18.8-30.2 37.5-64.6 56.3-92.9c18.7-28.4 37.4-50.1 56.2-64.8c18.7-14.7 37.5-23 56.2-28.5c18.7-5.4 37.5-8.1 56.2-9.9"/><path d="M67.4 356c18.7-1 37.5-2.6 56.2-6c18.7-3.4 37.5-8.6 56.2-18.9c18.8-10.3 37.5-26.3 56.2-50.7c18.8-24.4 37.5-57.8 56.3-91.1c18.7-33.4 37.4-64.9 56.2-87.1c18.7-22.3 37.5-36.2 56.2-45.2c18.7-9 37.5-13.4 56.2-16.3"/><path d="M67.4 355.6c18.7-1.2 37.5-3 56.2-7c18.7-4.1 37.5-10.3 56.2-22.5c18.8-12.2 37.5-31.1 56.2-58.5c18.8-27.4 37.5-63.3 56.3-96.5c18.7-33.2 37.4-61.9 56.2-81.4c18.7-19.4 37.5-30.7 56.2-37.9c18.7-7.2 37.5-10.6 56.2-12.9"/><path d="M67.4 351.1c18.7-2.6 37.5-6.5 56.2-13.6c18.7-7.1 37.5-17.6 56.2-34.2c18.8-16.6 37.5-39.8 56.2-67.5c18.8-27.6 37.5-59 56.3-86.1c18.7-27 37.4-49.1 56.2-64.8c18.7-15.7 37.5-25.4 56.2-32c18.7-6.6 37.5-10.2 56.2-12.6"/><path d="M67.4 356.3c18.7-1 37.5-2.5 56.2-6.6c18.7-4.1 37.5-10.6 56.2-25c18.8-14.4 37.5-38.1 56.2-72.1c18.8-34 37.5-77.1 56.3-111.4c18.7-34.2 37.4-58.5 56.2-73.2c18.7-14.7 37.5-21.3 56.2-25.5c18.7-4.2 37.5-5.7 56.2-6.8"/><path d="M67.4 357.3c18.7-.6 37.5-1.4 56.2-3.7c18.7-2.2 37.5-5.6 56.2-13.7c18.8-8.2 37.5-21.4 56.2-45c18.8-23.7 37.5-59.3 56.3-96.8c18.7-37.6 37.4-73.9 56.2-98.3c18.7-24.4 37.5-38.3 56.2-46.8c18.7-8.5 37.5-12.1 56.2-14.4"/><path d="M67.4 355c18.7-1.7 37.5-4.3 56.2-11c18.7-6.6 37.5-17.6 56.2-39.1c18.8-21.5 37.5-55.6 56.2-94.4c18.8-38.8 37.5-78.6 56.3-105.4c18.7-26.9 37.4-42.1 56.2-51.3c18.7-9.2 37.5-12.9 56.2-15.3c18.7-2.3 37.5-3.2 56.2-3.8"/><path d="M67.4 349.7c18.7-3.1 37.5-7.7 56.2-16c18.7-8.3 37.5-20.6 56.2-39.2c18.8-18.6 37.5-44.1 56.2-72.7c18.8-28.7 37.5-59.7 56.3-85.2c18.7-25.5 37.4-45.3 56.2-59c18.7-13.8 37.5-22.1 56.2-27.8c18.7-5.6 37.5-8.6 56.2-10.6"/><path d="M67.4 356.4c18.7-.9 37.5-2.2 56.2-5c18.7-2.9 37.5-7.2 56.2-15.9c18.8-8.7 37.5-22.2 56.2-43.8c18.8-21.7 37.5-52.3 56.3-85.3c18.7-33 37.4-66.6 56.2-91.5c18.7-24.9 37.5-41.5 56.2-52.3c18.7-10.8 37.5-16.3 56.2-20"/><path d="M67.4 349.2c18.7-3.4 37.5-8.6 56.2-18.1c18.7-9.5 37.5-23.8 56.2-45.3c18.8-21.4 37.5-50.5 56.2-81.3c18.8-30.8 37.5-61.9 56.3-85.8c18.7-23.9 37.4-40.7 56.2-52.1c18.7-11.3 37.5-17.5 56.2-21.7c18.7-4.2 37.5-6.3 56.2-7.7"/><path d="M67.4 356.7c18.7-.8 37.5-2 56.2-5.2c18.7-3.1 37.5-7.9 56.2-18.7c18.8-10.9 37.5-28.5 56.2-56.5c18.8-28 37.5-67.1 56.3-103.4c18.7-36.4 37.4-67.3 56.2-87.3c18.7-20 37.5-30.5 56.2-37.1c18.7-6.5 37.5-9.3 56.2-11"/><path d="M67.4 356.8c18.7-.8 37.5-2 56.2-5c18.7-3.1 37.5-7.9 56.2-18.7c18.8-10.9 37.5-28.7 56.2-57.3c18.8-28.6 37.5-68.5 56.3-105.3c18.7-36.8 37.4-67.6 56.2-87.1c18.7-19.6 37.5-29.7 56.2-35.9c18.7-6.2 37.5-8.7 56.2-10.4"/><path d="M67.4 351.5c18.7-3 37.5-7.8 56.2-18.3c18.7-10.4 37.5-27.3 56.2-54.3c18.8-27 37.5-64.8 56.2-100.9c18.8-36 37.5-67.7 56.3-88.5c18.7-20.8 37.4-32.2 56.2-39.3c18.7-7.1 37.5-10.2 56.2-12.2c18.7-2 37.5-2.8 56.2-3.3"/><path d="M67.4 353.4c18.7-2.3 37.5-5.9 56.2-14.3c18.7-8.3 37.5-21.8 56.2-45.7c18.8-23.8 37.5-59.3 56.2-96.5c18.8-37.2 37.5-73 56.3-97.2c18.7-24.1 37.4-37.9 56.2-46.4c18.7-8.5 37.5-12.2 56.2-14.6c18.7-2.3 37.5-3.2 56.2-3.9"/><path d="M67.4 354.6c18.7-1.6 37.5-4.1 56.2-9.5c18.7-5.4 37.5-13.8 56.2-29.3c18.8-15.6 37.5-39.4 56.2-70.3c18.8-30.9 37.5-68.1 56.3-99c18.7-31 37.4-54.7 56.2-70.3c18.7-15.6 37.5-23.9 56.2-29.3c18.7-5.4 37.5-7.9 56.2-9.5"/><path d="M67.4 356.2c18.7-1.1 37.5-2.6 56.2-6.6c18.7-3.9 37.5-10.1 56.2-23.4c18.8-13.2 37.5-34.7 56.2-65.9c18.8-31.2 37.5-71.8 56.3-106.4c18.7-34.5 37.4-61.2 56.2-78c18.7-16.8 37.5-25.2 56.2-30.4c18.7-5.3 37.5-7.4 56.2-8.9"/><path d="M67.4 354c18.7-2.1 37.5-5.2 56.2-12.3c18.7-7.2 37.5-18.7 56.2-39.7c18.8-20.9 37.5-52.8 56.2-88.9c18.8-36.1 37.5-73.8 56.3-100.7c18.7-26.8 37.4-43.5 56.2-53.9c18.7-10.4 37.5-15.1 56.2-18.1c18.7-3 37.5-4.3 56.2-5.1"/><path d="M67.4 349.8c18.7-3 37.5-7.3 56.2-14.9c18.7-7.7 37.5-18.8 56.2-35.6c18.8-16.9 37.5-39.9 56.2-66.8c18.8-26.8 37.5-56.9 56.3-82.9c18.7-25.9 37.4-47.4 56.2-62.9c18.7-15.5 37.5-25.4 56.2-32.3c18.7-6.8 37.5-10.6 56.2-13.2"/><path d="M67.4 356.8c18.7-.8 37.5-1.8 56.2-4.3c18.7-2.4 37.5-6.1 56.2-13.8c18.8-7.7 37.5-19.7 56.2-39.9c18.8-20.2 37.5-49.7 56.3-82.9c18.7-33.1 37.4-68.3 56.2-94.8c18.7-26.6 37.5-44.7 56.2-56.4c18.7-11.7 37.5-17.7 56.2-21.5"/><path d="M67.4 352.5c18.7-2.6 37.5-6.5 56.2-15.1c18.7-8.6 37.5-22.3 56.2-45.3c18.8-23 37.5-56.4 56.2-91.7c18.8-35.4 37.5-70.2 56.3-94.7c18.7-24.4 37.4-39.4 56.2-48.9c18.7-9.4 37.5-13.8 56.2-16.6c18.7-2.9 37.5-4.1 56.2-4.9"/><path d="M67.4 355.2c18.7-1.3 37.5-3.2 56.2-7.4c18.7-4.1 37.5-10.5 56.2-22.5c18.8-11.9 37.5-30.2 56.2-56.3c18.8-26.1 37.5-60.2 56.3-92.4c18.7-32.2 37.4-61.1 56.2-81.2c18.7-20.2 37.5-32.5 56.2-40.6c18.7-8 37.5-12 56.2-14.6"/><path d="M67.4 358.3c18.7-.1 37.5-.3 56.2-.8c18.7-.5 37.5-1.3 56.2-3.8c18.8-2.6 37.5-6.6 56.2-17.7c18.8-11.1 37.5-30.7 56.3-64.7c18.7-33.9 37.4-82.4 56.2-122c18.7-39.6 37.5-67.3 56.2-83c18.7-15.7 37.5-21.8 56.2-25.6"/><path d="M67.4 356.9c18.7-.7 37.5-1.6 56.2-3.7c18.7-2 37.5-5.1 56.2-11.2c18.8-6.1 37.5-15.5 56.2-31.5c18.8-16 37.5-39.6 56.3-68.9c18.7-29.4 37.4-63.8 56.2-92.9c18.7-29.2 37.5-52.4 56.2-68.1c18.7-15.8 37.5-25 56.2-31"/><path d="M67.4 355.7c18.7-1.3 37.5-3.2 56.2-8c18.7-4.8 37.5-12.4 56.2-28.1c18.8-15.7 37.5-40.8 56.2-74.7c18.8-33.8 37.5-74.8 56.3-107.2c18.7-32.4 37.4-55.3 56.2-69.5c18.7-14.2 37.5-20.9 56.2-25.2c18.7-4.2 37.5-5.9 56.2-7"/><path d="M67.4 356.9c18.7-.8 37.5-1.9 56.2-4.7c18.7-2.8 37.5-7.1 56.2-16.8c18.8-9.8 37.5-25.5 56.2-51.6c18.8-26.1 37.5-63.4 56.3-100c18.7-36.6 37.4-69.7 56.2-91.5c18.7-21.8 37.5-33.9 56.2-41.4c18.7-7.4 37.5-10.7 56.2-12.7"/><path d="M67.4 355.6c18.7-1.1 37.5-2.8 56.2-6.5c18.7-3.7 37.5-9.3 56.2-20.1c18.8-10.8 37.5-27.4 56.2-51.9c18.8-24.6 37.5-57.6 56.3-90.2c18.7-32.6 37.4-63.1 56.2-84.8c18.7-21.8 37.5-35.6 56.2-44.5c18.7-9 37.5-13.5 56.2-16.5"/><path d="M67.4 347.6c18.7-3.6 37.5-8.8 56.2-17.8c18.7-9 37.5-22 56.2-40.8c18.8-18.8 37.5-43.7 56.2-71.2c18.8-27.4 37.5-56.6 56.3-80.8c18.7-24.3 37.4-43.4 56.2-57.1c18.7-13.7 37.5-22.3 56.2-28.2c18.7-5.9 37.5-9.2 56.2-11.5"/><path d="M67.4 353.4c18.7-2 37.5-5 56.2-11.2c18.7-6.2 37.5-15.6 56.2-32c18.8-16.3 37.5-40.5 56.2-70.5c18.8-30 37.5-65 56.3-94.3c18.7-29.2 37.4-52 56.2-67.3c18.7-15.3 37.5-24 56.2-29.7c18.7-5.6 37.5-8.4 56.2-10.2"/><path d="M67.4 349.1c18.7-2.8 37.5-6.8 56.2-13.4c18.7-6.5 37.5-15.7 56.2-29.1c18.8-13.4 37.5-31.5 56.2-53.4c18.8-22 37.5-47.7 56.3-72.6c18.7-24.8 37.4-48.2 56.2-66.8c18.7-18.7 37.5-32.7 56.2-42.9c18.7-10.2 37.5-16.8 56.2-21.5"/><path d="M67.4 348.9c18.7-3.3 37.5-8.3 56.2-17.3c18.7-8.9 37.5-22.1 56.2-41.7c18.8-19.7 37.5-46.3 56.2-75.4c18.8-29.1 37.5-59.7 56.3-84.4c18.7-24.6 37.4-43.2 56.2-56.1c18.7-12.9 37.5-20.5 56.2-25.6c18.7-5.2 37.5-7.9 56.2-9.7"/><path d="M67.4 348.2c18.7-3.4 37.5-8.4 56.2-16.8c18.7-8.5 37.5-20.6 56.2-38.4c18.8-17.8 37.5-41.6 56.2-68.4c18.8-26.7 37.5-55.8 56.3-80.6c18.7-24.8 37.4-45 56.2-59.6c18.7-14.6 37.5-24 56.2-30.5c18.7-6.5 37.5-10.2 56.2-12.7"/><path d="M67.4 354.9c18.7-1.3 37.5-3.3 56.2-7.3c18.7-4.1 37.5-10.2 56.2-21.2c18.8-11.1 37.5-27.6 56.2-51.2c18.8-23.7 37.5-54.8 56.3-85.8c18.7-30.9 37.4-60.4 56.2-82.2c18.7-21.8 37.5-36.3 56.2-46c18.7-9.7 37.5-14.9 56.2-18.3"/><path d="M67.4 352.2c18.7-2.2 37.5-5.5 56.2-11.6c18.7-6.1 37.5-15.1 56.2-29.7c18.8-14.7 37.5-35.4 56.2-61.5c18.8-26.1 37.5-57.2 56.3-85.3c18.7-28.1 37.4-52.5 56.2-70.2c18.7-17.7 37.5-29.2 56.2-37c18.7-7.8 37.5-12.1 56.2-15.1"/><path d="M67.4 345.1c18.7-4.4 37.5-10.9 56.2-21.8c18.7-11 37.5-26.6 56.2-48.2c18.8-21.5 37.5-49.1 56.2-77.4c18.8-28.2 37.5-56.2 56.3-78.2c18.7-22 37.4-38.1 56.2-49.4c18.7-11.3 37.5-18.1 56.2-22.7c18.7-4.6 37.5-7.1 56.2-8.9"/><path d="M67.4 355.6c18.7-1.5 37.5-3.7 56.2-9.9c18.7-6.2 37.5-16.5 56.2-38.1c18.8-21.6 37.5-57 56.2-97.6c18.8-40.6 37.5-82 56.3-109c18.7-26.9 37.4-41.3 56.2-49.7c18.7-8.5 37.5-11.7 56.2-13.7c18.7-2 37.5-2.7 56.2-3.2"/><path d="M67.4 354.2c18.7-1.8 37.5-4.5 56.2-10.3c18.7-5.8 37.5-14.8 56.2-31.2c18.8-16.5 37.5-41.3 56.2-72.6c18.8-31.4 37.5-68.2 56.3-98.3c18.7-30.1 37.4-52.8 56.2-67.6c18.7-14.8 37.5-22.8 56.2-27.9c18.7-5.1 37.5-7.5 56.2-9"/><path d="M67.4 353c18.7-2.6 37.5-6.6 56.2-16.5c18.7-9.9 37.5-26.4 56.2-54.7c18.8-28.2 37.5-69.2 56.2-107.6c18.8-38.4 37.5-70.9 56.3-91.1c18.7-20.3 37.4-30.3 56.2-36.4c18.7-6.1 37.5-8.5 56.2-10c18.7-1.5 37.5-2.1 56.2-2.4"/><path d="M67.4 354.9c18.7-1.4 37.5-3.5 56.2-7.9c18.7-4.3 37.5-10.8 56.2-22.9c18.8-12 37.5-30.1 56.2-55.6c18.8-25.5 37.5-58.4 56.3-89.9c18.7-31.4 37.4-60 56.2-80.3c18.7-20.3 37.5-33.1 56.2-41.6c18.7-8.4 37.5-12.8 56.2-15.7"/><path d="M67.4 353.3c18.7-2 37.5-4.9 56.2-10.6c18.7-5.7 37.5-14.4 56.2-29.1c18.8-14.8 37.5-36.3 56.2-63.9c18.8-27.6 37.5-60.8 56.3-90.2c18.7-29.4 37.4-54.1 56.2-71.4c18.7-17.3 37.5-27.9 56.2-35c18.7-7 37.5-10.6 56.2-13.1"/><path d="M67.4 350.7c18.7-3.1 37.5-7.9 56.2-17.5c18.7-9.6 37.5-24.5 56.2-47.9c18.8-23.4 37.5-56 56.2-89.5c18.8-33.6 37.5-66.1 56.3-89.4c18.7-23.3 37.4-38.2 56.2-47.8c18.7-9.5 37.5-14.3 56.2-17.4c18.7-3.1 37.5-4.5 56.2-5.4"/><path d="M67.4 356.5c18.7-.9 37.5-2.2 56.2-5.2c18.7-3.1 37.5-7.9 56.2-17.9c18.8-10.1 37.5-26.1 56.2-51.4c18.8-25.4 37.5-61 56.3-96.1c18.7-35.1 37.4-67.4 56.2-89.4c18.7-22.1 37.5-34.9 56.2-43.1c18.7-8.1 37.5-11.8 56.2-14.2"/><path d="M67.4 356.9c18.7-.7 37.5-1.7 56.2-4.2c18.7-2.5 37.5-6.4 56.2-15.1c18.8-8.6 37.5-22.3 56.2-45.7c18.8-23.4 37.5-57.5 56.3-93.4c18.7-35.8 37.4-70.8 56.2-95c18.7-24.3 37.5-38.8 56.2-47.9c18.7-9.1 37.5-13.2 56.2-15.9"/><path d="M67.4 345.8c18.7-3.8 37.5-9.1 56.2-17.5c18.7-8.3 37.5-20 56.2-36.1c18.8-16.2 37.5-37.2 56.2-60.9c18.8-23.8 37.5-49.9 56.3-73.4c18.7-23.6 37.4-44.2 56.2-60c18.7-15.8 37.5-27.1 56.2-35.2c18.7-8.2 37.5-13.3 56.2-16.9"/><path d="M67.4 354.5c18.7-1.6 37.5-4 56.2-9c18.7-5 37.5-12.7 56.2-26.7c18.8-14 37.5-35.2 56.2-63.5c18.8-28.3 37.5-63.4 56.3-94.5c18.7-31.1 37.4-57.1 56.2-74.8c18.7-17.7 37.5-28 56.2-34.8c18.7-6.7 37.5-10 56.2-12.2"/><path d="M67.4 356c18.7-1 37.5-2.5 56.2-5.9c18.7-3.3 37.5-8.5 56.2-18.7c18.8-10.2 37.5-26.1 56.2-50.4c18.8-24.4 37.5-57.8 56.3-91.2c18.7-33.4 37.4-65 56.2-87.4c18.7-22.4 37.5-36.4 56.2-45.4c18.7-9 37.5-13.4 56.2-16.3"/><path d="M67.4 356.2c18.7-.9 37.5-2.3 56.2-5.4c18.7-3.2 37.5-8 56.2-17.8c18.8-9.8 37.5-25 56.2-48.9c18.8-23.8 37.5-57 56.3-90.8c18.7-33.8 37.4-66.2 56.2-89.2c18.7-23 37.5-37.4 56.2-46.6c18.7-9.3 37.5-13.8 56.2-16.7"/><path d="M67.4 352.9c18.7-2.1 37.5-5.3 56.2-11.4c18.7-6.1 37.5-15.4 56.2-31c18.8-15.5 37.5-38.1 56.2-66.4c18.8-28.2 37.5-61.5 56.3-90.4c18.7-28.8 37.4-52.5 56.2-68.9c18.7-16.5 37.5-26.4 56.2-33c18.7-6.6 37.5-10 56.2-12.2"/><path d="M67.4 356.3c18.7-.9 37.5-2.3 56.2-5.5c18.7-3.1 37.5-7.9 56.2-17.8c18.8-9.8 37.5-25.2 56.2-49.3c18.8-24.2 37.5-57.8 56.3-91.9c18.7-34 37.4-66.4 56.2-89.2c18.7-22.8 37.5-36.9 56.2-46c18.7-9 37.5-13.3 56.2-16.2"/><path d="M67.4 348.4c18.7-3.5 37.5-8.7 56.2-17.9c18.7-9.1 37.5-22.6 56.2-42.3c18.8-19.8 37.5-46.3 56.2-75.1c18.8-28.8 37.5-58.9 56.3-83.2c18.7-24.3 37.4-42.7 56.2-55.5c18.7-12.8 37.5-20.5 56.2-25.7c18.7-5.2 37.5-8 56.2-9.9"/><path d="M67.4 352.3c18.7-2.5 37.5-6.5 56.2-14.7c18.7-8.3 37.5-21.2 56.2-42.8c18.8-21.6 37.5-52.8 56.2-86.9c18.8-34.1 37.5-68.9 56.3-94.3c18.7-25.5 37.4-42.1 56.2-52.7c18.7-10.6 37.5-15.8 56.2-19.2c18.7-3.3 37.5-4.8 56.2-5.8"/><path d="M67.4 354.9c18.7-1.6 37.5-4 56.2-9.9c18.7-5.9 37.5-15.3 56.2-33.6c18.8-18.2 37.5-46.8 56.2-82.2c18.8-35.3 37.5-75.1 56.3-104.8c18.7-29.7 37.4-49.4 56.2-61.5c18.7-12.1 37.5-17.7 56.2-21.3c18.7-3.6 37.5-5 56.2-6"/><path d="M67.4 351.4c18.7-2.7 37.5-6.6 56.2-14.2c18.7-7.5 37.5-18.8 56.2-36.9c18.8-18.1 37.5-43.7 56.2-73.4c18.8-29.7 37.5-62.5 56.3-89.3c18.7-26.9 37.4-47.4 56.2-61.5c18.7-14 37.5-22.2 56.2-27.6c18.7-5.4 37.5-8.2 56.2-10"/><path d="M67.4 356c18.7-1 37.5-2.5 56.2-5.9c18.7-3.4 37.5-8.6 56.2-19c18.8-10.4 37.5-26.6 56.2-51.3c18.8-24.7 37.5-58.5 56.3-92.1c18.7-33.6 37.4-65 56.2-87.1c18.7-22 37.5-35.7 56.2-44.4c18.7-8.8 37.5-13 56.2-15.8"/><path d="M67.4 356.6c18.7-.9 37.5-2.2 56.2-5.5c18.7-3.4 37.5-8.5 56.2-20c18.8-11.5 37.5-30 56.2-59c18.8-28.9 37.5-68.6 56.3-104.5c18.7-36 37.4-65.8 56.2-84.9c18.7-19 37.5-28.9 56.2-35.1c18.7-6.1 37.5-8.7 56.2-10.4"/><path d="M67.4 352.9c18.7-2.5 37.5-6.2 56.2-14.7c18.7-8.4 37.5-21.9 56.2-45.1c18.8-23.2 37.5-57.2 56.2-93.2c18.8-36 37.5-71.4 56.3-95.9c18.7-24.5 37.4-39.2 56.2-48.3c18.7-9.2 37.5-13.3 56.2-16c18.7-2.7 37.5-3.8 56.2-4.5"/><path d="M67.4 357.1c18.7-.6 37.5-1.6 56.2-4.1c18.7-2.5 37.5-6.5 56.2-15.9c18.8-9.4 37.5-24.8 56.2-51.4c18.8-26.5 37.5-65.3 56.3-103.3c18.7-37.9 37.4-71.6 56.2-93.3c18.7-21.7 37.5-33 56.2-40c18.7-7 37.5-9.8 56.2-11.7"/></g>
<path d="M67.4 355.6c10.9-.7 21.8-1.7 32.8-3.3c10.9-1.5 21.8-3.6 32.8-6.7c10.9-3.2 21.8-7.4 32.8-13.6c10.9-6.2 21.8-14.4 32.8-25.5c10.9-11 21.8-25.1 32.7-42.1c11-17 21.9-36.9 32.8-57.4c11-20.5 21.9-41.5 32.8-60.3c11-18.7 21.9-35.1 32.8-48.3c11-13.2 21.9-23.3 32.8-31c11-7.7 21.9-13.1 32.8-17.1c11-4.1 21.9-6.8 32.8-8.8c11-1.9 21.9-3.2 32.8-4.2" fill="none" stroke="#111" stroke-width="3"/>
<line x1="52" y1="195.5" x2="476" y2="195.5" stroke="#555" stroke-width="1" stroke-dasharray="1 1.97" stroke-dashoffset="-2.5"/>
<g fill="none" stroke="#3a3a3a" stroke-width="1.1">
<path d="M51.5 20.5H476.5V371.5H51.5Z"/>
<path d="M44.8 33.5H51.5M44.8 98.5H51.5M44.8 163.5H51.5M44.8 228.5H51.5M44.8 293.5H51.5M44.8 358.5H51.5"/>
<path d="M118.44 371.5V378.7M194.21 371.5V378.7M269.98 371.5V378.7M345.75 371.5V378.7M421.52 371.5V378.7"/>
<path d="M577 18.5H773.5V436.5H577Z"/>
<path d="M569.8 67.9H577M569.8 132.5H577M569.8 196.8H577M569.8 262.3H577M569.8 326.7H577M569.8 392.1H577"/>
<path d="M606 436.5V443.6M673.2 436.5V443.6M742.6 436.5V443.6"/>
</g>
<g font-family="Liberation Serif, serif" font-size="15" fill="#1a1a1a">
<text x="2.4" y="13" font-size="14.6"><tspan>(</tspan><tspan font-style="italic">a</tspan><tspan>)</tspan></text>
<text x="517.4" y="11.5" font-size="14.6"><tspan>(</tspan><tspan font-style="italic">b</tspan><tspan>)</tspan></text>
<g text-anchor="end">
<text x="40.4" y="37.9">1.0</text><text x="40.4" y="102.9">0.8</text><text x="40.4" y="167.9">0.6</text>
<text x="40.4" y="232.9">0.4</text><text x="40.4" y="297.9">0.2</text><text x="40.4" y="362.9">0</text>
<text x="564.3" y="72.9">10</text><text x="564.3" y="137.4">8</text><text x="564.3" y="201.6">6</text>
<text x="564.3" y="267.2">4</text><text x="564.3" y="331.6">2</text><text x="564.3" y="397">0</text>
</g>
<g text-anchor="middle">
<text x="116" y="396.2">−0.10</text><text x="192.2" y="396.2">−0.05</text><text x="270" y="396.2">0</text>
<text x="345" y="396.2">0.05</text><text x="421" y="396.2">0.10</text>
<text x="264.2" y="416.3">RBD between focal and opponent fish</text>
<text x="606.4" y="462">RBD</text><text x="672.4" y="462">RSD</text><text x="742.3" y="462">CFD</text>
<text transform="translate(13.3,195.8) rotate(-90)">probability of winning</text>
<text transform="translate(534.8,229) rotate(-90)">AIC(reduced model) − AIC(full model)</text>
</g>
<text x="627.3" y="38.5">relative differences in</text>
<text x="637.2" y="52.9">RBD: bar width</text>
<text x="637.2" y="66.8">RSD: body size</text>
<text x="637.2" y="81.2">CFD: condition factor</text>
<text x="67.4" y="464.7">bar width<tspan font-size="11" dy="4.8">(focal)</tspan><tspan dy="-4.8"> &lt; bar width</tspan><tspan font-size="11" dy="4.8">(opponent)</tspan></text>
<text x="293.4" y="464.7">bar width<tspan font-size="11" dy="4.8">(focal)</tspan><tspan dy="-4.8"> &gt; bar width</tspan><tspan font-size="11" dy="4.8">(opponent)</tspan></text>
</g>
<g stroke="#444" stroke-width="1.3" fill="#1a1a1a">
<line x1="253.3" y1="445.8" x2="127" y2="445.8"/>
<path d="M120 445.8L130 442.3L130 449.3Z" stroke="none"/>
<line x1="291.3" y1="445.8" x2="417" y2="445.8"/>
<path d="M424.1 445.8L414.1 442.3L414.1 449.3Z" stroke="none"/>
</g>
<g fill="none" stroke="#1a1a1a" stroke-width="1"><line x1="606.0" y1="107.1" x2="606.0" y2="159.3" stroke="#444" stroke-width="1" stroke-dasharray="3.2 3.4"/><line x1="606.0" y1="244.2" x2="606.0" y2="194.0" stroke="#444" stroke-width="1" stroke-dasharray="3.2 3.4"/><path d="M596.5 107.1H615.5M596.5 244.2H615.5" stroke="#333"/><rect x="587.2" y="159.3" width="37.6" height="34.7" fill="#fff" stroke="#333"/><line x1="587.2" y1="183.0" x2="624.8" y2="183.0" stroke="#111" stroke-width="2.6"/><circle cx="606.3" cy="54.6" r="3"/><circle cx="606.3" cy="61.7" r="3"/><circle cx="606.3" cy="63.7" r="3"/><circle cx="606.3" cy="65.6" r="3"/><circle cx="606.3" cy="68.5" r="3"/><circle cx="606.3" cy="70.5" r="3"/><circle cx="606.3" cy="72.4" r="3"/><circle cx="606.3" cy="73.2" r="3"/><circle cx="606.3" cy="74.9" r="3"/><circle cx="606.3" cy="75.5" r="3"/><circle cx="606.3" cy="77.0" r="3"/><circle cx="606.3" cy="78.0" r="3"/><circle cx="606.3" cy="78.8" r="3"/><circle cx="606.3" cy="80.2" r="3"/><circle cx="606.3" cy="81.2" r="3"/><circle cx="606.3" cy="82.7" r="3"/><circle cx="606.3" cy="83.3" r="3"/><circle cx="606.3" cy="84.5" r="3"/><circle cx="606.3" cy="85.8" r="3"/><circle cx="606.3" cy="86.6" r="3"/><circle cx="606.3" cy="88.0" r="3"/><circle cx="606.3" cy="89.0" r="3"/><circle cx="606.3" cy="90.3" r="3"/><circle cx="606.3" cy="91.2" r="3"/><circle cx="606.3" cy="92.5" r="3"/><circle cx="606.3" cy="93.5" r="3"/><circle cx="606.3" cy="94.3" r="3"/><circle cx="606.3" cy="95.7" r="3"/><circle cx="606.3" cy="96.7" r="3"/><circle cx="606.3" cy="97.5" r="3"/><circle cx="606.3" cy="98.6" r="3"/><circle cx="606.3" cy="99.8" r="3"/><circle cx="606.3" cy="101.1" r="3"/><circle cx="606.3" cy="102.4" r="3"/><circle cx="606.3" cy="103.5" r="3"/><circle cx="606.3" cy="104.1" r="3"/><circle cx="606.3" cy="105.5" r="3"/><circle cx="606.3" cy="247.9" r="3"/><circle cx="606.3" cy="248.7" r="3"/><circle cx="606.3" cy="249.2" r="3"/><circle cx="606.3" cy="250.4" r="3"/><circle cx="606.3" cy="251.0" r="3"/><circle cx="606.3" cy="251.7" r="3"/><circle cx="606.3" cy="254.6" r="3"/><circle cx="606.3" cy="256.2" r="3"/><circle cx="606.3" cy="259.1" r="3"/><circle cx="606.3" cy="287.6" r="3"/><circle cx="606.3" cy="292.2" r="3"/><circle cx="606.3" cy="296.4" r="3"/><circle cx="606.3" cy="305.5" r="3"/><circle cx="606.3" cy="314.5" r="3"/><circle cx="606.3" cy="345.3" r="3"/><line x1="673.2" y1="230.3" x2="673.2" y2="283.4" stroke="#444" stroke-width="1" stroke-dasharray="3.2 3.4"/><line x1="673.2" y1="373.2" x2="673.2" y2="320.0" stroke="#444" stroke-width="1" stroke-dasharray="3.2 3.4"/><path d="M663.7 230.3H682.7M663.7 373.2H682.7" stroke="#333"/><rect x="654.4000000000001" y="283.4" width="37.6" height="36.6" fill="#fff" stroke="#333"/><line x1="654.4000000000001" y1="308.7" x2="692.0" y2="308.7" stroke="#111" stroke-width="2.6"/><circle cx="673.5" cy="169.0" r="3"/><circle cx="673.5" cy="176.1" r="3"/><circle cx="673.5" cy="183.9" r="3"/><circle cx="673.5" cy="185.5" r="3"/><circle cx="673.5" cy="189.4" r="3"/><circle cx="673.5" cy="197.2" r="3"/><circle cx="673.5" cy="202.1" r="3"/><circle cx="673.5" cy="204.7" r="3"/><circle cx="673.5" cy="206.9" r="3"/><circle cx="673.5" cy="209.2" r="3"/><circle cx="673.5" cy="211.8" r="3"/><circle cx="673.5" cy="214.1" r="3"/><circle cx="673.5" cy="216.7" r="3"/><circle cx="673.5" cy="219.0" r="3"/><circle cx="673.5" cy="219.4" r="3"/><circle cx="673.5" cy="219.6" r="3"/><circle cx="673.5" cy="220.1" r="3"/><circle cx="673.5" cy="220.6" r="3"/><circle cx="673.5" cy="220.9" r="3"/><circle cx="673.5" cy="221.3" r="3"/><circle cx="673.5" cy="221.7" r="3"/><circle cx="673.5" cy="222.0" r="3"/><circle cx="673.5" cy="222.5" r="3"/><circle cx="673.5" cy="222.9" r="3"/><circle cx="673.5" cy="223.2" r="3"/><circle cx="673.5" cy="223.6" r="3"/><circle cx="673.5" cy="224.0" r="3"/><circle cx="673.5" cy="224.3" r="3"/><circle cx="673.5" cy="224.7" r="3"/><circle cx="673.5" cy="225.2" r="3"/><circle cx="673.5" cy="225.5" r="3"/><circle cx="673.5" cy="225.9" r="3"/><circle cx="673.5" cy="226.4" r="3"/><circle cx="673.5" cy="226.8" r="3"/><circle cx="673.5" cy="227.0" r="3"/><circle cx="673.5" cy="227.5" r="3"/><circle cx="673.5" cy="227.9" r="3"/><circle cx="673.5" cy="228.2" r="3"/><circle cx="673.5" cy="228.6" r="3"/><circle cx="673.5" cy="373.5" r="3"/><circle cx="673.5" cy="375.1" r="3"/><circle cx="673.5" cy="376.1" r="3"/><circle cx="673.5" cy="378.1" r="3"/><circle cx="673.5" cy="378.9" r="3"/><circle cx="673.5" cy="380.4" r="3"/><circle cx="673.5" cy="381.4" r="3"/><circle cx="673.5" cy="383.2" r="3"/><circle cx="673.5" cy="383.9" r="3"/><circle cx="673.5" cy="385.5" r="3"/><circle cx="673.5" cy="386.5" r="3"/><circle cx="673.5" cy="389.9" r="3"/><circle cx="673.5" cy="392.6" r="3"/><circle cx="673.5" cy="396.1" r="3"/><circle cx="673.5" cy="401.6" r="3"/><circle cx="673.5" cy="406.4" r="3"/><circle cx="673.5" cy="421.5" r="3"/><line x1="742.8" y1="239.3" x2="742.8" y2="288.0" stroke="#444" stroke-width="1" stroke-dasharray="3.2 3.4"/><line x1="742.8" y1="363.8" x2="742.8" y2="321.7" stroke="#444" stroke-width="1" stroke-dasharray="3.2 3.4"/><path d="M733.3 239.3H752.3M733.3 363.8H752.3" stroke="#333"/><rect x="724.0" y="288.0" width="37.6" height="33.7" fill="#fff" stroke="#333"/><line x1="724.0" y1="312.6" x2="761.5999999999999" y2="312.6" stroke="#111" stroke-width="2.6"/><circle cx="743.1" cy="181.7" r="3"/><circle cx="743.1" cy="185.9" r="3"/><circle cx="743.1" cy="206.9" r="3"/><circle cx="743.1" cy="209.9" r="3"/><circle cx="743.1" cy="212.1" r="3"/><circle cx="743.1" cy="212.4" r="3"/><circle cx="743.1" cy="212.9" r="3"/><circle cx="743.1" cy="213.4" r="3"/><circle cx="743.1" cy="213.8" r="3"/><circle cx="743.1" cy="214.1" r="3"/><circle cx="743.1" cy="214.5" r="3"/><circle cx="743.1" cy="214.9" r="3"/><circle cx="743.1" cy="215.3" r="3"/><circle cx="743.1" cy="215.5" r="3"/><circle cx="743.1" cy="216.0" r="3"/><circle cx="743.1" cy="216.5" r="3"/><circle cx="743.1" cy="216.8" r="3"/><circle cx="743.1" cy="217.1" r="3"/><circle cx="743.1" cy="217.5" r="3"/><circle cx="743.1" cy="217.9" r="3"/><circle cx="743.1" cy="218.4" r="3"/><circle cx="743.1" cy="218.7" r="3"/><circle cx="743.1" cy="219.1" r="3"/><circle cx="743.1" cy="219.6" r="3"/><circle cx="743.1" cy="219.9" r="3"/><circle cx="743.1" cy="220.4" r="3"/><circle cx="743.1" cy="220.6" r="3"/><circle cx="743.1" cy="221.2" r="3"/><circle cx="743.1" cy="221.4" r="3"/><circle cx="743.1" cy="221.8" r="3"/><circle cx="743.1" cy="222.3" r="3"/><circle cx="743.1" cy="222.5" r="3"/><circle cx="743.1" cy="222.9" r="3"/><circle cx="743.1" cy="223.5" r="3"/><circle cx="743.1" cy="223.8" r="3"/><circle cx="743.1" cy="224.3" r="3"/><circle cx="743.1" cy="224.6" r="3"/><circle cx="743.1" cy="225.0" r="3"/><circle cx="743.1" cy="225.4" r="3"/><circle cx="743.1" cy="225.8" r="3"/><circle cx="743.1" cy="226.1" r="3"/><circle cx="743.1" cy="226.5" r="3"/><circle cx="743.1" cy="227.0" r="3"/><circle cx="743.1" cy="227.3" r="3"/><circle cx="743.1" cy="227.7" r="3"/><circle cx="743.1" cy="228.0" r="3"/><circle cx="743.1" cy="228.5" r="3"/><circle cx="743.1" cy="228.9" r="3"/><circle cx="743.1" cy="229.2" r="3"/><circle cx="743.1" cy="229.6" r="3"/><circle cx="743.1" cy="230.0" r="3"/><circle cx="743.1" cy="230.5" r="3"/><circle cx="743.1" cy="230.9" r="3"/><circle cx="743.1" cy="231.1" r="3"/><circle cx="743.1" cy="231.7" r="3"/><circle cx="743.1" cy="231.9" r="3"/><circle cx="743.1" cy="232.4" r="3"/><circle cx="743.1" cy="232.6" r="3"/><circle cx="743.1" cy="233.2" r="3"/><circle cx="743.1" cy="233.4" r="3"/><circle cx="743.1" cy="233.9" r="3"/><circle cx="743.1" cy="234.4" r="3"/><circle cx="743.1" cy="234.6" r="3"/><circle cx="743.1" cy="235.0" r="3"/><circle cx="743.1" cy="235.4" r="3"/><circle cx="743.1" cy="235.8" r="3"/><circle cx="743.1" cy="236.3" r="3"/><circle cx="743.1" cy="236.6" r="3"/><circle cx="743.1" cy="237.1" r="3"/><circle cx="743.1" cy="237.4" r="3"/><circle cx="743.1" cy="237.8" r="3"/><circle cx="743.1" cy="238.2" r="3"/><circle cx="743.1" cy="238.5" r="3"/><circle cx="743.1" cy="375.1" r="3"/><circle cx="743.1" cy="377.1" r="3"/><circle cx="743.1" cy="378.9" r="3"/><circle cx="743.1" cy="381.3" r="3"/><circle cx="743.1" cy="383.4" r="3"/><circle cx="743.1" cy="385.5" r="3"/><circle cx="743.1" cy="387.8" r="3"/><circle cx="743.1" cy="390.7" r="3"/><circle cx="743.1" cy="394.6" r="3"/><circle cx="743.1" cy="399.8" r="3"/><circle cx="743.1" cy="416.0" r="3"/><circle cx="743.1" cy="420.2" r="3"/></g>
</svg>
</body></html>
